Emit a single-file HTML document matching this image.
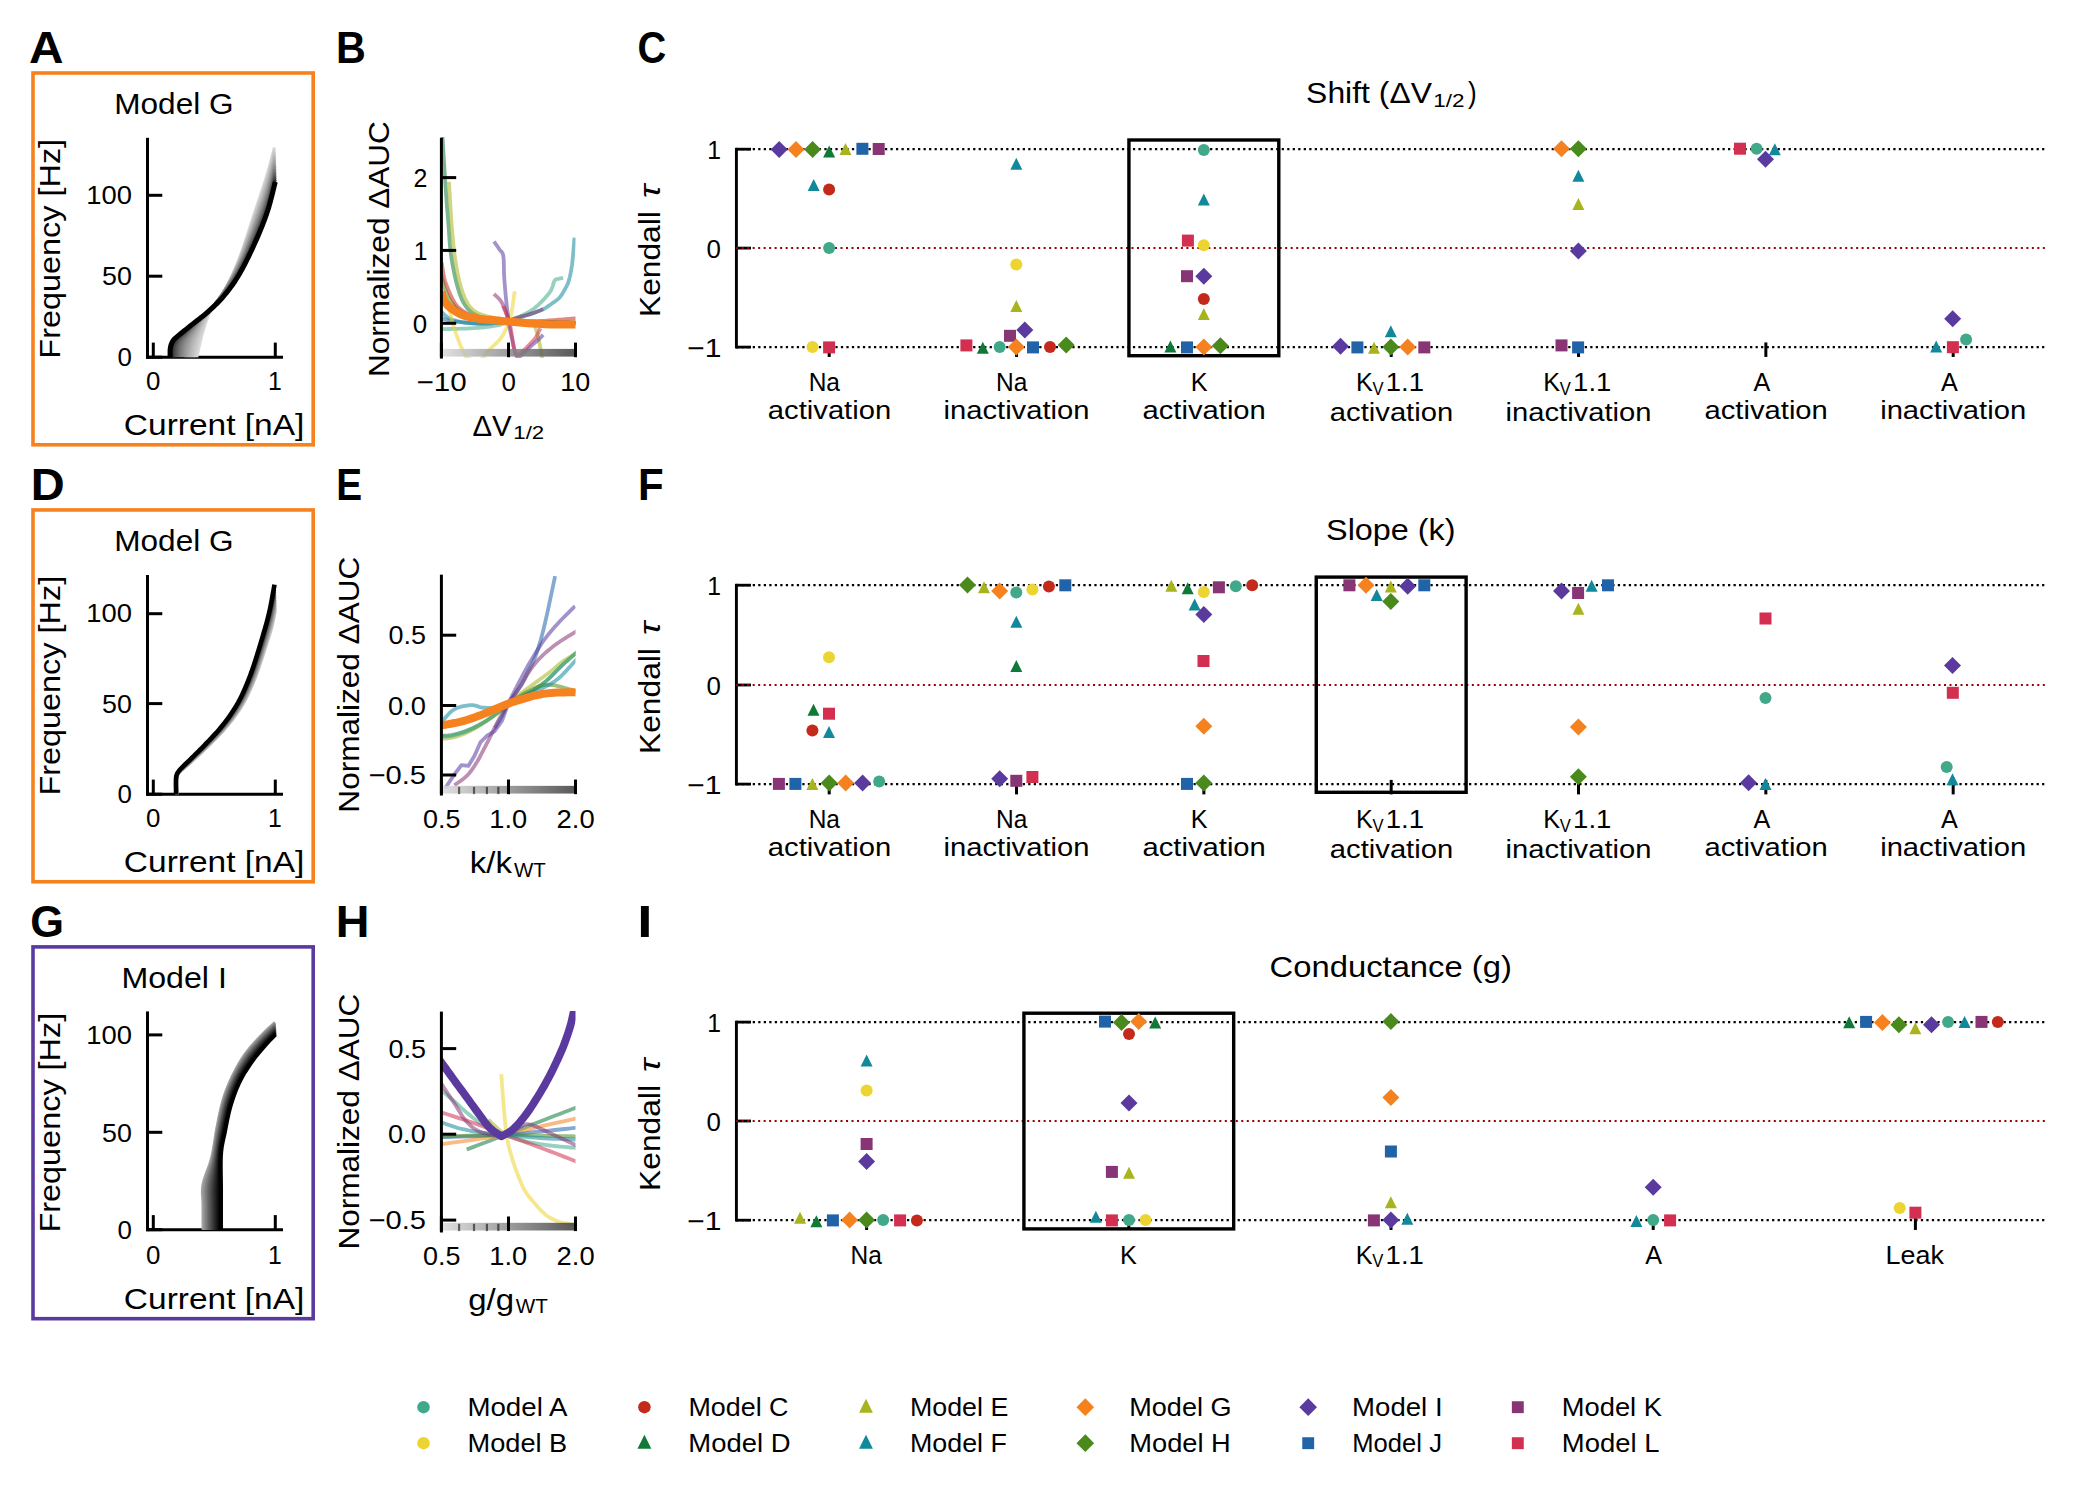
<!DOCTYPE html>
<html><head><meta charset="utf-8"><title>Figure</title><style>html,body{margin:0;padding:0;background:#fff;width:2076px;height:1497px;overflow:hidden}svg{display:block;font-family:"Liberation Sans",sans-serif}</style></head><body>
<svg width="2076" height="1497" viewBox="0 0 2076 1497" font-family="'Liberation Sans', sans-serif">
<defs><linearGradient id="gbar" x1="0" y1="0" x2="1" y2="0"><stop offset="0" stop-color="#dcdcdc"/><stop offset="0.5" stop-color="#8c8c8c"/><stop offset="1" stop-color="#3c3c3c"/></linearGradient></defs>
<rect width="2076" height="1497" fill="#fff"/>
<text x="29.01" y="62.90" font-size="44.51" textLength="34.54" lengthAdjust="spacingAndGlyphs" font-weight="bold" fill="#000">A</text>
<text x="336.10" y="62.90" font-size="44.51" textLength="29.83" lengthAdjust="spacingAndGlyphs" font-weight="bold" fill="#000">B</text>
<text x="637.47" y="62.90" font-size="44.51" textLength="28.75" lengthAdjust="spacingAndGlyphs" font-weight="bold" fill="#000">C</text>
<text x="30.71" y="499.85" font-size="44.51" textLength="33.94" lengthAdjust="spacingAndGlyphs" font-weight="bold" fill="#000">D</text>
<text x="336.27" y="499.85" font-size="44.51" textLength="25.87" lengthAdjust="spacingAndGlyphs" font-weight="bold" fill="#000">E</text>
<text x="638.05" y="499.85" font-size="44.51" textLength="25.66" lengthAdjust="spacingAndGlyphs" font-weight="bold" fill="#000">F</text>
<text x="30.32" y="936.80" font-size="44.51" textLength="33.73" lengthAdjust="spacingAndGlyphs" font-weight="bold" fill="#000">G</text>
<text x="335.74" y="936.80" font-size="44.51" textLength="33.68" lengthAdjust="spacingAndGlyphs" font-weight="bold" fill="#000">H</text>
<text x="637.19" y="936.80" font-size="44.51" textLength="15.23" lengthAdjust="spacingAndGlyphs" font-weight="bold" fill="#000">I</text>
<rect x="33.0" y="73.00" width="280.2" height="371.80" fill="none" stroke="#f5821f" stroke-width="3.6"/>
<rect x="33.0" y="509.95" width="280.2" height="371.80" fill="none" stroke="#f5821f" stroke-width="3.6"/>
<rect x="33.0" y="946.90" width="280.2" height="371.80" fill="none" stroke="#5a3a9e" stroke-width="3.6"/>
<line x1="147.50" y1="137.80" x2="147.50" y2="358.70" stroke="#000" stroke-width="3"/>
<line x1="146.00" y1="357.20" x2="283.00" y2="357.20" stroke="#000" stroke-width="3"/>
<line x1="153.30" y1="342.60" x2="153.30" y2="357.20" stroke="#000" stroke-width="3"/>
<line x1="275.30" y1="342.60" x2="275.30" y2="357.20" stroke="#000" stroke-width="3"/>
<line x1="147.50" y1="357.20" x2="162.30" y2="357.20" stroke="#000" stroke-width="3"/>
<text x="117.52" y="366.40" font-size="25.82" textLength="14.40" lengthAdjust="spacingAndGlyphs" fill="#000">0</text>
<line x1="147.50" y1="276.20" x2="162.30" y2="276.20" stroke="#000" stroke-width="3"/>
<text x="102.11" y="285.40" font-size="25.82" textLength="29.85" lengthAdjust="spacingAndGlyphs" fill="#000">50</text>
<line x1="147.50" y1="195.30" x2="162.30" y2="195.30" stroke="#000" stroke-width="3"/>
<text x="86.30" y="203.90" font-size="25.82" textLength="45.68" lengthAdjust="spacingAndGlyphs" fill="#000">100</text>
<text x="146.10" y="390.40" font-size="25.82" textLength="14.40" lengthAdjust="spacingAndGlyphs" fill="#000">0</text>
<text x="268.09" y="390.40" font-size="25.82" textLength="13.75" lengthAdjust="spacingAndGlyphs" fill="#000">1</text>
<text x="123.89" y="434.70" font-size="30.40" textLength="180.39" lengthAdjust="spacingAndGlyphs" fill="#000">Current [nA]</text>
<text transform="translate(60.40,356.01) rotate(-90)" x="-2.66" y="0" font-size="30.40" textLength="219.79" lengthAdjust="spacingAndGlyphs" fill="#000">Frequency [Hz]</text>
<text x="114.25" y="113.70" font-size="30.40" textLength="119.28" lengthAdjust="spacingAndGlyphs" fill="#000">Model G</text>
<line x1="147.50" y1="575.00" x2="147.50" y2="795.70" stroke="#000" stroke-width="3"/>
<line x1="146.00" y1="794.20" x2="283.00" y2="794.20" stroke="#000" stroke-width="3"/>
<line x1="153.30" y1="779.60" x2="153.30" y2="794.20" stroke="#000" stroke-width="3"/>
<line x1="275.30" y1="779.60" x2="275.30" y2="794.20" stroke="#000" stroke-width="3"/>
<line x1="147.50" y1="794.20" x2="162.30" y2="794.20" stroke="#000" stroke-width="3"/>
<text x="117.52" y="803.40" font-size="25.82" textLength="14.40" lengthAdjust="spacingAndGlyphs" fill="#000">0</text>
<line x1="147.50" y1="703.60" x2="162.30" y2="703.60" stroke="#000" stroke-width="3"/>
<text x="102.11" y="712.80" font-size="25.82" textLength="29.85" lengthAdjust="spacingAndGlyphs" fill="#000">50</text>
<line x1="147.50" y1="613.70" x2="162.30" y2="613.70" stroke="#000" stroke-width="3"/>
<text x="86.30" y="622.30" font-size="25.82" textLength="45.68" lengthAdjust="spacingAndGlyphs" fill="#000">100</text>
<text x="146.10" y="827.35" font-size="25.82" textLength="14.40" lengthAdjust="spacingAndGlyphs" fill="#000">0</text>
<text x="268.09" y="827.35" font-size="25.82" textLength="13.75" lengthAdjust="spacingAndGlyphs" fill="#000">1</text>
<text x="123.89" y="871.65" font-size="30.40" textLength="180.39" lengthAdjust="spacingAndGlyphs" fill="#000">Current [nA]</text>
<text transform="translate(60.40,792.96) rotate(-90)" x="-2.66" y="0" font-size="30.40" textLength="219.79" lengthAdjust="spacingAndGlyphs" fill="#000">Frequency [Hz]</text>
<text x="114.25" y="550.65" font-size="30.40" textLength="119.28" lengthAdjust="spacingAndGlyphs" fill="#000">Model G</text>
<line x1="147.50" y1="1011.40" x2="147.50" y2="1231.20" stroke="#000" stroke-width="3"/>
<line x1="146.00" y1="1229.70" x2="283.00" y2="1229.70" stroke="#000" stroke-width="3"/>
<line x1="153.30" y1="1215.10" x2="153.30" y2="1229.70" stroke="#000" stroke-width="3"/>
<line x1="275.30" y1="1215.10" x2="275.30" y2="1229.70" stroke="#000" stroke-width="3"/>
<line x1="147.50" y1="1229.70" x2="162.30" y2="1229.70" stroke="#000" stroke-width="3"/>
<text x="117.52" y="1238.90" font-size="25.82" textLength="14.40" lengthAdjust="spacingAndGlyphs" fill="#000">0</text>
<line x1="147.50" y1="1132.30" x2="162.30" y2="1132.30" stroke="#000" stroke-width="3"/>
<text x="102.11" y="1141.50" font-size="25.82" textLength="29.85" lengthAdjust="spacingAndGlyphs" fill="#000">50</text>
<line x1="147.50" y1="1034.90" x2="162.30" y2="1034.90" stroke="#000" stroke-width="3"/>
<text x="86.30" y="1043.50" font-size="25.82" textLength="45.68" lengthAdjust="spacingAndGlyphs" fill="#000">100</text>
<text x="146.10" y="1264.30" font-size="25.82" textLength="14.40" lengthAdjust="spacingAndGlyphs" fill="#000">0</text>
<text x="268.09" y="1264.30" font-size="25.82" textLength="13.75" lengthAdjust="spacingAndGlyphs" fill="#000">1</text>
<text x="123.89" y="1308.60" font-size="30.40" textLength="180.39" lengthAdjust="spacingAndGlyphs" fill="#000">Current [nA]</text>
<text transform="translate(60.40,1229.91) rotate(-90)" x="-2.66" y="0" font-size="30.40" textLength="219.79" lengthAdjust="spacingAndGlyphs" fill="#000">Frequency [Hz]</text>
<text x="121.45" y="987.60" font-size="30.40" textLength="105.44" lengthAdjust="spacingAndGlyphs" fill="#000">Model I</text>
<path d="M196.80 357.20 L197.42 354.42 L198.04 351.63 L198.66 348.85 L199.29 346.07 L199.94 343.30 L200.62 340.53 L201.31 337.76 L202.01 335.00 L202.75 332.25 L203.54 329.51 L204.40 326.79 L205.31 324.09 L206.21 321.38 L207.15 318.69 L208.19 316.04 L209.37 313.44 L210.68 310.91 L212.18 308.49 L213.91 306.23 L215.74 304.04 L217.58 301.86 L219.34 299.62 L220.99 297.30 L222.51 294.89 L223.92 292.41 L225.26 289.90 L226.56 287.36 L227.83 284.81 L229.08 282.24 L230.29 279.66 L231.49 277.08 L232.66 274.48 L233.80 271.87 L234.93 269.25 L236.03 266.62 L237.11 263.98 L238.16 261.33 L239.21 258.68 L240.20 256.01 L241.19 253.33 L242.13 250.64 L243.07 247.95 L243.99 245.25 L244.89 242.55 L245.79 239.84 L246.67 237.13 L247.55 234.42 L248.42 231.71 L249.30 228.99 L250.16 226.28 L251.03 223.56 L251.90 220.85 L252.77 218.13 L253.65 215.42 L254.54 212.71 L255.43 210.01 L256.34 207.30 L257.24 204.60 L258.16 201.90 L259.07 199.20 L259.98 196.50 L260.89 193.80 L261.80 191.09 L262.69 188.39 L263.58 185.68 L264.45 182.96 L265.30 180.25 L266.14 177.52 L266.96 174.79 L267.75 172.05 L268.53 169.31 L269.30 166.56 L270.05 163.82 L270.80 161.07 L271.55 158.31 L272.28 155.56 L273.02 152.81 L273.75 150.05 L274.50 147.30" fill="none" stroke="#d9d9d9" stroke-width="3.0" stroke-linejoin="round" stroke-linecap="butt" stroke-linecap="butt"/>
<path d="M195.13 357.20 L195.71 354.42 L196.29 351.65 L196.88 348.87 L197.50 346.10 L198.15 343.34 L198.86 340.59 L199.60 337.86 L200.38 335.16 L201.20 332.47 L202.07 329.80 L203.01 327.15 L203.99 324.51 L204.97 321.87 L205.98 319.24 L207.09 316.65 L208.32 314.11 L209.68 311.64 L211.22 309.27 L212.98 307.04 L214.83 304.89 L216.67 302.74 L218.45 300.53 L220.13 298.25 L221.68 295.87 L223.13 293.44 L224.51 290.97 L225.84 288.48 L227.16 285.97 L228.44 283.45 L229.69 280.91 L230.93 278.36 L232.13 275.79 L233.31 273.21 L234.47 270.63 L235.60 268.03 L236.72 265.43 L237.80 262.81 L238.88 260.18 L239.90 257.54 L240.92 254.89 L241.89 252.23 L242.86 249.56 L243.80 246.88 L244.73 244.20 L245.64 241.52 L246.55 238.83 L247.45 236.14 L248.34 233.45 L249.23 230.75 L250.12 228.05 L251.00 225.36 L251.89 222.66 L252.78 219.96 L253.67 217.27 L254.57 214.58 L255.48 211.89 L256.39 209.20 L257.31 206.51 L258.23 203.83 L259.15 201.14 L260.07 198.46 L260.98 195.77 L261.89 193.08 L262.79 190.38 L263.68 187.69 L264.55 184.99 L265.41 182.28 L266.25 179.57 L267.06 176.84 L267.85 174.12 L268.63 171.39 L269.39 168.65 L270.14 165.91 L270.89 163.17 L271.62 160.43 L272.35 157.69 L273.08 154.94 L273.81 152.20 L274.55 149.46" fill="none" stroke="#d1d1d1" stroke-width="3.0" stroke-linejoin="round" stroke-linecap="butt" stroke-linecap="butt"/>
<path d="M193.46 357.20 L194.00 354.43 L194.54 351.66 L195.10 348.89 L195.70 346.13 L196.36 343.38 L197.10 340.66 L197.89 337.96 L198.76 335.32 L199.66 332.70 L200.61 330.09 L201.62 327.50 L202.67 324.93 L203.72 322.35 L204.81 319.79 L205.98 317.26 L207.27 314.78 L208.68 312.36 L210.26 310.04 L212.04 307.85 L213.91 305.74 L215.77 303.62 L217.57 301.45 L219.27 299.20 L220.85 296.86 L222.33 294.48 L223.75 292.05 L225.13 289.60 L226.48 287.13 L227.81 284.65 L229.10 282.15 L230.37 279.63 L231.60 277.10 L232.82 274.56 L234.01 272.01 L235.18 269.44 L236.33 266.87 L237.44 264.28 L238.55 261.68 L239.60 259.07 L240.65 256.45 L241.65 253.81 L242.64 251.17 L243.61 248.51 L244.56 245.86 L245.50 243.19 L246.43 240.53 L247.35 237.86 L248.26 235.18 L249.17 232.51 L250.08 229.83 L250.98 227.15 L251.88 224.47 L252.78 221.80 L253.69 219.12 L254.61 216.44 L255.53 213.77 L256.45 211.10 L257.38 208.43 L258.30 205.76 L259.23 203.09 L260.16 200.41 L261.08 197.74 L261.99 195.06 L262.89 192.38 L263.78 189.70 L264.66 187.01 L265.51 184.31 L266.35 181.61 L267.16 178.90 L267.95 176.18 L268.73 173.46 L269.48 170.74 L270.23 168.01 L270.97 165.28 L271.70 162.55 L272.42 159.81 L273.14 157.08 L273.87 154.34 L274.60 151.61" fill="none" stroke="#c9c9c9" stroke-width="3.0" stroke-linejoin="round" stroke-linecap="butt" stroke-linecap="butt"/>
<path d="M191.79 357.20 L192.29 354.44 L192.79 351.68 L193.32 348.91 L193.91 346.16 L194.58 343.43 L195.34 340.72 L196.18 338.06 L197.13 335.48 L198.11 332.92 L199.14 330.38 L200.23 327.86 L201.35 325.35 L202.48 322.84 L203.64 320.34 L204.88 317.87 L206.22 315.45 L207.68 313.08 L209.30 310.81 L211.11 308.67 L212.99 306.58 L214.87 304.50 L216.69 302.36 L218.41 300.14 L220.02 297.85 L221.54 295.51 L223.00 293.12 L224.42 290.72 L225.81 288.29 L227.17 285.85 L228.50 283.39 L229.80 280.91 L231.08 278.42 L232.33 275.91 L233.56 273.39 L234.75 270.86 L235.94 268.31 L237.08 265.75 L238.22 263.19 L239.30 260.60 L240.38 258.00 L241.40 255.39 L242.42 252.77 L243.42 250.14 L244.39 247.51 L245.36 244.87 L246.31 242.22 L247.25 239.57 L248.18 236.92 L249.11 234.26 L250.04 231.61 L250.95 228.95 L251.87 226.29 L252.79 223.63 L253.71 220.97 L254.64 218.31 L255.57 215.65 L256.51 213.00 L257.44 210.34 L258.38 207.68 L259.31 205.03 L260.24 202.37 L261.17 199.71 L262.09 197.05 L262.99 194.38 L263.89 191.71 L264.76 189.03 L265.62 186.35 L266.46 183.66 L267.27 180.96 L268.05 178.25 L268.83 175.54 L269.58 172.83 L270.32 170.11 L271.05 167.39 L271.77 164.66 L272.49 161.94 L273.21 159.22 L273.92 156.49 L274.65 153.77" fill="none" stroke="#c1c1c1" stroke-width="3.0" stroke-linejoin="round" stroke-linecap="butt" stroke-linecap="butt"/>
<path d="M190.13 357.20 L190.58 354.44 L191.04 351.69 L191.54 348.93 L192.11 346.19 L192.79 343.47 L193.58 340.79 L194.47 338.16 L195.50 335.65 L196.56 333.15 L197.67 330.67 L198.84 328.21 L200.04 325.77 L201.24 323.32 L202.47 320.89 L203.77 318.48 L205.17 316.12 L206.68 313.81 L208.34 311.58 L210.17 309.48 L212.07 307.43 L213.97 305.38 L215.81 303.27 L217.55 301.09 L219.19 298.84 L220.75 296.54 L222.24 294.20 L223.70 291.84 L225.13 289.46 L226.54 287.06 L227.90 284.63 L229.24 282.19 L230.55 279.73 L231.83 277.26 L233.10 274.77 L234.33 272.27 L235.54 269.76 L236.72 267.23 L237.89 264.69 L239.00 262.13 L240.11 259.56 L241.16 256.97 L242.21 254.38 L243.23 251.78 L244.23 249.16 L245.21 246.54 L246.19 243.92 L247.15 241.29 L248.10 238.66 L249.05 236.02 L249.99 233.38 L250.93 230.74 L251.87 228.10 L252.80 225.46 L253.74 222.82 L254.68 220.18 L255.62 217.53 L256.56 214.89 L257.51 212.25 L258.45 209.61 L259.40 206.97 L260.33 204.33 L261.26 201.68 L262.18 199.03 L263.09 196.37 L263.99 193.72 L264.87 191.05 L265.73 188.38 L266.56 185.70 L267.37 183.01 L268.16 180.32 L268.92 177.62 L269.67 174.91 L270.41 172.21 L271.13 169.50 L271.85 166.78 L272.56 164.07 L273.27 161.35 L273.98 158.64 L274.70 155.93" fill="none" stroke="#b9b9b9" stroke-width="3.0" stroke-linejoin="round" stroke-linecap="butt" stroke-linecap="butt"/>
<path d="M188.46 357.20 L188.87 354.45 L189.30 351.70 L189.76 348.96 L190.32 346.22 L191.00 343.51 L191.82 340.85 L192.77 338.26 L193.87 335.81 L195.01 333.37 L196.20 330.96 L197.45 328.57 L198.72 326.19 L199.99 323.81 L201.30 321.44 L202.67 319.09 L204.12 316.78 L205.68 314.53 L207.38 312.35 L209.23 310.29 L211.15 308.28 L213.07 306.26 L214.92 304.19 L216.69 302.04 L218.36 299.83 L219.95 297.57 L221.49 295.28 L222.99 292.96 L224.46 290.62 L225.90 288.26 L227.31 285.88 L228.68 283.47 L230.03 281.05 L231.34 278.61 L232.64 276.15 L233.90 273.68 L235.15 271.20 L236.36 268.70 L237.56 266.19 L238.70 263.66 L239.83 261.12 L240.92 258.56 L241.99 255.99 L243.03 253.41 L244.06 250.82 L245.07 248.22 L246.06 245.61 L247.05 243.01 L248.02 240.39 L248.99 237.78 L249.95 235.16 L250.90 232.54 L251.86 229.91 L252.81 227.29 L253.76 224.66 L254.71 222.04 L255.67 219.42 L256.62 216.79 L257.58 214.17 L258.53 211.54 L259.48 208.91 L260.42 206.28 L261.36 203.65 L262.28 201.01 L263.19 198.37 L264.09 195.72 L264.97 193.07 L265.83 190.41 L266.67 187.75 L267.48 185.07 L268.26 182.38 L269.02 179.70 L269.76 177.00 L270.49 174.30 L271.21 171.60 L271.92 168.90 L272.63 166.19 L273.33 163.49 L274.03 160.78 L274.75 158.08" fill="none" stroke="#b0b0b0" stroke-width="3.0" stroke-linejoin="round" stroke-linecap="butt" stroke-linecap="butt"/>
<path d="M186.79 357.20 L187.17 354.46 L187.55 351.72 L187.98 348.98 L188.52 346.25 L189.22 343.55 L190.06 340.92 L191.06 338.36 L192.24 335.97 L193.47 333.60 L194.74 331.25 L196.06 328.92 L197.40 326.61 L198.75 324.29 L200.12 321.98 L201.56 319.70 L203.08 317.45 L204.68 315.25 L206.42 313.13 L208.30 311.10 L210.23 309.12 L212.16 307.13 L214.04 305.10 L215.83 302.99 L217.53 300.82 L219.16 298.60 L220.74 296.35 L222.27 294.08 L223.79 291.78 L225.27 289.46 L226.71 287.12 L228.12 284.75 L229.50 282.36 L230.85 279.95 L232.18 277.53 L233.48 275.10 L234.76 272.64 L236.00 270.17 L237.23 267.69 L238.40 265.19 L239.56 262.68 L240.68 260.14 L241.78 257.60 L242.84 255.04 L243.89 252.47 L244.93 249.89 L245.94 247.31 L246.95 244.72 L247.94 242.13 L248.93 239.53 L249.91 236.93 L250.88 234.33 L251.85 231.73 L252.81 229.12 L253.78 226.51 L254.75 223.91 L255.71 221.30 L256.68 218.69 L257.65 216.08 L258.60 213.47 L259.56 210.86 L260.51 208.24 L261.45 205.62 L262.38 203.00 L263.29 200.37 L264.20 197.73 L265.08 195.09 L265.94 192.45 L266.77 189.79 L267.58 187.13 L268.36 184.45 L269.12 181.77 L269.86 179.09 L270.58 176.40 L271.30 173.71 L272.00 171.02 L272.70 168.32 L273.39 165.63 L274.09 162.93 L274.80 160.24" fill="none" stroke="#a7a7a7" stroke-width="3.0" stroke-linejoin="round" stroke-linecap="butt" stroke-linecap="butt"/>
<path d="M185.12 357.20 L185.46 354.47 L185.80 351.73 L186.20 349.00 L186.73 346.28 L187.43 343.60 L188.30 340.98 L189.35 338.46 L190.61 336.13 L191.92 333.82 L193.27 331.54 L194.67 329.28 L196.09 327.02 L197.51 324.77 L198.95 322.53 L200.45 320.31 L202.03 318.12 L203.68 315.97 L205.46 313.90 L207.36 311.91 L209.32 309.97 L211.26 308.01 L213.16 306.01 L214.97 303.94 L216.70 301.81 L218.37 299.63 L219.98 297.43 L221.56 295.20 L223.11 292.95 L224.63 290.67 L226.11 288.36 L227.56 286.03 L228.97 283.67 L230.36 281.30 L231.72 278.91 L233.06 276.51 L234.37 274.09 L235.64 271.65 L236.90 269.20 L238.10 266.72 L239.29 264.23 L240.43 261.72 L241.56 259.20 L242.65 256.67 L243.73 254.12 L244.78 251.57 L245.82 249.01 L246.85 246.44 L247.86 243.87 L248.87 241.29 L249.86 238.71 L250.85 236.13 L251.84 233.54 L252.82 230.95 L253.80 228.36 L254.78 225.77 L255.76 223.18 L256.74 220.59 L257.71 217.99 L258.68 215.40 L259.64 212.80 L260.60 210.20 L261.54 207.59 L262.48 204.98 L263.39 202.36 L264.30 199.74 L265.18 197.12 L266.04 194.48 L266.88 191.84 L267.69 189.18 L268.46 186.52 L269.22 183.85 L269.95 181.18 L270.67 178.50 L271.38 175.82 L272.08 173.13 L272.77 170.45 L273.46 167.76 L274.15 165.08 L274.85 162.39" fill="none" stroke="#9e9e9e" stroke-width="3.0" stroke-linejoin="round" stroke-linecap="butt" stroke-linecap="butt"/>
<path d="M183.45 357.20 L183.75 354.47 L184.05 351.74 L184.41 349.02 L184.93 346.31 L185.64 343.64 L186.54 341.04 L187.64 338.56 L188.99 336.29 L190.37 334.05 L191.80 331.83 L193.27 329.63 L194.77 327.44 L196.26 325.26 L197.78 323.08 L199.35 320.92 L200.98 318.79 L202.69 316.70 L204.50 314.67 L206.42 312.73 L208.40 310.82 L210.36 308.89 L212.27 306.93 L214.11 304.89 L215.87 302.80 L217.57 300.67 L219.23 298.50 L220.85 296.32 L222.44 294.11 L224.00 291.87 L225.52 289.60 L227.00 287.31 L228.45 284.99 L229.87 282.65 L231.27 280.29 L232.63 277.92 L233.97 275.53 L235.28 273.12 L236.56 270.70 L237.81 268.25 L239.02 265.79 L240.19 263.30 L241.35 260.81 L242.46 258.30 L243.56 255.78 L244.64 253.24 L245.70 250.70 L246.75 248.16 L247.78 245.61 L248.81 243.05 L249.82 240.49 L250.83 237.92 L251.83 235.35 L252.83 232.78 L253.82 230.21 L254.82 227.64 L255.81 225.06 L256.79 222.49 L257.78 219.91 L258.75 217.33 L259.72 214.74 L260.69 212.15 L261.63 209.56 L262.57 206.96 L263.49 204.36 L264.40 201.75 L265.29 199.14 L266.15 196.51 L266.99 193.88 L267.79 191.24 L268.56 188.59 L269.31 185.93 L270.04 183.26 L270.76 180.60 L271.46 177.92 L272.15 175.25 L272.84 172.58 L273.52 169.90 L274.20 167.22 L274.90 164.55" fill="none" stroke="#949494" stroke-width="3.0" stroke-linejoin="round" stroke-linecap="butt" stroke-linecap="butt"/>
<path d="M181.78 357.20 L182.04 354.48 L182.30 351.76 L182.63 349.04 L183.14 346.34 L183.85 343.68 L184.78 341.11 L185.93 338.66 L187.36 336.45 L188.83 334.27 L190.34 332.12 L191.88 329.99 L193.45 327.86 L195.02 325.74 L196.61 323.63 L198.24 321.53 L199.93 319.46 L201.69 317.42 L203.54 315.44 L205.49 313.54 L207.48 311.66 L209.46 309.77 L211.39 307.84 L213.25 305.84 L215.04 303.79 L216.78 301.70 L218.47 299.58 L220.13 297.44 L221.77 295.27 L223.36 293.08 L224.92 290.85 L226.44 288.59 L227.92 286.30 L229.38 284.00 L230.81 281.68 L232.21 279.33 L233.58 276.98 L234.92 274.60 L236.23 272.20 L237.51 269.78 L238.75 267.35 L239.95 264.89 L241.13 262.42 L242.27 259.93 L243.39 257.43 L244.50 254.92 L245.58 252.40 L246.65 249.87 L247.70 247.34 L248.74 244.80 L249.78 242.26 L250.80 239.72 L251.82 237.17 L252.84 234.61 L253.84 232.06 L254.85 229.50 L255.85 226.94 L256.85 224.38 L257.85 221.82 L258.83 219.25 L259.81 216.68 L260.77 214.11 L261.73 211.53 L262.67 208.95 L263.59 206.36 L264.50 203.76 L265.39 201.16 L266.26 198.55 L267.09 195.92 L267.90 193.30 L268.66 190.65 L269.41 188.01 L270.14 185.35 L270.84 182.69 L271.54 180.03 L272.23 177.37 L272.91 174.70 L273.58 172.04 L274.26 169.37 L274.95 166.71" fill="none" stroke="#8a8a8a" stroke-width="3.0" stroke-linejoin="round" stroke-linecap="butt" stroke-linecap="butt"/>
<path d="M180.11 357.20 L180.33 354.49 L180.56 351.77 L180.85 349.06 L181.35 346.37 L182.07 343.73 L183.02 341.17 L184.22 338.76 L185.73 336.61 L187.28 334.50 L188.87 332.41 L190.49 330.34 L192.13 328.28 L193.78 326.23 L195.44 324.18 L197.14 322.14 L198.88 320.12 L200.69 318.14 L202.58 316.22 L204.55 314.35 L206.56 312.51 L208.56 310.65 L210.51 308.75 L212.39 306.79 L214.21 304.78 L215.98 302.73 L217.72 300.66 L219.42 298.56 L221.09 296.43 L222.73 294.28 L224.32 292.09 L225.88 289.87 L227.40 287.62 L228.88 285.34 L230.35 283.06 L231.78 280.75 L233.19 278.42 L234.56 276.07 L235.90 273.70 L237.21 271.31 L238.48 268.90 L239.71 266.47 L240.91 264.02 L242.08 261.56 L243.23 259.08 L244.35 256.60 L245.46 254.10 L246.55 251.59 L247.62 249.08 L248.68 246.56 L249.74 244.04 L250.78 241.51 L251.81 238.98 L252.84 236.45 L253.86 233.91 L254.88 231.37 L255.90 228.83 L256.91 226.28 L257.91 223.74 L258.90 221.18 L259.89 218.63 L260.86 216.07 L261.82 213.50 L262.77 210.93 L263.70 208.35 L264.61 205.77 L265.50 203.18 L266.36 200.58 L267.20 197.97 L268.00 195.35 L268.76 192.72 L269.51 190.08 L270.23 187.44 L270.93 184.79 L271.63 182.14 L272.30 179.48 L272.98 176.83 L273.64 174.17 L274.31 171.51 L275.00 168.86" fill="none" stroke="#7e7e7e" stroke-width="3.0" stroke-linejoin="round" stroke-linecap="butt" stroke-linecap="butt"/>
<path d="M178.44 357.20 L178.62 354.49 L178.81 351.78 L179.07 349.08 L179.55 346.40 L180.28 343.77 L181.26 341.24 L182.51 338.86 L184.10 336.77 L185.73 334.72 L187.40 332.70 L189.10 330.70 L190.82 328.70 L192.54 326.71 L194.27 324.73 L196.03 322.75 L197.83 320.79 L199.69 318.87 L201.62 316.99 L203.62 315.16 L205.64 313.35 L207.65 311.53 L209.63 309.66 L211.54 307.74 L213.38 305.77 L215.19 303.76 L216.96 301.73 L218.71 299.68 L220.42 297.60 L222.10 295.48 L223.73 293.33 L225.32 291.15 L226.87 288.93 L228.39 286.69 L229.89 284.44 L231.36 282.16 L232.80 279.86 L234.20 277.54 L235.57 275.21 L236.91 272.84 L238.21 270.46 L239.46 268.05 L240.70 265.63 L241.89 263.19 L243.06 260.74 L244.21 258.27 L245.34 255.79 L246.45 253.31 L247.54 250.82 L248.62 248.32 L249.69 245.81 L250.75 243.31 L251.80 240.79 L252.85 238.28 L253.89 235.76 L254.92 233.23 L255.95 230.71 L256.96 228.18 L257.98 225.65 L258.98 223.11 L259.97 220.57 L260.95 218.02 L261.91 215.47 L262.86 212.91 L263.80 210.35 L264.71 207.78 L265.60 205.20 L266.47 202.61 L267.30 200.01 L268.11 197.41 L268.87 194.79 L269.61 192.16 L270.32 189.53 L271.02 186.89 L271.71 184.25 L272.38 181.60 L273.05 178.96 L273.71 176.31 L274.37 173.66 L275.05 171.02" fill="none" stroke="#727272" stroke-width="3.0" stroke-linejoin="round" stroke-linecap="butt" stroke-linecap="butt"/>
<path d="M176.77 357.20 L176.91 354.50 L177.06 351.80 L177.29 349.10 L177.76 346.42 L178.49 343.81 L179.51 341.30 L180.80 338.96 L182.47 336.94 L184.19 334.95 L185.93 332.99 L187.71 331.05 L189.50 329.12 L191.29 327.20 L193.10 325.27 L194.92 323.36 L196.78 321.46 L198.69 319.59 L200.66 317.76 L202.68 315.98 L204.72 314.20 L206.75 312.41 L208.74 310.58 L210.68 308.69 L212.55 306.76 L214.40 304.79 L216.21 302.81 L217.99 300.80 L219.74 298.76 L221.46 296.69 L223.13 294.57 L224.76 292.43 L226.34 290.24 L227.90 288.04 L229.43 285.82 L230.93 283.57 L232.40 281.31 L233.84 279.02 L235.24 276.71 L236.61 274.37 L237.94 272.02 L239.22 269.64 L240.48 267.24 L241.70 264.82 L242.89 262.39 L244.07 259.95 L245.21 257.49 L246.34 255.02 L247.46 252.55 L248.56 250.07 L249.65 247.59 L250.73 245.10 L251.80 242.61 L252.86 240.11 L253.91 237.60 L254.95 235.10 L255.99 232.59 L257.02 230.08 L258.05 227.56 L259.05 225.04 L260.05 222.51 L261.04 219.98 L262.01 217.44 L262.96 214.90 L263.90 212.35 L264.81 209.79 L265.71 207.22 L266.57 204.65 L267.41 202.06 L268.21 199.46 L268.97 196.85 L269.71 194.24 L270.42 191.61 L271.11 188.99 L271.79 186.35 L272.45 183.72 L273.11 181.08 L273.77 178.44 L274.42 175.81 L275.10 173.18" fill="none" stroke="#656565" stroke-width="3.0" stroke-linejoin="round" stroke-linecap="butt" stroke-linecap="butt"/>
<path d="M175.11 357.20 L175.20 354.51 L175.31 351.81 L175.51 349.12 L175.96 346.45 L176.70 343.85 L177.75 341.37 L179.09 339.06 L180.85 337.10 L182.64 335.17 L184.47 333.28 L186.32 331.41 L188.18 329.54 L190.05 327.68 L191.92 325.82 L193.82 323.97 L195.74 322.13 L197.69 320.31 L199.69 318.53 L201.74 316.79 L203.80 315.05 L205.85 313.29 L207.86 311.49 L209.82 309.64 L211.73 307.74 L213.60 305.83 L215.46 303.89 L217.28 301.92 L219.07 299.92 L220.83 297.89 L222.53 295.82 L224.20 293.71 L225.82 291.56 L227.41 289.39 L228.98 287.20 L230.51 284.99 L232.01 282.75 L233.48 280.49 L234.91 278.21 L236.31 275.90 L237.67 273.57 L238.98 271.22 L240.27 268.85 L241.51 266.45 L242.73 264.04 L243.92 261.62 L245.09 259.19 L246.24 256.74 L247.38 254.29 L248.50 251.83 L249.61 249.37 L250.70 246.89 L251.79 244.42 L252.86 241.94 L253.93 239.45 L254.99 236.97 L256.04 234.47 L257.08 231.98 L258.11 229.48 L259.13 226.97 L260.13 224.46 L261.13 221.94 L262.10 219.41 L263.06 216.88 L264.00 214.34 L264.91 211.80 L265.81 209.24 L266.68 206.68 L267.51 204.10 L268.32 201.52 L269.07 198.92 L269.80 196.31 L270.51 193.70 L271.20 191.08 L271.87 188.46 L272.53 185.84 L273.18 183.21 L273.83 180.58 L274.48 177.95 L275.15 175.33" fill="none" stroke="#565656" stroke-width="3.0" stroke-linejoin="round" stroke-linecap="butt" stroke-linecap="butt"/>
<path d="M173.44 357.20 L173.49 354.51 L173.56 351.83 L173.73 349.14 L174.17 346.48 L174.92 343.90 L175.99 341.43 L177.39 339.16 L179.22 337.26 L181.09 335.40 L183.00 333.57 L184.93 331.76 L186.86 329.96 L188.81 328.16 L190.75 326.37 L192.71 324.58 L194.69 322.80 L196.69 321.04 L198.73 319.31 L200.81 317.60 L202.89 315.89 L204.95 314.17 L206.98 312.40 L208.96 310.59 L210.90 308.73 L212.81 306.86 L214.70 304.96 L216.57 303.04 L218.40 301.08 L220.19 299.09 L221.94 297.06 L223.64 294.98 L225.29 292.87 L226.92 290.74 L228.52 288.58 L230.09 286.40 L231.62 284.19 L233.12 281.96 L234.58 279.71 L236.01 277.44 L237.40 275.13 L238.74 272.80 L240.05 270.45 L241.32 268.08 L242.56 265.70 L243.78 263.30 L244.97 260.88 L246.14 258.46 L247.30 256.03 L248.44 253.59 L249.57 251.14 L250.68 248.69 L251.78 246.23 L252.87 243.77 L253.95 241.30 L255.02 238.83 L256.09 236.35 L257.14 233.87 L258.18 231.39 L259.20 228.90 L260.22 226.40 L261.21 223.89 L262.19 221.38 L263.16 218.87 L264.10 216.34 L265.02 213.81 L265.92 211.27 L266.78 208.71 L267.62 206.15 L268.42 203.58 L269.17 200.99 L269.90 198.39 L270.60 195.79 L271.28 193.18 L271.95 190.57 L272.61 187.95 L273.25 185.34 L273.89 182.72 L274.54 180.10 L275.20 177.49" fill="none" stroke="#454545" stroke-width="3.0" stroke-linejoin="round" stroke-linecap="butt" stroke-linecap="butt"/>
<path d="M171.77 357.20 L171.78 354.52 L171.82 351.84 L171.95 349.16 L172.37 346.51 L173.13 343.94 L174.23 341.50 L175.68 339.26 L177.59 337.42 L179.54 335.62 L181.53 333.86 L183.54 332.12 L185.55 330.38 L187.56 328.65 L189.58 326.92 L191.61 325.19 L193.64 323.46 L195.69 321.76 L197.77 320.08 L199.87 318.41 L201.97 316.74 L204.05 315.05 L206.09 313.32 L208.10 311.54 L210.07 309.72 L212.02 307.89 L213.95 306.04 L215.85 304.16 L217.72 302.25 L219.56 300.30 L221.34 298.30 L223.08 296.26 L224.77 294.19 L226.43 292.08 L228.06 289.96 L229.66 287.81 L231.23 285.64 L232.76 283.44 L234.25 281.21 L235.71 278.97 L237.12 276.69 L238.49 274.38 L239.83 272.06 L241.13 269.72 L242.39 267.35 L243.64 264.97 L244.85 262.58 L246.04 260.18 L247.22 257.77 L248.38 255.34 L249.52 252.92 L250.65 250.48 L251.77 248.04 L252.88 245.60 L253.97 243.15 L255.06 240.70 L256.13 238.24 L257.19 235.77 L258.25 233.30 L259.28 230.82 L260.30 228.34 L261.30 225.85 L262.28 223.35 L263.25 220.85 L264.20 218.34 L265.12 215.81 L266.02 213.29 L266.89 210.75 L267.72 208.19 L268.53 205.63 L269.27 203.05 L270.00 200.47 L270.69 197.88 L271.37 195.28 L272.04 192.68 L272.68 190.07 L273.32 187.46 L273.96 184.85 L274.59 182.25 L275.25 179.64" fill="none" stroke="#2f2f2f" stroke-width="3.0" stroke-linejoin="round" stroke-linecap="butt" stroke-linecap="butt"/>
<path d="M170.10 357.20 L170.08 354.53 L170.07 351.85 L170.17 349.18 L170.58 346.54 L171.34 343.98 L172.47 341.56 L173.97 339.36 L175.96 337.58 L178.00 335.85 L180.06 334.15 L182.14 332.47 L184.23 330.80 L186.32 329.13 L188.41 327.47 L190.50 325.80 L192.59 324.13 L194.69 322.48 L196.81 320.85 L198.93 319.22 L201.05 317.59 L203.15 315.93 L205.21 314.23 L207.24 312.49 L209.24 310.71 L211.22 308.92 L213.19 307.11 L215.14 305.28 L217.05 303.41 L218.92 301.50 L220.74 299.54 L222.52 297.54 L224.24 295.50 L225.93 293.43 L227.60 291.34 L229.24 289.23 L230.83 287.08 L232.40 284.91 L233.92 282.72 L235.41 280.50 L236.85 278.24 L238.25 275.97 L239.62 273.67 L240.94 271.35 L242.23 269.00 L243.49 266.65 L244.73 264.27 L245.94 261.89 L247.14 259.50 L248.32 257.10 L249.48 254.69 L250.63 252.28 L251.76 249.86 L252.89 247.43 L253.99 245.00 L255.09 242.56 L256.18 240.12 L257.25 237.67 L258.31 235.22 L259.35 232.75 L260.38 230.28 L261.39 227.81 L262.38 225.32 L263.35 222.83 L264.30 220.33 L265.22 217.82 L266.13 215.31 L267.00 212.78 L267.83 210.24 L268.63 207.69 L269.37 205.12 L270.10 202.55 L270.79 199.96 L271.46 197.38 L272.12 194.78 L272.76 192.19 L273.39 189.59 L274.02 186.99 L274.65 184.39 L275.30 181.80" fill="none" stroke="#000000" stroke-width="5.0" stroke-linejoin="round" stroke-linecap="butt" stroke-linecap="butt"/>
<path d="M177.00 794.20 L176.95 791.46 L176.89 788.73 L176.84 786.00 L176.82 783.26 L176.86 780.52 L177.03 777.80 L177.66 775.14 L179.20 772.89 L181.07 770.92 L183.23 769.23 L185.29 767.44 L187.35 765.63 L189.39 763.82 L191.42 761.99 L193.44 760.14 L195.45 758.29 L197.47 756.43 L199.47 754.58 L201.48 752.71 L203.47 750.84 L205.45 748.95 L207.42 747.05 L209.37 745.14 L211.32 743.22 L213.26 741.29 L215.19 739.35 L217.11 737.41 L219.02 735.44 L220.90 733.46 L222.76 731.45 L224.58 729.41 L226.37 727.34 L228.14 725.25 L229.87 723.14 L231.58 721.00 L233.25 718.83 L234.89 716.65 L236.49 714.43 L238.06 712.18 L239.59 709.91 L241.07 707.62 L242.50 705.29 L243.87 702.92 L245.18 700.52 L246.44 698.09 L247.67 695.64 L248.85 693.18 L250.00 690.70 L251.12 688.20 L252.21 685.69 L253.27 683.17 L254.30 680.64 L255.31 678.09 L256.29 675.54 L257.24 672.97 L258.16 670.40 L259.06 667.82 L259.94 665.22 L260.80 662.63 L261.64 660.03 L262.48 657.42 L263.32 654.82 L264.15 652.21 L264.98 649.61 L265.82 647.00 L266.67 644.40 L267.51 641.80 L268.35 639.20 L269.18 636.59 L270.00 633.98 L270.78 631.36 L271.53 628.73 L272.23 626.08 L272.86 623.42 L273.44 620.75 L273.98 618.07 L274.50 615.38 L274.99 612.69 L275.50 610.00" fill="none" stroke="#cccccc" stroke-width="3.0" stroke-linejoin="round" stroke-linecap="butt" stroke-linecap="butt"/>
<path d="M176.91 794.20 L176.86 791.44 L176.80 788.67 L176.75 785.91 L176.73 783.15 L176.77 780.38 L176.96 777.63 L177.63 774.96 L179.17 772.68 L181.07 770.68 L183.22 768.95 L185.29 767.12 L187.36 765.29 L189.42 763.44 L191.46 761.58 L193.49 759.71 L195.52 757.83 L197.54 755.95 L199.56 754.06 L201.58 752.17 L203.58 750.27 L205.58 748.35 L207.56 746.43 L209.52 744.48 L211.48 742.53 L213.43 740.58 L215.38 738.61 L217.30 736.63 L219.21 734.63 L221.10 732.61 L222.95 730.57 L224.78 728.49 L226.57 726.39 L228.33 724.26 L230.07 722.11 L231.77 719.93 L233.43 717.73 L235.07 715.50 L236.66 713.24 L238.21 710.95 L239.72 708.64 L241.19 706.30 L242.60 703.93 L243.96 701.52 L245.26 699.08 L246.51 696.62 L247.72 694.14 L248.90 691.64 L250.04 689.12 L251.15 686.59 L252.23 684.05 L253.28 681.49 L254.31 678.93 L255.31 676.35 L256.28 673.76 L257.23 671.17 L258.15 668.56 L259.04 665.95 L259.92 663.32 L260.78 660.70 L261.63 658.07 L262.47 655.44 L263.31 652.80 L264.14 650.17 L264.98 647.53 L265.81 644.90 L266.65 642.26 L267.49 639.63 L268.33 637.00 L269.14 634.36 L269.94 631.71 L270.71 629.06 L271.45 626.39 L272.13 623.72 L272.76 621.02 L273.34 618.32 L273.88 615.61 L274.39 612.90 L274.89 610.18 L275.40 607.46" fill="none" stroke="#bdbdbd" stroke-width="3.0" stroke-linejoin="round" stroke-linecap="butt" stroke-linecap="butt"/>
<path d="M176.82 794.20 L176.77 791.41 L176.71 788.62 L176.66 785.82 L176.64 783.03 L176.68 780.24 L176.88 777.46 L177.59 774.77 L179.15 772.47 L181.06 770.44 L183.21 768.66 L185.29 766.80 L187.37 764.94 L189.44 763.07 L191.49 761.18 L193.54 759.27 L195.58 757.37 L197.62 755.46 L199.65 753.55 L201.68 751.63 L203.70 749.70 L205.70 747.75 L207.69 745.80 L209.67 743.83 L211.64 741.85 L213.61 739.86 L215.56 737.87 L217.49 735.85 L219.41 733.82 L221.29 731.77 L223.15 729.68 L224.98 727.57 L226.77 725.43 L228.53 723.27 L230.26 721.08 L231.96 718.86 L233.62 716.62 L235.24 714.35 L236.82 712.05 L238.36 709.72 L239.86 707.37 L241.31 704.99 L242.71 702.58 L244.05 700.13 L245.33 697.65 L246.58 695.15 L247.78 692.63 L248.94 690.10 L250.07 687.55 L251.18 684.98 L252.25 682.40 L253.29 679.82 L254.31 677.22 L255.31 674.61 L256.27 671.99 L257.22 669.36 L258.13 666.72 L259.02 664.08 L259.90 661.43 L260.76 658.77 L261.61 656.11 L262.46 653.45 L263.29 650.78 L264.13 648.12 L264.97 645.46 L265.80 642.79 L266.64 640.13 L267.47 637.46 L268.30 634.80 L269.11 632.12 L269.89 629.44 L270.65 626.76 L271.37 624.06 L272.04 621.35 L272.66 618.63 L273.23 615.90 L273.77 613.16 L274.28 610.41 L274.79 607.66 L275.30 604.92" fill="none" stroke="#aeaeae" stroke-width="3.0" stroke-linejoin="round" stroke-linecap="butt" stroke-linecap="butt"/>
<path d="M176.73 794.20 L176.68 791.38 L176.62 788.56 L176.57 785.74 L176.55 782.92 L176.59 780.10 L176.81 777.29 L177.56 774.58 L179.13 772.25 L181.05 770.20 L183.20 768.38 L185.29 766.48 L187.38 764.59 L189.46 762.69 L191.53 760.77 L193.59 758.84 L195.64 756.91 L197.70 754.98 L199.74 753.04 L201.78 751.09 L203.81 749.13 L205.83 747.16 L207.83 745.17 L209.82 743.17 L211.81 741.17 L213.78 739.15 L215.74 737.12 L217.68 735.08 L219.60 733.01 L221.49 730.92 L223.35 728.80 L225.18 726.65 L226.97 724.48 L228.73 722.27 L230.45 720.05 L232.15 717.79 L233.80 715.51 L235.42 713.20 L236.99 710.86 L238.51 708.49 L239.99 706.10 L241.43 703.67 L242.81 701.22 L244.14 698.73 L245.41 696.22 L246.64 693.68 L247.83 691.13 L248.99 688.56 L250.11 685.97 L251.20 683.37 L252.27 680.76 L253.31 678.14 L254.32 675.51 L255.30 672.87 L256.27 670.21 L257.20 667.55 L258.11 664.88 L259.01 662.21 L259.88 659.53 L260.74 656.84 L261.59 654.15 L262.44 651.46 L263.28 648.77 L264.12 646.07 L264.96 643.38 L265.79 640.69 L266.63 637.99 L267.46 635.30 L268.27 632.60 L269.07 629.89 L269.84 627.18 L270.58 624.46 L271.28 621.73 L271.95 618.99 L272.56 616.23 L273.13 613.47 L273.66 610.70 L274.18 607.93 L274.68 605.15 L275.20 602.38" fill="none" stroke="#9f9f9f" stroke-width="3.0" stroke-linejoin="round" stroke-linecap="butt" stroke-linecap="butt"/>
<path d="M176.64 794.20 L176.59 791.35 L176.53 788.50 L176.48 785.65 L176.46 782.80 L176.51 779.95 L176.73 777.11 L177.52 774.39 L179.11 772.04 L181.04 769.96 L183.19 768.09 L185.29 766.17 L187.39 764.25 L189.49 762.31 L191.56 760.37 L193.64 758.41 L195.71 756.45 L197.77 754.49 L199.83 752.52 L201.89 750.55 L203.93 748.56 L205.95 746.56 L207.97 744.54 L209.97 742.52 L211.97 740.48 L213.95 738.44 L215.92 736.38 L217.87 734.30 L219.79 732.20 L221.69 730.07 L223.55 727.92 L225.38 725.74 L227.17 723.52 L228.93 721.28 L230.65 719.02 L232.34 716.72 L233.98 714.40 L235.59 712.05 L237.15 709.67 L238.67 707.26 L240.13 704.83 L241.55 702.36 L242.91 699.86 L244.22 697.34 L245.49 694.79 L246.71 692.21 L247.89 689.62 L249.03 687.02 L250.15 684.40 L251.23 681.76 L252.29 679.12 L253.32 676.46 L254.32 673.80 L255.30 671.12 L256.26 668.44 L257.19 665.75 L258.10 663.05 L258.99 660.34 L259.86 657.63 L260.72 654.91 L261.58 652.19 L262.43 649.47 L263.27 646.75 L264.11 644.03 L264.95 641.31 L265.78 638.58 L266.62 635.86 L267.44 633.13 L268.24 630.40 L269.03 627.66 L269.79 624.91 L270.51 622.16 L271.20 619.40 L271.85 616.62 L272.45 613.84 L273.02 611.05 L273.56 608.25 L274.07 605.45 L274.58 602.64 L275.10 599.84" fill="none" stroke="#8f8f8f" stroke-width="3.0" stroke-linejoin="round" stroke-linecap="butt" stroke-linecap="butt"/>
<path d="M176.55 794.20 L176.50 791.32 L176.44 788.44 L176.39 785.57 L176.37 782.69 L176.42 779.81 L176.66 776.94 L177.48 774.21 L179.09 771.82 L181.03 769.72 L183.18 767.80 L185.29 765.85 L187.41 763.90 L189.51 761.94 L191.60 759.96 L193.68 757.98 L195.77 755.99 L197.85 754.00 L199.92 752.01 L201.99 750.01 L204.04 747.99 L206.08 745.96 L208.11 743.91 L210.12 741.86 L212.13 739.80 L214.12 737.72 L216.10 735.64 L218.06 733.53 L219.99 731.39 L221.89 729.23 L223.75 727.04 L225.58 724.82 L227.37 722.57 L229.12 720.29 L230.84 717.99 L232.52 715.65 L234.17 713.29 L235.77 710.90 L237.32 708.49 L238.82 706.03 L240.27 703.55 L241.67 701.04 L243.02 698.51 L244.31 695.94 L245.56 693.35 L246.77 690.75 L247.94 688.12 L249.08 685.48 L250.19 682.82 L251.26 680.15 L252.31 677.48 L253.33 674.79 L254.33 672.09 L255.30 669.38 L256.25 666.66 L257.17 663.94 L258.08 661.21 L258.97 658.47 L259.84 655.73 L260.70 652.98 L261.56 650.24 L262.41 647.49 L263.26 644.74 L264.10 641.98 L264.94 639.23 L265.77 636.48 L266.60 633.72 L267.42 630.96 L268.21 628.20 L268.99 625.43 L269.73 622.65 L270.45 619.86 L271.12 617.07 L271.76 614.26 L272.35 611.44 L272.91 608.62 L273.45 605.79 L273.97 602.96 L274.48 600.13 L275.00 597.30" fill="none" stroke="#7e7e7e" stroke-width="3.0" stroke-linejoin="round" stroke-linecap="butt" stroke-linecap="butt"/>
<path d="M176.46 794.20 L176.41 791.29 L176.35 788.39 L176.30 785.48 L176.28 782.57 L176.33 779.67 L176.58 776.77 L177.45 774.02 L179.07 771.61 L181.03 769.48 L183.17 767.52 L185.29 765.53 L187.42 763.55 L189.53 761.56 L191.64 759.56 L193.73 757.54 L195.83 755.53 L197.93 753.52 L200.01 751.50 L202.09 749.46 L204.16 747.42 L206.21 745.36 L208.24 743.29 L210.27 741.20 L212.29 739.11 L214.30 737.01 L216.29 734.89 L218.25 732.75 L220.18 730.58 L222.08 728.38 L223.95 726.16 L225.78 723.90 L227.57 721.61 L229.32 719.30 L231.04 716.95 L232.71 714.58 L234.35 712.19 L235.94 709.76 L237.48 707.30 L238.97 704.80 L240.40 702.28 L241.79 699.73 L243.12 697.15 L244.40 694.55 L245.64 691.92 L246.84 689.28 L248.00 686.61 L249.13 683.94 L250.22 681.25 L251.29 678.55 L252.33 675.83 L253.35 673.11 L254.33 670.38 L255.30 667.64 L256.24 664.89 L257.16 662.13 L258.06 659.37 L258.95 656.60 L259.82 653.83 L260.69 651.05 L261.54 648.28 L262.40 645.50 L263.25 642.72 L264.09 639.94 L264.93 637.16 L265.76 634.37 L266.59 631.58 L267.40 628.79 L268.19 626.00 L268.95 623.19 L269.68 620.38 L270.38 617.56 L271.04 614.73 L271.66 611.90 L272.25 609.05 L272.81 606.20 L273.34 603.34 L273.86 600.48 L274.37 597.62 L274.90 594.76" fill="none" stroke="#6b6b6b" stroke-width="3.0" stroke-linejoin="round" stroke-linecap="butt" stroke-linecap="butt"/>
<path d="M176.37 794.20 L176.32 791.27 L176.26 788.33 L176.21 785.40 L176.20 782.46 L176.25 779.53 L176.51 776.60 L177.41 773.83 L179.04 771.40 L181.02 769.24 L183.16 767.23 L185.29 765.22 L187.43 763.21 L189.56 761.19 L191.67 759.15 L193.78 757.11 L195.90 755.07 L198.00 753.03 L200.10 750.98 L202.20 748.92 L204.27 746.85 L206.33 744.76 L208.38 742.66 L210.42 740.55 L212.45 738.43 L214.47 736.30 L216.47 734.15 L218.44 731.97 L220.38 729.77 L222.28 727.54 L224.15 725.28 L225.98 722.98 L227.77 720.66 L229.52 718.31 L231.23 715.92 L232.90 713.51 L234.53 711.08 L236.12 708.61 L237.65 706.11 L239.12 703.57 L240.54 701.01 L241.90 698.42 L243.22 695.80 L244.49 693.15 L245.72 690.49 L246.90 687.81 L248.05 685.11 L249.17 682.40 L250.26 679.67 L251.32 676.94 L252.36 674.19 L253.36 671.44 L254.34 668.67 L255.29 665.89 L256.23 663.11 L257.15 660.33 L258.05 657.53 L258.93 654.73 L259.80 651.93 L260.67 649.13 L261.53 646.32 L262.38 643.51 L263.23 640.70 L264.08 637.89 L264.92 635.08 L265.75 632.27 L266.58 629.45 L267.38 626.63 L268.16 623.80 L268.91 620.96 L269.63 618.12 L270.31 615.26 L270.96 612.40 L271.57 609.53 L272.15 606.65 L272.70 603.77 L273.24 600.89 L273.76 598.00 L274.27 595.11 L274.80 592.22" fill="none" stroke="#585858" stroke-width="3.0" stroke-linejoin="round" stroke-linecap="butt" stroke-linecap="butt"/>
<path d="M176.28 794.20 L176.23 791.24 L176.17 788.27 L176.12 785.31 L176.11 782.35 L176.16 779.38 L176.43 776.43 L177.38 773.64 L179.02 771.18 L181.01 768.99 L183.15 766.94 L185.29 764.90 L187.44 762.86 L189.58 760.81 L191.71 758.74 L193.83 756.68 L195.96 754.61 L198.08 752.55 L200.19 750.47 L202.30 748.38 L204.39 746.28 L206.46 744.16 L208.52 742.03 L210.57 739.89 L212.61 737.74 L214.64 735.58 L216.65 733.40 L218.63 731.20 L220.57 728.96 L222.48 726.69 L224.35 724.39 L226.18 722.06 L227.97 719.70 L229.72 717.31 L231.43 714.89 L233.09 712.45 L234.72 709.97 L236.29 707.46 L237.81 704.92 L239.27 702.34 L240.68 699.74 L242.02 697.10 L243.32 694.44 L244.58 691.76 L245.79 689.06 L246.97 686.34 L248.11 683.60 L249.22 680.86 L250.30 678.10 L251.35 675.33 L252.38 672.55 L253.38 669.76 L254.34 666.96 L255.29 664.15 L256.22 661.34 L257.13 658.52 L258.03 655.69 L258.91 652.86 L259.79 650.03 L260.65 647.20 L261.51 644.36 L262.37 641.52 L263.22 638.69 L264.07 635.85 L264.91 633.00 L265.75 630.16 L266.56 627.31 L267.36 624.46 L268.13 621.60 L268.87 618.73 L269.58 615.85 L270.24 612.96 L270.88 610.07 L271.47 607.17 L272.04 604.26 L272.60 601.35 L273.13 598.43 L273.65 595.51 L274.17 592.60 L274.70 589.68" fill="none" stroke="#424242" stroke-width="3.0" stroke-linejoin="round" stroke-linecap="butt" stroke-linecap="butt"/>
<path d="M176.19 794.20 L176.14 791.21 L176.08 788.22 L176.03 785.22 L176.02 782.23 L176.07 779.24 L176.36 776.26 L177.34 773.46 L179.00 770.97 L181.00 768.75 L183.14 766.66 L185.29 764.58 L187.45 762.51 L189.60 760.43 L191.74 758.34 L193.88 756.25 L196.02 754.16 L198.16 752.06 L200.29 749.96 L202.40 747.84 L204.50 745.71 L206.58 743.56 L208.66 741.40 L210.72 739.24 L212.78 737.06 L214.82 734.87 L216.83 732.66 L218.82 730.42 L220.77 728.15 L222.67 725.85 L224.54 723.51 L226.38 721.15 L228.17 718.75 L229.91 716.32 L231.62 713.86 L233.28 711.38 L234.90 708.86 L236.47 706.31 L237.98 703.73 L239.43 701.12 L240.81 698.46 L242.14 695.79 L243.43 693.09 L244.67 690.36 L245.87 687.62 L247.03 684.87 L248.16 682.10 L249.26 679.32 L250.34 676.52 L251.38 673.72 L252.40 670.91 L253.39 668.08 L254.35 665.25 L255.29 662.41 L256.21 659.56 L257.12 656.71 L258.01 653.86 L258.89 651.00 L259.77 648.13 L260.63 645.27 L261.49 642.40 L262.35 639.54 L263.21 636.67 L264.06 633.80 L264.90 630.93 L265.74 628.06 L266.55 625.18 L267.34 622.29 L268.10 619.40 L268.83 616.50 L269.52 613.58 L270.18 610.66 L270.80 607.74 L271.38 604.80 L271.94 601.86 L272.49 598.92 L273.02 595.98 L273.54 593.03 L274.07 590.08 L274.60 587.14" fill="none" stroke="#292929" stroke-width="3.0" stroke-linejoin="round" stroke-linecap="butt" stroke-linecap="butt"/>
<path d="M176.10 794.20 L176.05 791.18 L175.99 788.16 L175.94 785.14 L175.93 782.12 L175.99 779.10 L176.29 776.09 L177.31 773.27 L178.98 770.75 L180.99 768.51 L183.13 766.37 L185.29 764.27 L187.47 762.17 L189.63 760.06 L191.78 757.93 L193.93 755.82 L196.09 753.70 L198.23 751.57 L200.38 749.44 L202.50 747.30 L204.62 745.14 L206.71 742.96 L208.79 740.77 L210.87 738.58 L212.94 736.38 L214.99 734.16 L217.01 731.92 L219.01 729.65 L220.96 727.34 L222.87 725.00 L224.74 722.63 L226.58 720.23 L228.36 717.79 L230.11 715.33 L231.81 712.83 L233.47 710.31 L235.08 707.75 L236.64 705.16 L238.14 702.54 L239.58 699.89 L240.95 697.19 L242.26 694.47 L243.53 691.73 L244.76 688.97 L245.95 686.19 L247.10 683.40 L248.22 680.59 L249.31 677.78 L250.37 674.95 L251.41 672.11 L252.42 669.26 L253.40 666.41 L254.36 663.54 L255.29 660.67 L256.20 657.79 L257.11 654.90 L258.00 652.02 L258.88 649.13 L259.75 646.23 L260.61 643.34 L261.48 640.45 L262.34 637.55 L263.20 634.65 L264.05 631.76 L264.90 628.85 L265.73 625.95 L266.54 623.04 L267.32 620.12 L268.08 617.20 L268.79 614.26 L269.47 611.32 L270.11 608.37 L270.71 605.41 L271.28 602.44 L271.84 599.47 L272.38 596.50 L272.91 593.52 L273.44 590.55 L273.96 587.57 L274.50 584.60" fill="none" stroke="#000000" stroke-width="4.6" stroke-linejoin="round" stroke-linecap="butt" stroke-linecap="butt"/>
<path d="M203.00 1229.70 L203.00 1226.82 L203.00 1223.95 L203.00 1221.07 L203.00 1218.20 L203.00 1215.32 L203.00 1212.45 L203.00 1209.57 L203.00 1206.70 L202.97 1203.82 L202.87 1200.95 L202.68 1198.08 L202.48 1195.21 L202.36 1192.34 L202.41 1189.47 L202.66 1186.60 L203.12 1183.77 L203.78 1180.97 L204.61 1178.22 L205.55 1175.50 L206.54 1172.80 L207.55 1170.11 L208.55 1167.41 L209.52 1164.71 L210.42 1161.97 L211.23 1159.21 L211.94 1156.43 L212.57 1153.62 L213.11 1150.80 L213.61 1147.97 L214.08 1145.13 L214.53 1142.29 L214.97 1139.45 L215.41 1136.61 L215.85 1133.77 L216.32 1130.93 L216.84 1128.11 L217.38 1125.28 L217.94 1122.46 L218.49 1119.64 L219.05 1116.82 L219.63 1114.00 L220.23 1111.19 L220.86 1108.39 L221.53 1105.59 L222.25 1102.81 L223.03 1100.04 L223.87 1097.29 L224.77 1094.56 L225.73 1091.85 L226.74 1089.16 L227.80 1086.49 L228.92 1083.83 L230.07 1081.20 L231.27 1078.59 L232.50 1075.99 L233.77 1073.41 L235.07 1070.85 L236.42 1068.30 L237.80 1065.78 L239.22 1063.29 L240.70 1060.82 L242.22 1058.38 L243.80 1055.98 L245.44 1053.62 L247.16 1051.31 L248.95 1049.06 L250.79 1046.86 L252.69 1044.69 L254.61 1042.56 L256.57 1040.45 L258.53 1038.35 L260.51 1036.26 L262.52 1034.21 L264.56 1032.18 L266.63 1030.18 L268.71 1028.20 L270.81 1026.24 L272.91 1024.27 L275.00 1022.30" fill="none" stroke="#a8a8a8" stroke-width="3.0" stroke-linejoin="round" stroke-linecap="butt" stroke-linecap="butt"/>
<path d="M203.82 1229.70 L203.82 1226.83 L203.82 1223.97 L203.82 1221.10 L203.82 1218.24 L203.82 1215.37 L203.82 1212.51 L203.82 1209.64 L203.82 1206.78 L203.79 1203.91 L203.69 1201.05 L203.51 1198.19 L203.33 1195.33 L203.21 1192.47 L203.26 1189.60 L203.50 1186.75 L203.93 1183.92 L204.56 1181.13 L205.35 1178.38 L206.25 1175.66 L207.19 1172.97 L208.15 1170.28 L209.10 1167.58 L210.03 1164.88 L210.89 1162.15 L211.66 1159.40 L212.34 1156.62 L212.94 1153.82 L213.47 1151.00 L213.95 1148.18 L214.42 1145.35 L214.86 1142.52 L215.30 1139.69 L215.74 1136.86 L216.19 1134.03 L216.67 1131.20 L217.18 1128.38 L217.72 1125.57 L218.28 1122.76 L218.83 1119.95 L219.39 1117.14 L219.97 1114.33 L220.56 1111.53 L221.19 1108.73 L221.85 1105.94 L222.57 1103.17 L223.34 1100.41 L224.18 1097.67 L225.08 1094.95 L226.03 1092.25 L227.03 1089.56 L228.08 1086.90 L229.19 1084.25 L230.34 1081.63 L231.53 1079.02 L232.75 1076.43 L234.01 1073.86 L235.30 1071.30 L236.64 1068.77 L238.02 1066.25 L239.44 1063.77 L240.91 1061.31 L242.43 1058.88 L244.00 1056.48 L245.64 1054.13 L247.35 1051.83 L249.12 1049.58 L250.96 1047.38 L252.84 1045.22 L254.75 1043.09 L256.69 1040.98 L258.65 1038.88 L260.61 1036.80 L262.61 1034.75 L264.64 1032.72 L266.69 1030.73 L268.77 1028.75 L270.85 1026.78 L272.94 1024.82 L275.02 1022.85" fill="none" stroke="#a0a0a0" stroke-width="3.0" stroke-linejoin="round" stroke-linecap="butt" stroke-linecap="butt"/>
<path d="M204.64 1229.70 L204.64 1226.84 L204.64 1223.99 L204.64 1221.13 L204.64 1218.28 L204.64 1215.42 L204.64 1212.57 L204.64 1209.71 L204.64 1206.85 L204.61 1204.00 L204.52 1201.15 L204.35 1198.30 L204.17 1195.45 L204.06 1192.59 L204.10 1189.74 L204.33 1186.89 L204.75 1184.07 L205.35 1181.29 L206.10 1178.54 L206.95 1175.83 L207.84 1173.13 L208.75 1170.44 L209.66 1167.75 L210.54 1165.05 L211.36 1162.33 L212.09 1159.58 L212.74 1156.80 L213.32 1154.01 L213.82 1151.20 L214.30 1148.39 L214.75 1145.57 L215.19 1142.75 L215.62 1139.92 L216.07 1137.10 L216.53 1134.29 L217.01 1131.47 L217.53 1128.66 L218.07 1125.86 L218.62 1123.06 L219.17 1120.25 L219.73 1117.45 L220.30 1114.66 L220.90 1111.86 L221.52 1109.08 L222.18 1106.30 L222.89 1103.53 L223.66 1100.78 L224.49 1098.05 L225.38 1095.34 L226.32 1092.64 L227.32 1089.97 L228.36 1087.31 L229.46 1084.67 L230.60 1082.05 L231.78 1079.45 L232.99 1076.87 L234.25 1074.30 L235.53 1071.76 L236.86 1069.23 L238.24 1066.72 L239.65 1064.25 L241.12 1061.79 L242.63 1059.37 L244.20 1056.99 L245.83 1054.64 L247.53 1052.35 L249.30 1050.11 L251.12 1047.91 L252.99 1045.75 L254.89 1043.62 L256.82 1041.51 L258.76 1039.42 L260.72 1037.34 L262.70 1035.29 L264.72 1033.27 L266.76 1031.27 L268.82 1029.29 L270.89 1027.33 L272.97 1025.38 L275.05 1023.41" fill="none" stroke="#989898" stroke-width="3.0" stroke-linejoin="round" stroke-linecap="butt" stroke-linecap="butt"/>
<path d="M205.45 1229.70 L205.45 1226.85 L205.45 1224.01 L205.45 1221.16 L205.45 1218.32 L205.45 1215.47 L205.45 1212.62 L205.45 1209.78 L205.45 1206.93 L205.43 1204.09 L205.34 1201.24 L205.18 1198.40 L205.01 1195.56 L204.90 1192.72 L204.95 1189.87 L205.16 1187.04 L205.56 1184.23 L206.13 1181.45 L206.84 1178.71 L207.64 1176.00 L208.49 1173.30 L209.36 1170.61 L210.22 1167.92 L211.05 1165.22 L211.83 1162.50 L212.52 1159.76 L213.15 1156.99 L213.69 1154.20 L214.18 1151.40 L214.64 1148.60 L215.08 1145.79 L215.52 1142.97 L215.95 1140.16 L216.40 1137.35 L216.87 1134.54 L217.35 1131.74 L217.87 1128.94 L218.41 1126.15 L218.96 1123.36 L219.51 1120.56 L220.07 1117.77 L220.64 1114.98 L221.23 1112.20 L221.85 1109.42 L222.50 1106.65 L223.21 1103.90 L223.97 1101.16 L224.80 1098.43 L225.68 1095.73 L226.62 1093.04 L227.60 1090.37 L228.64 1087.72 L229.73 1085.09 L230.86 1082.48 L232.03 1079.89 L233.24 1077.31 L234.48 1074.75 L235.76 1072.21 L237.09 1069.69 L238.46 1067.19 L239.87 1064.72 L241.33 1062.28 L242.84 1059.87 L244.41 1057.49 L246.03 1055.16 L247.72 1052.87 L249.47 1050.63 L251.28 1048.43 L253.14 1046.27 L255.03 1044.15 L256.94 1042.04 L258.87 1039.95 L260.82 1037.88 L262.79 1035.83 L264.79 1033.81 L266.83 1031.81 L268.88 1029.84 L270.94 1027.88 L273.01 1025.93 L275.07 1023.96" fill="none" stroke="#8f8f8f" stroke-width="3.0" stroke-linejoin="round" stroke-linecap="butt" stroke-linecap="butt"/>
<path d="M206.27 1229.70 L206.27 1226.86 L206.27 1224.03 L206.27 1221.19 L206.27 1218.36 L206.27 1215.52 L206.27 1212.68 L206.27 1209.85 L206.27 1207.01 L206.25 1204.17 L206.16 1201.34 L206.01 1198.51 L205.85 1195.68 L205.75 1192.84 L205.79 1190.01 L206.00 1187.18 L206.37 1184.38 L206.91 1181.61 L207.58 1178.87 L208.34 1176.16 L209.14 1173.47 L209.96 1170.78 L210.77 1168.09 L211.56 1165.40 L212.29 1162.68 L212.96 1159.94 L213.55 1157.18 L214.07 1154.40 L214.54 1151.60 L214.98 1148.80 L215.42 1146.00 L215.85 1143.20 L216.28 1140.40 L216.73 1137.60 L217.20 1134.80 L217.70 1132.01 L218.22 1129.22 L218.76 1126.44 L219.30 1123.65 L219.85 1120.87 L220.40 1118.09 L220.97 1115.31 L221.56 1112.54 L222.18 1109.77 L222.83 1107.01 L223.53 1104.26 L224.29 1101.53 L225.11 1098.81 L225.99 1096.12 L226.91 1093.44 L227.89 1090.78 L228.92 1088.13 L230.00 1085.51 L231.12 1082.91 L232.29 1080.32 L233.49 1077.75 L234.72 1075.20 L236.00 1072.66 L237.31 1070.15 L238.68 1067.67 L240.09 1065.20 L241.54 1062.77 L243.05 1060.37 L244.61 1058.00 L246.23 1055.67 L247.91 1053.39 L249.65 1051.15 L251.44 1048.96 L253.29 1046.80 L255.16 1044.68 L257.07 1042.58 L258.99 1040.49 L260.92 1038.41 L262.88 1036.37 L264.87 1034.35 L266.89 1032.36 L268.93 1030.38 L270.98 1028.43 L273.04 1026.48 L275.09 1024.52" fill="none" stroke="#878787" stroke-width="3.0" stroke-linejoin="round" stroke-linecap="butt" stroke-linecap="butt"/>
<path d="M207.09 1229.70 L207.09 1226.87 L207.09 1224.05 L207.09 1221.22 L207.09 1218.39 L207.09 1215.57 L207.09 1212.74 L207.09 1209.92 L207.09 1207.09 L207.07 1204.26 L206.99 1201.44 L206.84 1198.62 L206.69 1195.80 L206.60 1192.97 L206.64 1190.15 L206.83 1187.33 L207.18 1184.53 L207.69 1181.77 L208.32 1179.03 L209.04 1176.33 L209.79 1173.64 L210.56 1170.95 L211.33 1168.27 L212.07 1165.57 L212.76 1162.85 L213.39 1160.12 L213.95 1157.36 L214.44 1154.59 L214.89 1151.80 L215.32 1149.01 L215.75 1146.22 L216.17 1143.43 L216.61 1140.63 L217.07 1137.84 L217.54 1135.06 L218.04 1132.28 L218.56 1129.50 L219.10 1126.73 L219.65 1123.95 L220.19 1121.18 L220.74 1118.41 L221.31 1115.64 L221.89 1112.87 L222.50 1110.11 L223.15 1107.36 L223.85 1104.62 L224.60 1101.90 L225.42 1099.19 L226.29 1096.50 L227.21 1093.83 L228.18 1091.18 L229.20 1088.54 L230.27 1085.93 L231.39 1083.33 L232.54 1080.75 L233.73 1078.19 L234.96 1075.64 L236.23 1073.12 L237.54 1070.61 L238.90 1068.14 L240.30 1065.68 L241.75 1063.26 L243.26 1060.87 L244.81 1058.51 L246.42 1056.18 L248.09 1053.91 L249.82 1051.67 L251.61 1049.48 L253.44 1047.33 L255.30 1045.21 L257.19 1043.11 L259.10 1041.02 L261.02 1038.95 L262.97 1036.91 L264.95 1034.89 L266.96 1032.90 L268.98 1030.93 L271.03 1028.98 L273.07 1027.03 L275.11 1025.07" fill="none" stroke="#7f7f7f" stroke-width="3.0" stroke-linejoin="round" stroke-linecap="butt" stroke-linecap="butt"/>
<path d="M207.91 1229.70 L207.91 1226.88 L207.91 1224.07 L207.91 1221.25 L207.91 1218.43 L207.91 1215.62 L207.91 1212.80 L207.91 1209.98 L207.91 1207.17 L207.89 1204.35 L207.81 1201.54 L207.68 1198.72 L207.53 1195.91 L207.45 1193.10 L207.48 1190.28 L207.66 1187.47 L207.99 1184.68 L208.47 1181.92 L209.06 1179.20 L209.74 1176.49 L210.44 1173.81 L211.16 1171.12 L211.88 1168.44 L212.58 1165.74 L213.23 1163.03 L213.82 1160.30 L214.35 1157.55 L214.82 1154.78 L215.25 1152.00 L215.67 1149.22 L216.08 1146.44 L216.50 1143.65 L216.94 1140.87 L217.40 1138.09 L217.88 1135.32 L218.38 1132.55 L218.91 1129.78 L219.44 1127.01 L219.99 1124.25 L220.53 1121.49 L221.08 1118.72 L221.64 1115.96 L222.22 1113.21 L222.83 1110.46 L223.48 1107.72 L224.17 1104.99 L224.92 1102.27 L225.73 1099.57 L226.59 1096.89 L227.51 1094.23 L228.47 1091.58 L229.48 1088.96 L230.54 1086.35 L231.65 1083.76 L232.79 1081.19 L233.98 1078.63 L235.20 1076.09 L236.46 1073.57 L237.76 1071.08 L239.12 1068.61 L240.52 1066.16 L241.97 1063.75 L243.46 1061.36 L245.01 1059.01 L246.62 1056.70 L248.28 1054.43 L250.00 1052.19 L251.77 1050.00 L253.59 1047.85 L255.44 1045.73 L257.32 1043.64 L259.22 1041.56 L261.13 1039.49 L263.06 1037.44 L265.03 1035.43 L267.02 1033.44 L269.04 1031.48 L271.07 1029.52 L273.11 1027.58 L275.14 1025.63" fill="none" stroke="#777777" stroke-width="3.0" stroke-linejoin="round" stroke-linecap="butt" stroke-linecap="butt"/>
<path d="M208.73 1229.70 L208.73 1226.89 L208.73 1224.09 L208.73 1221.28 L208.73 1218.47 L208.73 1215.67 L208.73 1212.86 L208.73 1210.05 L208.73 1207.24 L208.71 1204.44 L208.64 1201.63 L208.51 1198.83 L208.38 1196.03 L208.29 1193.22 L208.33 1190.42 L208.50 1187.62 L208.81 1184.84 L209.25 1182.08 L209.80 1179.36 L210.43 1176.66 L211.09 1173.97 L211.77 1171.29 L212.44 1168.61 L213.09 1165.92 L213.70 1163.21 L214.25 1160.48 L214.75 1157.73 L215.20 1154.97 L215.61 1152.20 L216.01 1149.43 L216.41 1146.65 L216.83 1143.88 L217.27 1141.11 L217.73 1138.34 L218.22 1135.57 L218.72 1132.81 L219.25 1130.06 L219.79 1127.30 L220.33 1124.55 L220.87 1121.79 L221.42 1119.04 L221.98 1116.29 L222.56 1113.55 L223.16 1110.80 L223.80 1108.07 L224.49 1105.35 L225.23 1102.64 L226.04 1099.95 L226.89 1097.28 L227.80 1094.63 L228.76 1091.99 L229.76 1089.37 L230.81 1086.77 L231.91 1084.18 L233.05 1081.62 L234.22 1079.07 L235.43 1076.54 L236.69 1074.03 L237.99 1071.54 L239.33 1069.08 L240.73 1066.64 L242.18 1064.24 L243.67 1061.86 L245.22 1059.52 L246.81 1057.21 L248.47 1054.94 L250.18 1052.72 L251.93 1050.53 L253.74 1048.38 L255.58 1046.26 L257.44 1044.17 L259.33 1042.09 L261.23 1040.03 L263.15 1037.98 L265.11 1035.97 L267.09 1033.98 L269.09 1032.02 L271.11 1030.07 L273.14 1028.13 L275.16 1026.18" fill="none" stroke="#6e6e6e" stroke-width="3.0" stroke-linejoin="round" stroke-linecap="butt" stroke-linecap="butt"/>
<path d="M209.55 1229.70 L209.55 1226.90 L209.55 1224.11 L209.55 1221.31 L209.55 1218.51 L209.55 1215.71 L209.55 1212.92 L209.55 1210.12 L209.55 1207.32 L209.53 1204.53 L209.46 1201.73 L209.34 1198.94 L209.22 1196.14 L209.14 1193.35 L209.17 1190.55 L209.33 1187.76 L209.62 1184.99 L210.03 1182.24 L210.55 1179.52 L211.13 1176.83 L211.74 1174.14 L212.37 1171.46 L212.99 1168.78 L213.60 1166.09 L214.17 1163.38 L214.69 1160.66 L215.15 1157.92 L215.57 1155.17 L215.97 1152.41 L216.35 1149.64 L216.75 1146.87 L217.16 1144.10 L217.59 1141.34 L218.06 1138.59 L218.55 1135.83 L219.07 1133.08 L219.60 1130.34 L220.13 1127.59 L220.67 1124.85 L221.21 1122.10 L221.75 1119.36 L222.31 1116.62 L222.89 1113.88 L223.49 1111.15 L224.13 1108.43 L224.81 1105.71 L225.55 1103.02 L226.34 1100.34 L227.20 1097.67 L228.10 1095.02 L229.05 1092.39 L230.04 1089.78 L231.09 1087.19 L232.17 1084.61 L233.30 1082.05 L234.47 1079.51 L235.67 1076.98 L236.92 1074.48 L238.21 1072.00 L239.55 1069.55 L240.95 1067.12 L242.39 1064.73 L243.88 1062.36 L245.42 1060.02 L247.01 1057.72 L248.66 1055.46 L250.35 1053.24 L252.09 1051.05 L253.89 1048.91 L255.71 1046.79 L257.57 1044.70 L259.44 1042.63 L261.33 1040.56 L263.25 1038.52 L265.19 1036.51 L267.15 1034.53 L269.15 1032.57 L271.16 1030.62 L273.17 1028.68 L275.18 1026.74" fill="none" stroke="#666666" stroke-width="3.0" stroke-linejoin="round" stroke-linecap="butt" stroke-linecap="butt"/>
<path d="M210.36 1229.70 L210.36 1226.91 L210.36 1224.13 L210.36 1221.34 L210.36 1218.55 L210.36 1215.76 L210.36 1212.98 L210.36 1210.19 L210.36 1207.40 L210.35 1204.61 L210.29 1201.83 L210.17 1199.04 L210.06 1196.26 L209.99 1193.48 L210.02 1190.69 L210.16 1187.91 L210.43 1185.14 L210.81 1182.40 L211.29 1179.69 L211.83 1176.99 L212.39 1174.31 L212.97 1171.63 L213.55 1168.95 L214.11 1166.26 L214.64 1163.56 L215.12 1160.84 L215.55 1158.11 L215.95 1155.36 L216.32 1152.61 L216.70 1149.85 L217.08 1147.09 L217.49 1144.33 L217.92 1141.58 L218.39 1138.83 L218.89 1136.09 L219.41 1133.35 L219.94 1130.62 L220.48 1127.88 L221.01 1125.15 L221.55 1122.41 L222.09 1119.68 L222.65 1116.95 L223.22 1114.22 L223.82 1111.50 L224.45 1108.78 L225.13 1106.08 L225.86 1103.39 L226.65 1100.72 L227.50 1098.06 L228.39 1095.42 L229.34 1092.80 L230.32 1090.19 L231.36 1087.61 L232.44 1085.04 L233.55 1082.48 L234.71 1079.95 L235.91 1077.43 L237.15 1074.93 L238.43 1072.46 L239.77 1070.02 L241.16 1067.60 L242.60 1065.21 L244.09 1062.86 L245.62 1060.53 L247.21 1058.24 L248.84 1055.98 L250.53 1053.76 L252.26 1051.58 L254.04 1049.43 L255.85 1047.32 L257.70 1045.23 L259.56 1043.16 L261.44 1041.10 L263.34 1039.06 L265.26 1037.05 L267.22 1035.07 L269.20 1033.11 L271.20 1031.17 L273.21 1029.23 L275.20 1027.29" fill="none" stroke="#5e5e5e" stroke-width="3.0" stroke-linejoin="round" stroke-linecap="butt" stroke-linecap="butt"/>
<path d="M211.18 1229.70 L211.18 1226.92 L211.18 1224.14 L211.18 1221.37 L211.18 1218.59 L211.18 1215.81 L211.18 1213.03 L211.18 1210.26 L211.18 1207.48 L211.17 1204.70 L211.11 1201.93 L211.01 1199.15 L210.90 1196.38 L210.83 1193.60 L210.86 1190.82 L211.00 1188.05 L211.24 1185.30 L211.59 1182.56 L212.03 1179.85 L212.53 1177.16 L213.04 1174.48 L213.58 1171.80 L214.10 1169.12 L214.62 1166.44 L215.11 1163.74 L215.55 1161.02 L215.96 1158.29 L216.32 1155.55 L216.68 1152.81 L217.04 1150.06 L217.41 1147.31 L217.81 1144.56 L218.25 1141.81 L218.73 1139.08 L219.23 1136.35 L219.75 1133.62 L220.28 1130.90 L220.82 1128.17 L221.35 1125.44 L221.89 1122.72 L222.43 1119.99 L222.98 1117.27 L223.55 1114.55 L224.15 1111.84 L224.78 1109.14 L225.45 1106.44 L226.18 1103.76 L226.96 1101.10 L227.80 1098.45 L228.69 1095.82 L229.62 1093.20 L230.60 1090.60 L231.63 1088.02 L232.70 1085.46 L233.81 1082.92 L234.96 1080.39 L236.14 1077.88 L237.38 1075.39 L238.66 1072.92 L239.99 1070.49 L241.38 1068.08 L242.81 1065.70 L244.29 1063.35 L245.82 1061.04 L247.40 1058.75 L249.03 1056.50 L250.70 1054.28 L252.42 1052.10 L254.19 1049.96 L255.99 1047.85 L257.82 1045.76 L259.67 1043.69 L261.54 1041.64 L263.43 1039.60 L265.34 1037.59 L267.29 1035.61 L269.26 1033.66 L271.24 1031.72 L273.24 1029.78 L275.23 1027.85" fill="none" stroke="#565656" stroke-width="3.0" stroke-linejoin="round" stroke-linecap="butt" stroke-linecap="butt"/>
<path d="M212.00 1229.70 L212.00 1226.93 L212.00 1224.16 L212.00 1221.40 L212.00 1218.63 L212.00 1215.86 L212.00 1213.09 L212.00 1210.33 L212.00 1207.56 L211.99 1204.79 L211.93 1202.02 L211.84 1199.26 L211.74 1196.49 L211.68 1193.73 L211.71 1190.96 L211.83 1188.20 L212.05 1185.45 L212.37 1182.72 L212.77 1180.01 L213.22 1177.33 L213.70 1174.65 L214.18 1171.97 L214.66 1169.29 L215.14 1166.61 L215.58 1163.91 L215.98 1161.20 L216.36 1158.48 L216.70 1155.75 L217.04 1153.01 L217.38 1150.26 L217.75 1147.52 L218.14 1144.78 L218.58 1142.05 L219.06 1139.33 L219.57 1136.61 L220.09 1133.89 L220.63 1131.18 L221.16 1128.46 L221.70 1125.74 L222.23 1123.03 L222.76 1120.31 L223.32 1117.60 L223.88 1114.89 L224.47 1112.19 L225.10 1109.49 L225.77 1106.81 L226.49 1104.13 L227.27 1101.48 L228.11 1098.84 L228.99 1096.22 L229.91 1093.61 L230.88 1091.02 L231.90 1088.44 L232.96 1085.89 L234.06 1083.35 L235.20 1080.83 L236.38 1078.32 L237.61 1075.84 L238.88 1073.39 L240.21 1070.96 L241.59 1068.56 L243.02 1066.19 L244.50 1063.85 L246.03 1061.54 L247.60 1059.26 L249.22 1057.02 L250.88 1054.81 L252.58 1052.63 L254.34 1050.49 L256.13 1048.38 L257.95 1046.30 L259.79 1044.23 L261.64 1042.18 L263.52 1040.14 L265.42 1038.13 L267.35 1036.15 L269.31 1034.20 L271.29 1032.26 L273.27 1030.34 L275.25 1028.40" fill="none" stroke="#4f4f4f" stroke-width="3.0" stroke-linejoin="round" stroke-linecap="butt" stroke-linecap="butt"/>
<path d="M212.82 1229.70 L212.82 1226.94 L212.82 1224.18 L212.82 1221.43 L212.82 1218.67 L212.82 1215.91 L212.82 1213.15 L212.82 1210.39 L212.82 1207.64 L212.81 1204.88 L212.76 1202.12 L212.67 1199.37 L212.58 1196.61 L212.53 1193.85 L212.55 1191.10 L212.66 1188.34 L212.87 1185.60 L213.16 1182.88 L213.51 1180.18 L213.92 1177.49 L214.35 1174.81 L214.78 1172.14 L215.22 1169.46 L215.65 1166.78 L216.04 1164.09 L216.41 1161.38 L216.76 1158.67 L217.08 1155.94 L217.39 1153.21 L217.72 1150.47 L218.08 1147.74 L218.47 1145.01 L218.91 1142.29 L219.39 1139.57 L219.90 1136.86 L220.44 1134.16 L220.97 1131.45 L221.51 1128.75 L222.04 1126.04 L222.57 1123.33 L223.10 1120.63 L223.65 1117.93 L224.21 1115.23 L224.80 1112.53 L225.43 1109.85 L226.09 1107.17 L226.81 1104.51 L227.58 1101.86 L228.41 1099.23 L229.28 1096.61 L230.20 1094.01 L231.16 1091.43 L232.17 1088.86 L233.22 1086.31 L234.32 1083.78 L235.45 1081.27 L236.62 1078.77 L237.84 1076.30 L239.11 1073.85 L240.43 1071.43 L241.81 1069.04 L243.24 1066.68 L244.71 1064.35 L246.23 1062.05 L247.79 1059.78 L249.40 1057.54 L251.05 1055.33 L252.75 1053.15 L254.49 1051.01 L256.26 1048.91 L258.07 1046.83 L259.90 1044.76 L261.74 1042.71 L263.61 1040.68 L265.50 1038.68 L267.42 1036.70 L269.37 1034.75 L271.33 1032.81 L273.31 1030.89 L275.27 1028.95" fill="none" stroke="#474747" stroke-width="3.0" stroke-linejoin="round" stroke-linecap="butt" stroke-linecap="butt"/>
<path d="M213.64 1229.70 L213.64 1226.95 L213.64 1224.20 L213.64 1221.46 L213.64 1218.71 L213.64 1215.96 L213.64 1213.21 L213.64 1210.46 L213.64 1207.71 L213.63 1204.97 L213.58 1202.22 L213.51 1199.47 L213.43 1196.73 L213.38 1193.98 L213.40 1191.23 L213.50 1188.49 L213.68 1185.76 L213.94 1183.04 L214.25 1180.34 L214.62 1177.66 L215.00 1174.98 L215.38 1172.31 L215.77 1169.63 L216.16 1166.95 L216.51 1164.26 L216.85 1161.56 L217.16 1158.85 L217.45 1156.13 L217.75 1153.41 L218.07 1150.68 L218.41 1147.96 L218.80 1145.24 L219.23 1142.52 L219.72 1139.82 L220.24 1137.12 L220.78 1134.43 L221.32 1131.73 L221.85 1129.04 L222.38 1126.34 L222.91 1123.64 L223.44 1120.95 L223.98 1118.25 L224.55 1115.56 L225.13 1112.88 L225.75 1110.20 L226.41 1107.53 L227.12 1104.88 L227.89 1102.24 L228.71 1099.62 L229.58 1097.01 L230.49 1094.42 L231.44 1091.84 L232.44 1089.28 L233.49 1086.74 L234.57 1084.21 L235.69 1081.71 L236.86 1079.22 L238.07 1076.75 L239.33 1074.31 L240.65 1071.90 L242.03 1069.52 L243.45 1067.17 L244.92 1064.85 L246.43 1062.55 L247.99 1060.29 L249.59 1058.06 L251.23 1055.85 L252.91 1053.68 L254.64 1051.54 L256.40 1049.44 L258.20 1047.36 L260.01 1045.30 L261.85 1043.25 L263.70 1041.22 L265.58 1039.22 L267.48 1037.24 L269.42 1035.29 L271.37 1033.36 L273.34 1031.44 L275.30 1029.51" fill="none" stroke="#3f3f3f" stroke-width="3.0" stroke-linejoin="round" stroke-linecap="butt" stroke-linecap="butt"/>
<path d="M214.45 1229.70 L214.45 1226.96 L214.45 1224.22 L214.45 1221.48 L214.45 1218.75 L214.45 1216.01 L214.45 1213.27 L214.45 1210.53 L214.45 1207.79 L214.45 1205.05 L214.41 1202.32 L214.34 1199.58 L214.27 1196.84 L214.22 1194.11 L214.24 1191.37 L214.33 1188.63 L214.49 1185.91 L214.72 1183.20 L215.00 1180.50 L215.31 1177.82 L215.65 1175.15 L215.99 1172.48 L216.33 1169.80 L216.67 1167.13 L216.98 1164.44 L217.28 1161.74 L217.56 1159.04 L217.83 1156.33 L218.11 1153.61 L218.41 1150.89 L218.74 1148.17 L219.12 1145.46 L219.56 1142.76 L220.05 1140.07 L220.58 1137.38 L221.12 1134.70 L221.66 1132.01 L222.20 1129.33 L222.72 1126.64 L223.25 1123.95 L223.78 1121.26 L224.32 1118.58 L224.88 1115.90 L225.46 1113.22 L226.08 1110.55 L226.73 1107.90 L227.44 1105.25 L228.20 1102.62 L229.01 1100.01 L229.87 1097.41 L230.78 1094.82 L231.72 1092.25 L232.71 1089.70 L233.75 1087.16 L234.82 1084.65 L235.94 1082.15 L237.09 1079.66 L238.30 1077.20 L239.56 1074.77 L240.87 1072.37 L242.24 1070.00 L243.66 1067.66 L245.13 1065.34 L246.63 1063.06 L248.19 1060.80 L249.78 1058.57 L251.40 1056.37 L253.07 1054.20 L254.78 1052.07 L256.54 1049.97 L258.32 1047.89 L260.13 1045.83 L261.95 1043.79 L263.79 1041.76 L265.65 1039.76 L267.55 1037.78 L269.47 1035.84 L271.42 1033.91 L273.37 1031.99 L275.32 1030.06" fill="none" stroke="#373737" stroke-width="3.0" stroke-linejoin="round" stroke-linecap="butt" stroke-linecap="butt"/>
<path d="M215.27 1229.70 L215.27 1226.97 L215.27 1224.24 L215.27 1221.51 L215.27 1218.78 L215.27 1216.06 L215.27 1213.33 L215.27 1210.60 L215.27 1207.87 L215.26 1205.14 L215.23 1202.41 L215.17 1199.69 L215.11 1196.96 L215.07 1194.23 L215.09 1191.50 L215.16 1188.78 L215.30 1186.06 L215.50 1183.36 L215.74 1180.67 L216.01 1177.99 L216.30 1175.32 L216.59 1172.65 L216.88 1169.97 L217.18 1167.30 L217.45 1164.62 L217.71 1161.92 L217.96 1159.23 L218.20 1156.52 L218.46 1153.81 L218.75 1151.10 L219.08 1148.39 L219.45 1145.69 L219.89 1143.00 L220.38 1140.31 L220.92 1137.64 L221.46 1134.97 L222.01 1132.29 L222.54 1129.62 L223.06 1126.94 L223.59 1124.26 L224.11 1121.58 L224.65 1118.91 L225.21 1116.24 L225.79 1113.57 L226.40 1110.91 L227.05 1108.26 L227.75 1105.62 L228.51 1103.00 L229.32 1100.40 L230.17 1097.80 L231.07 1095.23 L232.00 1092.66 L232.99 1090.12 L234.01 1087.59 L235.08 1085.08 L236.18 1082.59 L237.33 1080.11 L238.53 1077.66 L239.78 1075.23 L241.09 1072.84 L242.46 1070.48 L243.87 1068.15 L245.33 1065.84 L246.84 1063.56 L248.38 1061.32 L249.97 1059.09 L251.58 1056.90 L253.23 1054.73 L254.93 1052.59 L256.68 1050.50 L258.45 1048.42 L260.24 1046.37 L262.05 1044.33 L263.88 1042.30 L265.73 1040.30 L267.62 1038.33 L269.53 1036.38 L271.46 1034.46 L273.40 1032.54 L275.34 1030.62" fill="none" stroke="#303030" stroke-width="3.0" stroke-linejoin="round" stroke-linecap="butt" stroke-linecap="butt"/>
<path d="M216.09 1229.70 L216.09 1226.98 L216.09 1224.26 L216.09 1221.54 L216.09 1218.82 L216.09 1216.10 L216.09 1213.39 L216.09 1210.67 L216.09 1207.95 L216.08 1205.23 L216.05 1202.51 L216.00 1199.79 L215.95 1197.08 L215.92 1194.36 L215.93 1191.64 L216.00 1188.92 L216.11 1186.21 L216.28 1183.52 L216.48 1180.83 L216.71 1178.16 L216.95 1175.48 L217.19 1172.82 L217.44 1170.15 L217.69 1167.47 L217.92 1164.79 L218.14 1162.11 L218.37 1159.41 L218.58 1156.71 L218.82 1154.01 L219.09 1151.31 L219.41 1148.61 L219.78 1145.92 L220.22 1143.23 L220.72 1140.56 L221.25 1137.90 L221.81 1135.23 L222.35 1132.57 L222.88 1129.90 L223.41 1127.24 L223.93 1124.57 L224.45 1121.90 L224.99 1119.23 L225.54 1116.57 L226.12 1113.91 L226.73 1111.26 L227.38 1108.62 L228.07 1105.99 L228.82 1103.38 L229.62 1100.78 L230.47 1098.20 L231.35 1095.63 L232.28 1093.08 L233.26 1090.54 L234.27 1088.02 L235.33 1085.51 L236.43 1083.03 L237.57 1080.56 L238.76 1078.11 L240.00 1075.70 L241.31 1073.31 L242.67 1070.96 L244.08 1068.63 L245.54 1066.34 L247.04 1064.07 L248.58 1061.83 L250.15 1059.61 L251.76 1057.42 L253.40 1055.25 L255.08 1053.12 L256.81 1051.02 L258.57 1048.95 L260.36 1046.90 L262.16 1044.86 L263.97 1042.84 L265.81 1040.84 L267.68 1038.87 L269.58 1036.93 L271.51 1035.00 L273.44 1033.09 L275.36 1031.17" fill="none" stroke="#282828" stroke-width="3.0" stroke-linejoin="round" stroke-linecap="butt" stroke-linecap="butt"/>
<path d="M216.91 1229.70 L216.91 1226.99 L216.91 1224.28 L216.91 1221.57 L216.91 1218.86 L216.91 1216.15 L216.91 1213.44 L216.91 1210.74 L216.91 1208.03 L216.90 1205.32 L216.88 1202.61 L216.84 1199.90 L216.79 1197.19 L216.76 1194.48 L216.78 1191.77 L216.83 1189.07 L216.93 1186.37 L217.06 1183.68 L217.22 1180.99 L217.41 1178.32 L217.60 1175.65 L217.80 1172.98 L217.99 1170.32 L218.20 1167.65 L218.39 1164.97 L218.58 1162.29 L218.77 1159.60 L218.96 1156.90 L219.18 1154.21 L219.44 1151.52 L219.74 1148.83 L220.11 1146.14 L220.55 1143.47 L221.05 1140.81 L221.59 1138.15 L222.15 1135.50 L222.70 1132.85 L223.23 1130.19 L223.75 1127.53 L224.27 1124.87 L224.79 1122.22 L225.32 1119.56 L225.87 1116.91 L226.45 1114.26 L227.05 1111.62 L227.70 1108.99 L228.38 1106.37 L229.13 1103.76 L229.92 1101.17 L230.76 1098.60 L231.64 1096.04 L232.56 1093.49 L233.53 1090.96 L234.54 1088.44 L235.58 1085.94 L236.67 1083.46 L237.81 1081.00 L238.99 1078.57 L240.23 1076.16 L241.53 1073.78 L242.89 1071.44 L244.29 1069.12 L245.75 1066.84 L247.24 1064.58 L248.77 1062.34 L250.34 1060.13 L251.93 1057.94 L253.56 1055.78 L255.23 1053.65 L256.95 1051.55 L258.70 1049.48 L260.47 1047.44 L262.26 1045.40 L264.06 1043.38 L265.89 1041.38 L267.75 1039.41 L269.64 1037.47 L271.55 1035.55 L273.47 1033.64 L275.39 1031.73" fill="none" stroke="#212121" stroke-width="3.0" stroke-linejoin="round" stroke-linecap="butt" stroke-linecap="butt"/>
<path d="M217.73 1229.70 L217.73 1227.00 L217.73 1224.30 L217.73 1221.60 L217.73 1218.90 L217.73 1216.20 L217.73 1213.50 L217.73 1210.80 L217.73 1208.10 L217.72 1205.40 L217.70 1202.71 L217.67 1200.01 L217.63 1197.31 L217.61 1194.61 L217.62 1191.91 L217.67 1189.21 L217.74 1186.52 L217.84 1183.84 L217.96 1181.16 L218.10 1178.49 L218.25 1175.82 L218.40 1173.15 L218.55 1170.49 L218.71 1167.82 L218.86 1165.15 L219.01 1162.47 L219.17 1159.78 L219.33 1157.10 L219.53 1154.41 L219.78 1151.72 L220.07 1149.04 L220.44 1146.37 L220.87 1143.70 L221.38 1141.05 L221.93 1138.41 L222.49 1135.77 L223.04 1133.13 L223.57 1130.48 L224.09 1127.83 L224.60 1125.18 L225.13 1122.53 L225.66 1119.89 L226.21 1117.24 L226.77 1114.61 L227.38 1111.97 L228.02 1109.35 L228.69 1106.74 L229.43 1104.14 L230.23 1101.56 L231.06 1098.99 L231.93 1096.44 L232.84 1093.90 L233.80 1091.38 L234.80 1088.87 L235.84 1086.38 L236.92 1083.90 L238.04 1081.45 L239.22 1079.02 L240.45 1076.62 L241.75 1074.25 L243.10 1071.92 L244.51 1069.61 L245.96 1067.33 L247.45 1065.08 L248.97 1062.86 L250.53 1060.65 L252.11 1058.46 L253.72 1056.30 L255.38 1054.18 L257.09 1052.08 L258.82 1050.02 L260.58 1047.97 L262.36 1045.94 L264.16 1043.92 L265.97 1041.92 L267.81 1039.95 L269.69 1038.02 L271.59 1036.10 L273.50 1034.19 L275.41 1032.28" fill="none" stroke="#1a1a1a" stroke-width="3.0" stroke-linejoin="round" stroke-linecap="butt" stroke-linecap="butt"/>
<path d="M218.55 1229.70 L218.55 1227.01 L218.55 1224.32 L218.55 1221.63 L218.55 1218.94 L218.55 1216.25 L218.55 1213.56 L218.55 1210.87 L218.55 1208.18 L218.54 1205.49 L218.53 1202.80 L218.50 1200.11 L218.48 1197.42 L218.46 1194.74 L218.47 1192.05 L218.50 1189.36 L218.55 1186.67 L218.62 1183.99 L218.71 1181.32 L218.80 1178.65 L218.90 1175.99 L219.00 1173.32 L219.10 1170.66 L219.22 1167.99 L219.32 1165.32 L219.44 1162.65 L219.57 1159.97 L219.71 1157.29 L219.89 1154.61 L220.12 1151.93 L220.41 1149.26 L220.76 1146.59 L221.20 1143.94 L221.71 1141.30 L222.27 1138.67 L222.83 1136.04 L223.39 1133.41 L223.92 1130.77 L224.43 1128.13 L224.94 1125.49 L225.46 1122.85 L225.99 1120.21 L226.54 1117.58 L227.10 1114.95 L227.70 1112.33 L228.34 1109.71 L229.01 1107.11 L229.74 1104.52 L230.53 1101.95 L231.36 1099.39 L232.22 1096.84 L233.12 1094.31 L234.07 1091.79 L235.06 1089.29 L236.09 1086.81 L237.16 1084.34 L238.28 1081.90 L239.45 1079.47 L240.68 1077.08 L241.97 1074.72 L243.32 1072.40 L244.72 1070.10 L246.16 1067.83 L247.65 1065.59 L249.17 1063.37 L250.71 1061.17 L252.28 1058.98 L253.88 1056.82 L255.53 1054.70 L257.23 1052.61 L258.95 1050.55 L260.70 1048.50 L262.47 1046.48 L264.25 1044.46 L266.05 1042.46 L267.88 1040.50 L269.75 1038.56 L271.64 1036.65 L273.54 1034.74 L275.43 1032.84" fill="none" stroke="#131313" stroke-width="3.0" stroke-linejoin="round" stroke-linecap="butt" stroke-linecap="butt"/>
<path d="M219.36 1229.70 L219.36 1227.02 L219.36 1224.34 L219.36 1221.66 L219.36 1218.98 L219.36 1216.30 L219.36 1213.62 L219.36 1210.94 L219.36 1208.26 L219.36 1205.58 L219.35 1202.90 L219.33 1200.22 L219.32 1197.54 L219.31 1194.86 L219.31 1192.18 L219.33 1189.50 L219.36 1186.83 L219.40 1184.15 L219.45 1181.48 L219.50 1178.82 L219.55 1176.16 L219.60 1173.49 L219.66 1170.83 L219.73 1168.16 L219.79 1165.50 L219.87 1162.83 L219.97 1160.16 L220.08 1157.48 L220.25 1154.81 L220.46 1152.14 L220.74 1149.48 L221.09 1146.82 L221.53 1144.18 L222.04 1141.55 L222.60 1138.93 L223.18 1136.31 L223.73 1133.69 L224.26 1131.06 L224.77 1128.43 L225.28 1125.80 L225.80 1123.17 L226.33 1120.54 L226.87 1117.92 L227.43 1115.30 L228.03 1112.68 L228.66 1110.08 L229.32 1107.48 L230.05 1104.90 L230.83 1102.34 L231.65 1099.79 L232.51 1097.25 L233.40 1094.72 L234.34 1092.21 L235.32 1089.72 L236.34 1087.24 L237.41 1084.78 L238.52 1082.34 L239.68 1079.93 L240.90 1077.54 L242.19 1075.19 L243.53 1072.88 L244.93 1070.59 L246.37 1068.33 L247.85 1066.09 L249.36 1063.88 L250.90 1061.69 L252.46 1059.51 L254.05 1057.35 L255.68 1055.23 L257.36 1053.14 L259.07 1051.08 L260.81 1049.04 L262.57 1047.01 L264.34 1045.00 L266.12 1043.00 L267.95 1041.04 L269.80 1039.11 L271.68 1037.20 L273.57 1035.30 L275.45 1033.39" fill="none" stroke="#0c0c0c" stroke-width="3.0" stroke-linejoin="round" stroke-linecap="butt" stroke-linecap="butt"/>
<path d="M220.18 1229.70 L220.18 1227.03 L220.18 1224.36 L220.18 1221.69 L220.18 1219.02 L220.18 1216.35 L220.18 1213.68 L220.18 1211.01 L220.18 1208.34 L220.18 1205.67 L220.18 1203.00 L220.17 1200.33 L220.16 1197.66 L220.15 1194.99 L220.16 1192.32 L220.17 1189.65 L220.17 1186.98 L220.18 1184.31 L220.19 1181.65 L220.19 1178.99 L220.20 1176.32 L220.21 1173.66 L220.21 1171.00 L220.24 1168.34 L220.26 1165.67 L220.31 1163.01 L220.37 1160.34 L220.46 1157.68 L220.60 1155.01 L220.81 1152.35 L221.07 1149.69 L221.42 1147.05 L221.86 1144.41 L222.38 1141.79 L222.94 1139.18 L223.52 1136.58 L224.07 1133.97 L224.60 1131.35 L225.12 1128.73 L225.62 1126.11 L226.14 1123.49 L226.66 1120.87 L227.20 1118.25 L227.76 1115.64 L228.35 1113.04 L228.98 1110.44 L229.64 1107.86 L230.36 1105.28 L231.14 1102.73 L231.95 1100.19 L232.80 1097.65 L233.68 1095.13 L234.61 1092.63 L235.59 1090.15 L236.60 1087.68 L237.65 1085.22 L238.75 1082.79 L239.91 1080.38 L241.13 1078.01 L242.41 1075.66 L243.75 1073.36 L245.14 1071.08 L246.58 1068.83 L248.05 1066.60 L249.56 1064.40 L251.09 1062.21 L252.63 1060.03 L254.21 1057.87 L255.83 1055.76 L257.50 1053.67 L259.20 1051.61 L260.93 1049.57 L262.67 1047.55 L264.43 1045.54 L266.20 1043.55 L268.01 1041.58 L269.86 1039.65 L271.72 1037.74 L273.60 1035.85 L275.48 1033.95" fill="none" stroke="#060606" stroke-width="3.0" stroke-linejoin="round" stroke-linecap="butt" stroke-linecap="butt"/>
<path d="M221.00 1229.70 L221.00 1227.04 L221.00 1224.38 L221.00 1221.72 L221.00 1219.06 L221.00 1216.40 L221.00 1213.74 L221.00 1211.08 L221.00 1208.42 L221.00 1205.76 L221.00 1203.10 L221.00 1200.43 L221.00 1197.77 L221.00 1195.11 L221.00 1192.45 L221.00 1189.79 L220.98 1187.13 L220.96 1184.47 L220.93 1181.81 L220.89 1179.15 L220.85 1176.49 L220.81 1173.83 L220.77 1171.17 L220.75 1168.51 L220.73 1165.85 L220.74 1163.19 L220.77 1160.53 L220.84 1157.87 L220.96 1155.21 L221.15 1152.56 L221.41 1149.91 L221.75 1147.27 L222.19 1144.65 L222.71 1142.04 L223.28 1139.44 L223.86 1136.85 L224.42 1134.25 L224.95 1131.64 L225.46 1129.03 L225.96 1126.41 L226.48 1123.80 L227.00 1121.19 L227.53 1118.59 L228.09 1115.99 L228.68 1113.39 L229.30 1110.81 L229.95 1108.23 L230.67 1105.67 L231.44 1103.12 L232.24 1100.58 L233.08 1098.06 L233.96 1095.55 L234.88 1093.05 L235.85 1090.57 L236.85 1088.11 L237.90 1085.66 L238.99 1083.24 L240.14 1080.84 L241.35 1078.47 L242.63 1076.13 L243.97 1073.84 L245.35 1071.57 L246.79 1069.32 L248.26 1067.11 L249.75 1064.91 L251.27 1062.72 L252.81 1060.55 L254.37 1058.40 L255.98 1056.28 L257.64 1054.20 L259.33 1052.14 L261.04 1050.11 L262.77 1048.09 L264.52 1046.08 L266.28 1044.09 L268.08 1042.13 L269.91 1040.20 L271.77 1038.29 L273.64 1036.40 L275.50 1034.50" fill="none" stroke="#000000" stroke-width="4.0" stroke-linejoin="round" stroke-linecap="butt" stroke-linecap="butt"/>
<clipPath id="cB"><rect x="441.4" y="137" width="134.1" height="221"/></clipPath>
<clipPath id="cE"><rect x="441.4" y="574" width="134.1" height="221"/></clipPath>
<clipPath id="cH"><rect x="441.4" y="1011" width="134.1" height="221"/></clipPath>
<g clip-path="url(#cB)"><path d="M442.14 131.01 L442.50 137.00 L442.65 139.57 L442.86 143.00 L443.10 147.09 L443.38 151.62 L443.66 156.39 L443.95 161.19 L444.24 165.79 L444.50 170.00 L444.75 173.93 L445.00 177.83 L445.25 181.69 L445.50 185.50 L445.75 189.25 L446.00 192.92 L446.25 196.51 L446.50 200.00 L446.75 203.37 L447.01 206.64 L447.26 209.81 L447.52 212.91 L447.77 215.95 L448.02 218.97 L448.26 221.98 L448.50 225.00 L448.72 228.04 L448.92 231.09 L449.11 234.12 L449.29 237.13 L449.49 240.09 L449.70 242.98 L449.93 245.79 L450.20 248.50 L450.50 251.09 L450.82 253.59 L451.16 256.00 L451.52 258.35 L451.89 260.65 L452.28 262.91 L452.69 265.16 L453.10 267.40 L453.53 269.64 L453.97 271.87 L454.42 274.07 L454.89 276.24 L455.37 278.38 L455.87 280.47 L456.38 282.51 L456.90 284.50 L457.44 286.45 L457.99 288.36 L458.55 290.24 L459.13 292.07 L459.72 293.85 L460.33 295.55 L460.96 297.17 L461.60 298.70 L462.26 300.14 L462.93 301.49 L463.62 302.77 L464.33 303.98 L465.05 305.12 L465.78 306.20 L466.53 307.23 L467.30 308.20 L468.07 309.11 L468.84 309.94 L469.62 310.70 L470.42 311.41 L471.25 312.07 L472.11 312.70 L473.03 313.30 L474.00 313.90 L475.03 314.48 L476.11 315.03 L477.23 315.55 L478.39 316.04 L479.60 316.50 L480.83 316.94 L482.10 317.33 L483.40 317.70 L484.74 318.02 L486.11 318.30 L487.53 318.53 L488.97 318.74 L490.45 318.93 L491.95 319.12 L493.47 319.30 L495.00 319.50 L496.43 319.71 L497.71 319.91 L498.94 320.11 L500.23 320.30 L501.67 320.49 L503.38 320.67 L505.46 320.84 L508.00 321.00 L511.08 321.15 L514.62 321.30 L518.52 321.43 L522.69 321.56 L527.02 321.68 L531.41 321.80 L535.77 321.90 L540.00 322.00 L544.39 322.09 L549.16 322.17 L554.10 322.25 L559.00 322.31 L563.65 322.37 L567.84 322.42 L571.36 322.46 L574.00 322.50 L580.00 322.58" fill="none" stroke="#0f7a38" stroke-width="3.8" stroke-opacity="0.55" stroke-linejoin="round" stroke-linecap="butt"/>
<path d="M449.00 181.80 L449.18 184.81 L449.41 188.89 L449.69 193.75 L449.99 199.12 L450.32 204.71 L450.66 210.24 L450.99 215.43 L451.30 220.00 L451.60 224.09 L451.91 228.03 L452.21 231.82 L452.52 235.46 L452.84 238.94 L453.16 242.28 L453.48 245.46 L453.80 248.50 L454.12 251.33 L454.44 253.94 L454.75 256.37 L455.08 258.66 L455.41 260.87 L455.75 263.03 L456.11 265.19 L456.50 267.40 L456.91 269.64 L457.32 271.87 L457.76 274.07 L458.21 276.24 L458.67 278.38 L459.16 280.47 L459.67 282.51 L460.20 284.50 L460.76 286.45 L461.34 288.36 L461.94 290.24 L462.56 292.07 L463.19 293.85 L463.85 295.55 L464.52 297.17 L465.20 298.70 L465.88 300.14 L466.56 301.49 L467.25 302.77 L467.96 303.98 L468.70 305.12 L469.48 306.20 L470.31 307.22 L471.20 308.20 L472.12 309.11 L473.06 309.95 L474.02 310.73 L475.04 311.44 L476.12 312.12 L477.30 312.76 L478.58 313.39 L480.00 314.00 L481.59 314.60 L483.36 315.17 L485.26 315.72 L487.24 316.24 L489.25 316.73 L491.25 317.18 L493.18 317.61 L495.00 318.00 L496.73 318.35 L498.41 318.64 L500.07 318.90 L501.69 319.12 L503.29 319.34 L504.87 319.55 L506.44 319.76 L508.00 320.00 L509.56 320.25 L511.12 320.50 L512.66 320.75 L514.19 321.00 L515.69 321.25 L517.16 321.50 L518.60 321.75 L520.00 322.00 L521.38 322.25 L522.76 322.49 L524.13 322.74 L525.46 322.98 L526.73 323.23 L527.92 323.48 L529.02 323.74 L530.00 324.00 L530.85 324.20 L531.57 324.32 L532.19 324.40 L532.74 324.51 L533.24 324.69 L533.71 325.01 L534.19 325.53 L534.70 326.30 L535.22 327.35 L535.74 328.63 L536.23 330.10 L536.72 331.71 L537.19 333.41 L537.64 335.16 L538.08 336.90 L538.50 338.60 L538.91 340.33 L539.31 342.18 L539.69 344.09 L540.06 346.02 L540.41 347.90 L540.74 349.70 L541.03 351.35 L541.30 352.80 L541.53 354.08 L541.74 355.26 L541.92 356.33 L542.07 357.29 L542.21 358.13 L542.32 358.87 L542.42 359.49 L542.50 360.00" fill="none" stroke="#a8b41e" stroke-width="3.8" stroke-opacity="0.55" stroke-linejoin="round" stroke-linecap="butt"/>
<path d="M440.93 274.21 L442.50 280.00 L442.75 280.93 L443.07 282.18 L443.45 283.67 L443.88 285.31 L444.35 287.05 L444.87 288.79 L445.42 290.47 L446.00 292.00 L446.62 293.44 L447.28 294.89 L447.98 296.33 L448.72 297.75 L449.49 299.14 L450.30 300.48 L451.14 301.78 L452.00 303.00 L452.86 304.16 L453.70 305.26 L454.55 306.31 L455.44 307.31 L456.40 308.28 L457.46 309.21 L458.65 310.12 L460.00 311.00 L461.47 311.86 L463.02 312.70 L464.67 313.51 L466.44 314.28 L468.33 315.02 L470.38 315.72 L472.60 316.38 L475.00 317.00 L477.31 317.56 L479.40 318.07 L481.49 318.54 L483.81 318.97 L486.60 319.37 L490.07 319.75 L494.46 320.13 L500.00 320.50 L507.41 320.88 L516.79 321.25 L527.41 321.62 L538.56 321.97 L549.52 322.29 L559.55 322.57 L567.96 322.81 L574.00 323.00 L580.00 323.18" fill="none" stroke="#4a8a1c" stroke-width="3.8" stroke-opacity="0.55" stroke-linejoin="round" stroke-linecap="butt"/>
<path d="M441.60 262.58 L442.60 268.50 L442.74 269.32 L442.92 270.43 L443.13 271.76 L443.37 273.22 L443.63 274.75 L443.91 276.27 L444.20 277.71 L444.50 279.00 L444.80 280.14 L445.11 281.22 L445.44 282.25 L445.78 283.25 L446.14 284.25 L446.53 285.28 L446.95 286.36 L447.40 287.50 L447.88 288.73 L448.40 290.02 L448.94 291.36 L449.51 292.72 L450.10 294.08 L450.71 295.43 L451.35 296.75 L452.00 298.00 L452.66 299.21 L453.31 300.40 L453.97 301.57 L454.66 302.72 L455.40 303.84 L456.19 304.93 L457.05 305.98 L458.00 307.00 L459.04 307.99 L460.17 308.96 L461.37 309.90 L462.62 310.81 L463.93 311.68 L465.27 312.51 L466.63 313.28 L468.00 314.00 L469.29 314.65 L470.48 315.23 L471.65 315.76 L472.88 316.25 L474.24 316.71 L475.83 317.14 L477.72 317.57 L480.00 318.00 L482.71 318.44 L485.78 318.89 L489.15 319.33 L492.75 319.75 L496.50 320.14 L500.34 320.48 L504.20 320.78 L508.00 321.00 L511.79 321.16 L515.66 321.27 L519.60 321.33 L523.59 321.34 L527.64 321.31 L531.73 321.25 L535.85 321.14 L540.00 321.00 L544.43 320.79 L549.26 320.49 L554.27 320.14 L559.25 319.75 L563.98 319.36 L568.24 319.01 L571.82 318.71 L574.50 318.50 L580.48 318.03" fill="none" stroke="#c42a1c" stroke-width="3.8" stroke-opacity="0.55" stroke-linejoin="round" stroke-linecap="butt"/>
<path d="M436.79 317.19 L442.60 318.70 L443.30 318.88 L444.22 319.13 L445.30 319.43 L446.52 319.76 L447.83 320.10 L449.21 320.43 L450.61 320.74 L452.00 321.00 L453.37 321.23 L454.76 321.43 L456.18 321.63 L457.66 321.81 L459.21 321.98 L460.85 322.15 L462.61 322.32 L464.50 322.50 L466.52 322.70 L468.64 322.92 L470.87 323.16 L473.19 323.38 L475.61 323.58 L478.12 323.75 L480.72 323.86 L483.40 323.90 L485.92 323.85 L488.18 323.70 L490.39 323.50 L492.76 323.26 L495.49 323.01 L498.81 322.78 L502.90 322.60 L508.00 322.50 L514.72 322.48 L523.14 322.50 L532.62 322.57 L542.54 322.66 L552.26 322.77 L561.17 322.87 L568.63 322.95 L574.00 323.00 L580.00 323.06" fill="none" stroke="#2163a8" stroke-width="3.8" stroke-opacity="0.55" stroke-linejoin="round" stroke-linecap="butt"/>
<path d="M438.00 309.15 L442.60 313.00 L443.14 313.45 L443.81 314.07 L444.60 314.80 L445.51 315.61 L446.53 316.45 L447.65 317.27 L448.88 318.04 L450.20 318.70 L451.64 319.29 L453.20 319.85 L454.87 320.39 L456.64 320.89 L458.51 321.36 L460.44 321.79 L462.45 322.17 L464.50 322.50 L466.66 322.77 L468.96 322.99 L471.35 323.17 L473.81 323.30 L476.28 323.39 L478.73 323.46 L481.12 323.49 L483.40 323.50 L485.64 323.47 L487.91 323.39 L490.17 323.27 L492.38 323.12 L494.50 322.96 L496.50 322.80 L498.35 322.64 L500.00 322.50 L501.39 322.40 L502.53 322.32 L503.49 322.26 L504.34 322.19 L505.16 322.09 L506.01 321.96 L506.96 321.77 L508.10 321.50 L509.41 321.14 L510.83 320.70 L512.33 320.20 L513.88 319.66 L515.44 319.10 L517.01 318.54 L518.53 318.00 L520.00 317.50 L521.40 317.04 L522.76 316.60 L524.10 316.17 L525.43 315.74 L526.75 315.31 L528.10 314.87 L529.48 314.40 L530.90 313.90 L532.39 313.37 L533.96 312.83 L535.56 312.26 L537.18 311.68 L538.78 311.08 L540.34 310.47 L541.82 309.84 L543.20 309.20 L544.48 308.54 L545.68 307.85 L546.82 307.14 L547.91 306.41 L548.96 305.68 L549.99 304.95 L551.00 304.22 L552.00 303.50 L553.00 302.80 L553.98 302.12 L554.94 301.45 L555.87 300.78 L556.78 300.09 L557.66 299.37 L558.50 298.61 L559.30 297.80 L560.06 296.94 L560.77 296.03 L561.44 295.09 L562.09 294.13 L562.71 293.13 L563.31 292.10 L563.91 291.06 L564.50 290.00 L565.09 288.95 L565.66 287.93 L566.23 286.90 L566.77 285.84 L567.31 284.72 L567.82 283.51 L568.32 282.18 L568.80 280.70 L569.26 279.08 L569.71 277.36 L570.13 275.53 L570.54 273.60 L570.94 271.58 L571.31 269.47 L571.66 267.27 L572.00 265.00 L572.32 262.46 L572.63 259.57 L572.93 256.49 L573.20 253.37 L573.45 250.37 L573.67 247.66 L573.85 245.38 L574.00 243.70 L574.52 237.72" fill="none" stroke="#12899a" stroke-width="3.8" stroke-opacity="0.55" stroke-linejoin="round" stroke-linecap="butt"/>
<path d="M436.60 329.24 L442.60 329.10 L445.08 329.04 L448.42 328.99 L452.41 328.92 L456.82 328.83 L461.41 328.72 L465.96 328.59 L470.23 328.41 L474.00 328.20 L477.42 327.94 L480.78 327.64 L484.04 327.30 L487.16 326.93 L490.12 326.54 L492.89 326.14 L495.43 325.72 L497.70 325.30 L499.62 324.88 L501.17 324.46 L502.45 324.02 L503.55 323.57 L504.57 323.10 L505.61 322.60 L506.75 322.07 L508.10 321.50 L509.62 320.90 L511.20 320.27 L512.84 319.62 L514.51 318.94 L516.22 318.23 L517.94 317.47 L519.67 316.66 L521.40 315.80 L523.13 314.92 L524.88 314.03 L526.65 313.11 L528.44 312.14 L530.23 311.10 L532.02 309.96 L533.81 308.70 L535.60 307.30 L537.45 305.69 L539.39 303.88 L541.38 301.92 L543.34 299.88 L545.24 297.82 L547.00 295.79 L548.57 293.86 L549.90 292.10 L550.95 290.43 L551.76 288.76 L552.38 287.13 L552.87 285.57 L553.28 284.11 L553.67 282.79 L554.09 281.64 L554.60 280.70 L555.17 280.00 L555.73 279.53 L556.29 279.25 L556.84 279.09 L557.39 279.02 L557.93 278.98 L558.47 278.92 L559.00 278.80 L559.55 278.63 L560.14 278.48 L560.74 278.35 L561.33 278.23 L561.88 278.13 L562.37 278.04 L562.79 277.96 L563.10 277.90" fill="none" stroke="#41a98a" stroke-width="3.8" stroke-opacity="0.55" stroke-linejoin="round" stroke-linecap="butt"/>
<path d="M449.50 310.00 L449.77 311.11 L450.12 312.59 L450.54 314.35 L451.01 316.31 L451.51 318.38 L452.04 320.48 L452.57 322.51 L453.10 324.40 L453.63 326.20 L454.20 328.03 L454.78 329.86 L455.38 331.69 L455.98 333.49 L456.59 335.25 L457.20 336.96 L457.80 338.60 L458.39 340.18 L458.98 341.73 L459.57 343.23 L460.16 344.69 L460.75 346.10 L461.36 347.45 L461.97 348.76 L462.60 350.00 L463.20 351.20 L463.75 352.38 L464.29 353.51 L464.85 354.59 L465.47 355.59 L466.17 356.50 L467.01 357.31 L468.00 358.00 L469.20 358.62 L470.60 359.20 L472.14 359.72 L473.77 360.12 L475.42 360.39 L477.05 360.48 L478.59 360.37 L480.00 360.00 L481.26 359.33 L482.42 358.38 L483.52 357.19 L484.59 355.84 L485.65 354.38 L486.73 352.88 L487.87 351.40 L489.10 350.00 L490.44 348.66 L491.88 347.31 L493.37 345.95 L494.89 344.56 L496.40 343.14 L497.86 341.68 L499.24 340.17 L500.50 338.60 L501.66 336.96 L502.76 335.25 L503.80 333.48 L504.78 331.68 L505.70 329.86 L506.56 328.02 L507.36 326.20 L508.10 324.40 L508.76 322.65 L509.34 320.94 L509.85 319.25 L510.30 317.54 L510.72 315.80 L511.11 314.00 L511.50 312.11 L511.90 310.10 L512.32 307.83 L512.74 305.26 L513.15 302.52 L513.54 299.76 L513.90 297.11 L514.22 294.70 L514.49 292.69 L514.70 291.20" fill="none" stroke="#ecd432" stroke-width="3.8" stroke-opacity="0.55" stroke-linejoin="round" stroke-linecap="butt"/>
<path d="M494.00 241.50 L494.44 242.13 L495.03 242.97 L495.73 243.98 L496.51 245.09 L497.32 246.26 L498.12 247.42 L498.86 248.52 L499.50 249.50 L500.08 250.29 L500.64 250.89 L501.18 251.41 L501.69 251.94 L502.16 252.57 L502.59 253.40 L502.98 254.51 L503.30 256.00 L503.54 257.90 L503.70 260.15 L503.80 262.66 L503.86 265.38 L503.91 268.22 L503.97 271.14 L504.05 274.06 L504.20 276.90 L504.39 279.73 L504.60 282.63 L504.83 285.58 L505.07 288.57 L505.34 291.58 L505.61 294.60 L505.90 297.61 L506.20 300.60 L506.52 303.64 L506.86 306.77 L507.23 309.94 L507.60 313.09 L507.98 316.17 L508.36 319.12 L508.74 321.88 L509.10 324.40 L509.45 326.65 L509.81 328.67 L510.16 330.51 L510.51 332.22 L510.85 333.84 L511.20 335.41 L511.55 336.98 L511.90 338.60 L512.25 340.27 L512.59 341.95 L512.93 343.62 L513.27 345.26 L513.61 346.83 L513.96 348.31 L514.33 349.67 L514.70 350.90 L515.06 352.04 L515.40 353.12 L515.74 354.13 L516.09 355.03 L516.47 355.80 L516.90 356.40 L517.41 356.81 L518.00 357.00 L518.71 356.91 L519.52 356.55 L520.40 355.97 L521.34 355.24 L522.29 354.42 L523.24 353.57 L524.15 352.74 L525.00 352.00 L525.78 351.32 L526.52 350.62 L527.24 349.90 L527.94 349.17 L528.65 348.44 L529.37 347.70 L530.11 346.95 L530.90 346.20 L531.74 345.44 L532.64 344.65 L533.56 343.86 L534.49 343.06 L535.42 342.27 L536.33 341.49 L537.20 340.73 L538.00 340.00 L538.78 339.27 L539.56 338.51 L540.32 337.75 L541.04 337.01 L541.71 336.33 L542.31 335.71 L542.81 335.19 L543.20 334.80" fill="none" stroke="#5a3a9e" stroke-width="3.8" stroke-opacity="0.55" stroke-linejoin="round" stroke-linecap="butt"/>
<path d="M493.90 294.00 L494.42 294.49 L495.13 295.12 L495.97 295.86 L496.90 296.71 L497.87 297.62 L498.82 298.59 L499.72 299.59 L500.50 300.60 L501.19 301.65 L501.85 302.77 L502.48 303.95 L503.08 305.17 L503.65 306.41 L504.21 307.66 L504.76 308.89 L505.30 310.10 L505.80 311.37 L506.23 312.74 L506.64 314.16 L507.03 315.56 L507.45 316.87 L507.91 318.03 L508.45 318.96 L509.10 319.60 L509.81 319.92 L510.56 319.97 L511.34 319.81 L512.19 319.48 L513.13 319.05 L514.16 318.58 L515.31 318.11 L516.60 317.70 L518.08 317.32 L519.74 316.90 L521.55 316.45 L523.45 315.97 L525.39 315.47 L527.31 314.96 L529.16 314.43 L530.90 313.90 L532.62 313.32 L534.40 312.68 L536.20 312.00 L537.94 311.31 L539.58 310.66 L541.04 310.07 L542.26 309.57 L543.20 309.20" fill="none" stroke="#873574" stroke-width="3.8" stroke-opacity="0.55" stroke-linejoin="round" stroke-linecap="butt"/>
<path d="M503.00 306.00 L503.23 306.53 L503.53 307.21 L503.88 308.02 L504.28 308.94 L504.71 309.92 L505.14 310.95 L505.58 311.98 L506.00 313.00 L506.42 314.00 L506.86 314.99 L507.32 316.01 L507.78 317.06 L508.24 318.17 L508.68 319.35 L509.11 320.62 L509.50 322.00 L509.86 323.51 L510.20 325.15 L510.51 326.88 L510.81 328.69 L511.11 330.53 L511.40 332.38 L511.69 334.22 L512.00 336.00 L512.31 337.81 L512.62 339.71 L512.94 341.65 L513.25 343.56 L513.56 345.41 L513.88 347.13 L514.19 348.68 L514.50 350.00 L514.78 351.12 L515.02 352.12 L515.24 352.97 L515.47 353.69 L515.73 354.25 L516.06 354.66 L516.47 354.92 L517.00 355.00 L517.66 354.87 L518.44 354.50 L519.30 353.95 L520.23 353.25 L521.18 352.46 L522.15 351.62 L523.10 350.79 L524.00 350.00 L524.88 349.21 L525.77 348.37 L526.67 347.48 L527.57 346.56 L528.45 345.64 L529.30 344.73 L530.12 343.84 L530.90 343.00 L531.63 342.22 L532.32 341.50 L532.98 340.80 L533.61 340.11 L534.22 339.41 L534.82 338.67 L535.41 337.88 L536.00 337.00 L536.61 335.97 L537.25 334.79 L537.89 333.52 L538.52 332.23 L539.10 330.98 L539.63 329.85 L540.07 328.90 L540.40 328.20" fill="none" stroke="#d22f51" stroke-width="3.8" stroke-opacity="0.55" stroke-linejoin="round" stroke-linecap="butt"/>
<path d="M441.60 291.50 L441.75 292.13 L441.94 292.97 L442.16 293.98 L442.42 295.09 L442.71 296.26 L443.04 297.42 L443.40 298.52 L443.80 299.50 L444.24 300.39 L444.71 301.26 L445.22 302.11 L445.77 302.93 L446.35 303.73 L446.97 304.51 L447.62 305.26 L448.30 306.00 L449.01 306.71 L449.75 307.38 L450.53 308.03 L451.34 308.66 L452.19 309.28 L453.08 309.89 L454.01 310.49 L455.00 311.10 L456.02 311.72 L457.07 312.35 L458.15 312.97 L459.28 313.59 L460.47 314.19 L461.73 314.76 L463.07 315.30 L464.50 315.80 L466.05 316.26 L467.72 316.69 L469.48 317.09 L471.31 317.46 L473.17 317.80 L475.04 318.12 L476.89 318.42 L478.70 318.70 L480.47 318.95 L482.23 319.16 L483.98 319.33 L485.74 319.49 L487.50 319.64 L489.28 319.79 L491.08 319.94 L492.90 320.10 L494.70 320.27 L496.45 320.44 L498.19 320.60 L499.96 320.77 L501.80 320.94 L503.74 321.11 L505.83 321.30 L508.10 321.50 L510.61 321.72 L513.35 321.96 L516.26 322.22 L519.26 322.48 L522.29 322.73 L525.29 322.98 L528.18 323.20 L530.90 323.40 L533.42 323.57 L535.78 323.73 L538.04 323.88 L540.26 324.01 L542.50 324.12 L544.82 324.23 L547.26 324.32 L549.90 324.40 L552.91 324.46 L556.31 324.51 L559.93 324.54 L563.59 324.56 L567.09 324.57 L570.27 324.58 L572.93 324.59 L574.90 324.60 L580.90 324.63" fill="none" stroke="#f5821f" stroke-width="8.0" stroke-linejoin="round" stroke-linecap="butt"/></g>
<g clip-path="url(#cE)"><path d="M436.10 735.78 L442.10 735.60 L442.78 735.58 L443.63 735.58 L444.64 735.59 L445.79 735.58 L447.06 735.53 L448.44 735.43 L449.89 735.26 L451.40 735.00 L453.02 734.65 L454.80 734.24 L456.69 733.76 L458.67 733.22 L460.69 732.64 L462.73 732.00 L464.74 731.32 L466.70 730.60 L468.62 729.84 L470.54 729.03 L472.47 728.17 L474.39 727.27 L476.32 726.32 L478.25 725.32 L480.17 724.28 L482.10 723.20 L484.06 722.04 L486.06 720.80 L488.08 719.50 L490.09 718.16 L492.07 716.81 L493.98 715.47 L495.80 714.15 L497.50 712.90 L499.06 711.68 L500.50 710.45 L501.85 709.23 L503.14 708.04 L504.39 706.87 L505.63 705.76 L506.89 704.69 L508.20 703.70 L509.53 702.79 L510.86 701.96 L512.18 701.19 L513.50 700.46 L514.84 699.76 L516.19 699.06 L517.58 698.35 L519.00 697.60 L520.45 696.86 L521.90 696.16 L523.37 695.48 L524.87 694.79 L526.40 694.07 L527.98 693.28 L529.61 692.40 L531.30 691.40 L533.07 690.30 L534.91 689.13 L536.81 687.88 L538.76 686.57 L540.72 685.18 L542.70 683.72 L544.66 682.20 L546.60 680.60 L548.54 678.88 L550.50 677.00 L552.47 675.03 L554.44 672.99 L556.39 670.96 L558.31 668.96 L560.18 667.06 L562.00 665.30 L563.84 663.60 L565.74 661.89 L567.66 660.20 L569.51 658.59 L571.25 657.10 L572.80 655.78 L574.11 654.66 L575.10 653.80 L579.64 649.87" fill="none" stroke="#0f7a38" stroke-width="3.8" stroke-opacity="0.55" stroke-linejoin="round" stroke-linecap="butt"/>
<path d="M436.15 739.77 L442.10 739.00 L443.08 738.87 L444.37 738.73 L445.90 738.57 L447.61 738.38 L449.44 738.13 L451.33 737.83 L453.20 737.46 L455.00 737.00 L456.77 736.46 L458.60 735.85 L460.47 735.17 L462.37 734.44 L464.28 733.65 L466.20 732.80 L468.11 731.92 L470.00 731.00 L471.89 730.02 L473.81 728.96 L475.73 727.84 L477.66 726.69 L479.56 725.51 L481.43 724.32 L483.24 723.15 L485.00 722.00 L486.69 720.88 L488.34 719.76 L489.95 718.64 L491.52 717.52 L493.05 716.40 L494.56 715.27 L496.04 714.14 L497.50 713.00 L498.92 711.85 L500.28 710.71 L501.60 709.55 L502.89 708.39 L504.19 707.23 L505.49 706.06 L506.82 704.88 L508.20 703.70 L509.60 702.52 L511.00 701.33 L512.40 700.15 L513.83 698.96 L515.29 697.75 L516.80 696.53 L518.36 695.28 L520.00 694.00 L521.72 692.69 L523.53 691.34 L525.39 689.97 L527.30 688.58 L529.23 687.18 L531.18 685.78 L533.10 684.38 L535.00 683.00 L536.90 681.62 L538.82 680.23 L540.76 678.83 L542.69 677.44 L544.59 676.05 L546.46 674.68 L548.27 673.33 L550.00 672.00 L551.64 670.69 L553.19 669.38 L554.67 668.09 L556.12 666.81 L557.55 665.56 L558.99 664.34 L560.47 663.15 L562.00 662.00 L563.67 660.85 L565.50 659.67 L567.41 658.50 L569.30 657.38 L571.10 656.33 L572.72 655.39 L574.08 654.60 L575.10 654.00 L580.26 650.94" fill="none" stroke="#a8b41e" stroke-width="3.8" stroke-opacity="0.55" stroke-linejoin="round" stroke-linecap="butt"/>
<path d="M436.10 736.94 L442.10 736.70 L442.78 736.67 L443.63 736.67 L444.64 736.66 L445.79 736.64 L447.06 736.58 L448.44 736.47 L449.89 736.28 L451.40 736.00 L453.02 735.63 L454.80 735.20 L456.69 734.70 L458.67 734.14 L460.69 733.52 L462.73 732.86 L464.74 732.15 L466.70 731.40 L468.62 730.61 L470.54 729.77 L472.47 728.88 L474.39 727.94 L476.32 726.95 L478.25 725.92 L480.17 724.83 L482.10 723.70 L484.06 722.49 L486.06 721.18 L488.08 719.81 L490.09 718.39 L492.07 716.97 L493.98 715.56 L495.80 714.19 L497.50 712.90 L499.06 711.65 L500.50 710.41 L501.85 709.20 L503.14 708.01 L504.39 706.85 L505.63 705.74 L506.89 704.69 L508.20 703.70 L509.53 702.79 L510.86 701.96 L512.18 701.19 L513.50 700.46 L514.84 699.76 L516.19 699.06 L517.58 698.35 L519.00 697.60 L520.45 696.86 L521.90 696.16 L523.37 695.48 L524.87 694.79 L526.40 694.07 L527.98 693.28 L529.61 692.40 L531.30 691.40 L533.07 690.30 L534.91 689.13 L536.81 687.88 L538.76 686.57 L540.72 685.18 L542.70 683.72 L544.66 682.20 L546.60 680.60 L548.54 678.88 L550.50 677.00 L552.47 675.03 L554.44 672.99 L556.39 670.96 L558.31 668.96 L560.18 667.06 L562.00 665.30 L563.84 663.60 L565.74 661.89 L567.66 660.20 L569.51 658.59 L571.25 657.10 L572.80 655.78 L574.11 654.66 L575.10 653.80 L579.64 649.87" fill="none" stroke="#41a98a" stroke-width="3.8" stroke-opacity="0.55" stroke-linejoin="round" stroke-linecap="butt"/>
<path d="M508.20 703.70 L509.51 702.85 L511.26 701.69 L513.35 700.31 L515.66 698.79 L518.09 697.21 L520.53 695.67 L522.87 694.23 L525.00 693.00 L526.98 691.91 L528.95 690.85 L530.89 689.84 L532.80 688.89 L534.67 688.02 L536.50 687.24 L538.28 686.56 L540.00 686.00 L541.64 685.56 L543.19 685.23 L544.68 685.01 L546.12 684.88 L547.56 684.82 L549.00 684.83 L550.47 684.89 L552.00 685.00 L553.60 685.18 L555.25 685.47 L556.93 685.83 L558.62 686.25 L560.29 686.70 L561.93 687.16 L563.51 687.60 L565.00 688.00 L566.47 688.40 L567.97 688.82 L569.44 689.26 L570.86 689.69 L572.18 690.09 L573.35 690.46 L574.34 690.77 L575.10 691.00 L580.84 692.75" fill="none" stroke="#4a8a1c" stroke-width="3.8" stroke-opacity="0.55" stroke-linejoin="round" stroke-linecap="butt"/>
<path d="M438.12 725.89 L442.10 721.40 L442.82 720.59 L443.77 719.48 L444.91 718.15 L446.18 716.69 L447.51 715.19 L448.86 713.75 L450.18 712.46 L451.40 711.40 L452.53 710.55 L453.63 709.80 L454.72 709.15 L455.81 708.58 L456.93 708.07 L458.08 707.61 L459.30 707.19 L460.60 706.80 L462.01 706.43 L463.53 706.10 L465.12 705.81 L466.75 705.57 L468.38 705.38 L469.97 705.26 L471.49 705.19 L472.90 705.20 L474.18 705.32 L475.35 705.55 L476.44 705.88 L477.50 706.25 L478.56 706.63 L479.65 707.00 L480.82 707.30 L482.10 707.50 L483.48 707.64 L484.92 707.75 L486.42 707.84 L487.96 707.88 L489.54 707.88 L491.15 707.82 L492.77 707.70 L494.40 707.50 L496.01 707.25 L497.60 706.96 L499.19 706.61 L500.82 706.21 L502.50 705.72 L504.28 705.15 L506.17 704.48 L508.20 703.70 L510.43 702.75 L512.87 701.61 L515.45 700.35 L518.10 699.02 L520.76 697.66 L523.38 696.34 L525.88 695.10 L528.20 694.00 L530.35 693.05 L532.37 692.22 L534.31 691.46 L536.19 690.74 L538.03 690.02 L539.86 689.26 L541.71 688.43 L543.60 687.50 L545.52 686.51 L547.43 685.51 L549.34 684.49 L551.26 683.41 L553.17 682.24 L555.10 680.97 L557.04 679.57 L559.00 678.00 L561.09 676.12 L563.35 673.88 L565.69 671.43 L568.01 668.91 L570.21 666.46 L572.19 664.23 L573.85 662.36 L575.10 661.00 L579.15 656.57" fill="none" stroke="#12899a" stroke-width="3.8" stroke-opacity="0.55" stroke-linejoin="round" stroke-linecap="butt"/>
<path d="M495.00 728.00 L495.55 727.08 L496.28 725.85 L497.15 724.39 L498.11 722.77 L499.13 721.05 L500.14 719.30 L501.12 717.60 L502.00 716.00 L502.80 714.47 L503.57 712.91 L504.32 711.34 L505.06 709.77 L505.80 708.22 L506.56 706.68 L507.36 705.17 L508.20 703.70 L509.10 702.27 L510.05 700.86 L511.04 699.47 L512.05 698.11 L513.06 696.77 L514.05 695.45 L515.00 694.16 L515.90 692.90 L516.75 691.69 L517.56 690.56 L518.34 689.47 L519.10 688.39 L519.85 687.31 L520.59 686.18 L521.34 684.99 L522.10 683.70 L522.87 682.31 L523.63 680.84 L524.39 679.31 L525.15 677.74 L525.91 676.15 L526.67 674.55 L527.43 672.96 L528.20 671.40 L528.97 669.90 L529.75 668.47 L530.52 667.06 L531.30 665.63 L532.08 664.16 L532.85 662.60 L533.63 660.93 L534.40 659.10 L535.17 657.13 L535.93 655.07 L536.69 652.92 L537.46 650.67 L538.22 648.32 L538.98 645.88 L539.74 643.34 L540.50 640.70 L541.25 638.03 L541.97 635.35 L542.68 632.61 L543.40 629.75 L544.14 626.73 L544.91 623.48 L545.72 619.95 L546.60 616.10 L547.61 611.56 L548.76 606.25 L549.99 600.47 L551.23 594.56 L552.43 588.85 L553.52 583.65 L554.43 579.29 L555.10 576.10" fill="none" stroke="#2163a8" stroke-width="3.8" stroke-opacity="0.55" stroke-linejoin="round" stroke-linecap="butt"/>
<path d="M454.40 785.20 L455.37 784.50 L456.68 783.60 L458.24 782.53 L459.97 781.32 L461.77 780.02 L463.55 778.65 L465.22 777.27 L466.70 775.90 L468.00 774.56 L469.20 773.21 L470.35 771.84 L471.45 770.41 L472.54 768.90 L473.65 767.28 L474.79 765.52 L476.00 763.60 L477.27 761.49 L478.57 759.20 L479.91 756.77 L481.26 754.23 L482.62 751.62 L483.99 748.97 L485.35 746.32 L486.70 743.70 L488.05 741.06 L489.40 738.34 L490.75 735.58 L492.10 732.81 L493.45 730.04 L494.80 727.31 L496.15 724.66 L497.50 722.10 L498.84 719.63 L500.18 717.20 L501.52 714.83 L502.85 712.51 L504.18 710.24 L505.52 708.01 L506.86 705.83 L508.20 703.70 L509.53 701.66 L510.86 699.74 L512.18 697.90 L513.50 696.09 L514.84 694.27 L516.19 692.40 L517.58 690.42 L519.00 688.30 L520.47 685.99 L521.97 683.50 L523.50 680.90 L525.06 678.26 L526.62 675.62 L528.19 673.06 L529.75 670.63 L531.30 668.40 L532.82 666.36 L534.30 664.47 L535.78 662.68 L537.26 660.98 L538.76 659.33 L540.31 657.72 L541.91 656.12 L543.60 654.50 L545.37 652.87 L547.22 651.26 L549.12 649.67 L551.06 648.11 L553.04 646.57 L555.03 645.08 L557.02 643.62 L559.00 642.20 L561.09 640.77 L563.35 639.30 L565.69 637.84 L568.01 636.43 L570.21 635.12 L572.19 633.94 L573.85 632.96 L575.10 632.20 L580.23 629.09" fill="none" stroke="#873574" stroke-width="3.8" stroke-opacity="0.55" stroke-linejoin="round" stroke-linecap="butt"/>
<path d="M445.20 788.20 L454.40 774.40 L461.40 765.20 L468.30 765.90 L474.40 756.00 L480.60 742.10 L486.70 736.00 L494.40 731.40 L502.10 720.60 L508.20 703.70 L515.90 688.30 L515.90 688.30 L516.83 686.54 L518.04 684.20 L519.48 681.43 L521.09 678.34 L522.82 675.05 L524.62 671.70 L526.43 668.41 L528.20 665.30 L529.98 662.26 L531.83 659.12 L533.75 655.92 L535.71 652.71 L537.69 649.54 L539.68 646.45 L541.65 643.49 L543.60 640.70 L545.52 638.09 L547.43 635.61 L549.34 633.25 L551.26 630.98 L553.17 628.77 L555.10 626.60 L557.04 624.45 L559.00 622.30 L561.09 620.06 L563.35 617.72 L565.69 615.35 L568.01 613.05 L570.21 610.89 L572.19 608.96 L573.85 607.33 L575.10 606.10" fill="none" stroke="#5a3a9e" stroke-width="3.8" stroke-opacity="0.55" stroke-linejoin="round" stroke-linecap="butt"/>
<path d="M436.19 726.23 L442.10 725.20 L443.41 724.97 L445.17 724.68 L447.27 724.33 L449.59 723.94 L452.03 723.51 L454.48 723.05 L456.84 722.58 L459.00 722.10 L461.00 721.61 L462.96 721.09 L464.88 720.55 L466.79 719.99 L468.69 719.40 L470.59 718.79 L472.49 718.16 L474.40 717.50 L476.30 716.82 L478.18 716.12 L480.04 715.39 L481.91 714.64 L483.81 713.87 L485.74 713.07 L487.73 712.25 L489.80 711.40 L491.99 710.49 L494.29 709.51 L496.68 708.49 L499.09 707.46 L501.50 706.43 L503.85 705.44 L506.09 704.53 L508.20 703.70 L510.15 702.97 L511.99 702.31 L513.75 701.71 L515.44 701.16 L517.09 700.63 L518.74 700.12 L520.40 699.62 L522.10 699.10 L523.82 698.58 L525.52 698.06 L527.21 697.55 L528.91 697.06 L530.61 696.59 L532.34 696.13 L534.10 695.70 L535.90 695.30 L537.69 694.92 L539.44 694.56 L541.19 694.22 L542.97 693.91 L544.84 693.61 L546.82 693.35 L548.96 693.11 L551.30 692.90 L554.04 692.73 L557.22 692.59 L560.66 692.48 L564.16 692.40 L567.55 692.34 L570.63 692.29 L573.21 692.24 L575.10 692.20 L581.10 692.07" fill="none" stroke="#f5821f" stroke-width="8.0" stroke-linejoin="round" stroke-linecap="butt"/></g>
<g clip-path="url(#cH)"><path d="M501.30 1074.20 L501.47 1076.57 L501.69 1079.72 L501.96 1083.46 L502.26 1087.63 L502.58 1092.04 L502.91 1096.51 L503.26 1100.85 L503.60 1104.90 L503.94 1108.81 L504.28 1112.83 L504.64 1116.88 L505.01 1120.92 L505.39 1124.87 L505.80 1128.68 L506.24 1132.27 L506.70 1135.60 L507.19 1138.62 L507.71 1141.39 L508.24 1143.95 L508.81 1146.37 L509.39 1148.69 L510.00 1150.96 L510.64 1153.25 L511.30 1155.60 L511.99 1157.99 L512.70 1160.35 L513.45 1162.68 L514.21 1164.99 L515.00 1167.27 L515.81 1169.54 L516.65 1171.78 L517.50 1174.00 L518.36 1176.21 L519.23 1178.42 L520.11 1180.62 L521.01 1182.79 L521.95 1184.92 L522.94 1187.01 L523.99 1189.04 L525.10 1191.00 L526.30 1192.90 L527.58 1194.75 L528.92 1196.55 L530.31 1198.29 L531.72 1199.99 L533.13 1201.64 L534.53 1203.25 L535.90 1204.80 L537.23 1206.32 L538.54 1207.80 L539.85 1209.24 L541.15 1210.62 L542.47 1211.95 L543.81 1213.21 L545.18 1214.40 L546.60 1215.50 L548.05 1216.51 L549.51 1217.44 L551.00 1218.29 L552.51 1219.07 L554.06 1219.80 L555.66 1220.47 L557.30 1221.10 L559.00 1221.70 L560.88 1222.26 L562.98 1222.77 L565.20 1223.23 L567.42 1223.64 L569.56 1224.00 L571.48 1224.32 L573.10 1224.58 L574.30 1224.80 L580.20 1225.87" fill="none" stroke="#ecd432" stroke-width="3.8" stroke-opacity="0.55" stroke-linejoin="round" stroke-linecap="butt"/>
<path d="M466.70 1149.50 L469.70 1148.37 L473.70 1146.85 L478.48 1145.04 L483.78 1143.04 L489.34 1140.93 L494.93 1138.81 L500.30 1136.77 L505.20 1134.90 L509.73 1133.17 L514.15 1131.47 L518.51 1129.79 L522.81 1128.13 L527.09 1126.48 L531.37 1124.83 L535.66 1123.17 L540.00 1121.50 L544.61 1119.72 L549.58 1117.82 L554.68 1115.85 L559.73 1113.91 L564.50 1112.08 L568.79 1110.43 L572.39 1109.04 L575.10 1108.00 L580.70 1105.85" fill="none" stroke="#0f7a38" stroke-width="3.8" stroke-opacity="0.55" stroke-linejoin="round" stroke-linecap="butt"/>
<path d="M436.16 1144.94 L442.10 1144.10 L447.16 1143.38 L454.10 1142.43 L462.38 1141.29 L471.48 1140.03 L480.84 1138.70 L489.94 1137.36 L498.24 1136.07 L505.20 1134.90 L510.90 1133.81 L515.88 1132.73 L520.31 1131.67 L524.35 1130.61 L528.17 1129.57 L531.94 1128.54 L535.83 1127.52 L540.00 1126.50 L544.61 1125.44 L549.58 1124.33 L554.68 1123.19 L559.73 1122.08 L564.50 1121.03 L568.79 1120.09 L572.39 1119.30 L575.10 1118.70 L580.96 1117.41" fill="none" stroke="#f5821f" stroke-width="3.8" stroke-opacity="0.55" stroke-linejoin="round" stroke-linecap="butt"/>
<path d="M436.10 1137.40 L442.10 1137.20 L447.16 1137.03 L454.10 1136.81 L462.38 1136.55 L471.48 1136.26 L480.84 1135.94 L489.94 1135.61 L498.24 1135.26 L505.20 1134.90 L510.90 1134.53 L515.88 1134.13 L520.31 1133.71 L524.35 1133.28 L528.17 1132.84 L531.94 1132.39 L535.83 1131.94 L540.00 1131.50 L544.61 1131.03 L549.58 1130.53 L554.68 1130.01 L559.73 1129.49 L564.50 1129.00 L568.79 1128.55 L572.39 1128.18 L575.10 1127.90 L581.07 1127.29" fill="none" stroke="#2163a8" stroke-width="3.8" stroke-opacity="0.55" stroke-linejoin="round" stroke-linecap="butt"/>
<path d="M436.10 1136.68 L442.10 1136.50 L446.92 1136.36 L453.28 1136.14 L460.84 1135.88 L469.28 1135.61 L478.27 1135.34 L487.47 1135.12 L496.56 1134.96 L505.20 1134.90 L514.09 1134.95 L523.84 1135.09 L533.99 1135.30 L544.09 1135.55 L553.71 1135.81 L562.38 1136.06 L569.66 1136.26 L575.10 1136.40 L581.10 1136.55" fill="none" stroke="#4a8a1c" stroke-width="3.8" stroke-opacity="0.55" stroke-linejoin="round" stroke-linecap="butt"/>
<path d="M437.47 1087.28 L442.10 1091.10 L443.01 1091.85 L444.22 1092.84 L445.66 1094.01 L447.26 1095.32 L448.96 1096.73 L450.69 1098.17 L452.39 1099.61 L454.00 1101.00 L455.51 1102.36 L456.99 1103.74 L458.46 1105.15 L459.95 1106.58 L461.49 1108.04 L463.11 1109.53 L464.84 1111.05 L466.70 1112.60 L468.71 1114.22 L470.84 1115.93 L473.07 1117.69 L475.38 1119.47 L477.75 1121.23 L480.16 1122.92 L482.58 1124.53 L485.00 1126.00 L487.42 1127.34 L489.87 1128.59 L492.36 1129.75 L494.87 1130.86 L497.41 1131.91 L499.98 1132.92 L502.58 1133.91 L505.20 1134.90 L507.86 1135.88 L510.55 1136.84 L513.28 1137.77 L516.04 1138.67 L518.81 1139.53 L521.60 1140.35 L524.40 1141.10 L527.20 1141.80 L530.00 1142.42 L532.79 1142.98 L535.59 1143.48 L538.41 1143.93 L541.25 1144.35 L544.12 1144.74 L547.03 1145.12 L550.00 1145.50 L553.20 1145.88 L556.70 1146.25 L560.35 1146.60 L563.98 1146.93 L567.42 1147.23 L570.54 1147.50 L573.15 1147.72 L575.10 1147.90 L581.08 1148.44" fill="none" stroke="#41a98a" stroke-width="3.8" stroke-opacity="0.55" stroke-linejoin="round" stroke-linecap="butt"/>
<path d="M436.40 1110.73 L442.10 1112.60 L444.66 1113.44 L448.08 1114.55 L452.15 1115.87 L456.66 1117.34 L461.41 1118.90 L466.19 1120.48 L470.79 1122.04 L475.00 1123.50 L478.87 1124.89 L482.63 1126.29 L486.32 1127.69 L489.98 1129.09 L493.66 1130.52 L497.39 1131.95 L501.22 1133.41 L505.20 1134.90 L509.33 1136.41 L513.57 1137.94 L517.90 1139.50 L522.29 1141.07 L526.73 1142.66 L531.17 1144.26 L535.60 1145.87 L540.00 1147.50 L544.61 1149.24 L549.58 1151.13 L554.68 1153.09 L559.73 1155.04 L564.50 1156.89 L568.79 1158.55 L572.39 1159.95 L575.10 1161.00 L580.70 1163.16" fill="none" stroke="#d22f51" stroke-width="3.8" stroke-opacity="0.55" stroke-linejoin="round" stroke-linecap="butt"/>
<path d="M436.43 1120.64 L442.10 1122.60 L443.45 1123.07 L445.22 1123.70 L447.32 1124.46 L449.67 1125.29 L452.19 1126.16 L454.81 1127.01 L457.44 1127.81 L460.00 1128.50 L462.55 1129.11 L465.21 1129.69 L467.94 1130.25 L470.73 1130.77 L473.55 1131.27 L476.41 1131.74 L479.26 1132.19 L482.10 1132.60 L484.86 1132.97 L487.53 1133.28 L490.18 1133.56 L492.86 1133.81 L495.64 1134.06 L498.58 1134.31 L501.75 1134.59 L505.20 1134.90 L508.99 1135.26 L513.07 1135.66 L517.38 1136.07 L521.85 1136.50 L526.41 1136.92 L531.00 1137.32 L535.56 1137.68 L540.00 1138.00 L544.61 1138.27 L549.58 1138.52 L554.68 1138.75 L559.73 1138.94 L564.50 1139.12 L568.79 1139.27 L572.39 1139.40 L575.10 1139.50 L581.10 1139.73" fill="none" stroke="#12899a" stroke-width="3.8" stroke-opacity="0.55" stroke-linejoin="round" stroke-linecap="butt"/>
<path d="M438.78 1079.90 L442.10 1084.90 L443.05 1086.33 L444.31 1088.23 L445.81 1090.49 L447.48 1093.00 L449.25 1095.66 L451.04 1098.35 L452.78 1100.97 L454.40 1103.40 L455.92 1105.76 L457.40 1108.19 L458.88 1110.64 L460.36 1113.08 L461.86 1115.46 L463.41 1117.74 L465.01 1119.86 L466.70 1121.80 L468.42 1123.57 L470.15 1125.23 L471.91 1126.78 L473.72 1128.21 L475.62 1129.51 L477.64 1130.68 L479.79 1131.71 L482.10 1132.60 L484.68 1133.36 L487.53 1134.01 L490.56 1134.53 L493.69 1134.92 L496.81 1135.16 L499.83 1135.24 L502.66 1135.16 L505.20 1134.90 L507.48 1134.36 L509.60 1133.52 L511.57 1132.45 L513.42 1131.25 L515.17 1130.02 L516.83 1128.83 L518.44 1127.80 L520.00 1127.00 L521.40 1126.35 L522.56 1125.71 L523.57 1125.14 L524.55 1124.66 L525.58 1124.32 L526.77 1124.15 L528.21 1124.20 L530.00 1124.50 L532.17 1125.10 L534.63 1126.00 L537.32 1127.13 L540.18 1128.42 L543.14 1129.81 L546.14 1131.25 L549.12 1132.67 L552.00 1134.00 L554.99 1135.36 L558.24 1136.86 L561.60 1138.43 L564.92 1139.99 L568.08 1141.48 L570.92 1142.83 L573.31 1143.96 L575.10 1144.80 L580.53 1147.35" fill="none" stroke="#873574" stroke-width="3.8" stroke-opacity="0.55" stroke-linejoin="round" stroke-linecap="butt"/>
<path d="M488.30 1119.50 L488.88 1120.08 L489.65 1120.84 L490.56 1121.75 L491.58 1122.76 L492.66 1123.83 L493.79 1124.92 L494.91 1125.99 L496.00 1127.00 L497.14 1128.02 L498.41 1129.13 L499.74 1130.28 L501.08 1131.42 L502.36 1132.50 L503.51 1133.47 L504.48 1134.29 L505.20 1134.90" fill="none" stroke="#a8b41e" stroke-width="3.8" stroke-opacity="0.55" stroke-linejoin="round" stroke-linecap="butt"/>
<path d="M438.59 1058.64 L442.10 1063.50 L443.05 1064.81 L444.31 1066.56 L445.81 1068.64 L447.48 1070.96 L449.25 1073.40 L451.04 1075.87 L452.78 1078.27 L454.40 1080.50 L455.94 1082.60 L457.47 1084.69 L459.01 1086.78 L460.55 1088.86 L462.09 1090.94 L463.62 1093.02 L465.16 1095.10 L466.70 1097.20 L468.25 1099.32 L469.81 1101.48 L471.38 1103.66 L472.94 1105.83 L474.50 1107.98 L476.03 1110.09 L477.53 1112.13 L479.00 1114.10 L480.42 1116.01 L481.79 1117.89 L483.13 1119.73 L484.45 1121.52 L485.76 1123.25 L487.09 1124.90 L488.43 1126.45 L489.80 1127.90 L491.28 1129.27 L492.90 1130.60 L494.57 1131.85 L496.23 1133.01 L497.80 1134.07 L499.22 1135.00 L500.41 1135.78 L501.30 1136.40 L501.30 1136.40 L502.18 1135.92 L503.35 1135.32 L504.74 1134.63 L506.28 1133.82 L507.92 1132.90 L509.60 1131.88 L511.25 1130.74 L512.80 1129.50 L514.30 1128.13 L515.82 1126.62 L517.35 1125.00 L518.90 1123.27 L520.45 1121.45 L522.01 1119.56 L523.56 1117.60 L525.10 1115.60 L526.64 1113.54 L528.18 1111.39 L529.71 1109.17 L531.25 1106.87 L532.79 1104.52 L534.33 1102.12 L535.86 1099.68 L537.40 1097.20 L538.94 1094.69 L540.48 1092.15 L542.01 1089.57 L543.55 1086.93 L545.09 1084.24 L546.63 1081.47 L548.16 1078.63 L549.70 1075.70 L551.27 1072.63 L552.88 1069.39 L554.51 1066.05 L556.14 1062.65 L557.72 1059.25 L559.25 1055.91 L560.68 1052.67 L562.00 1049.60 L563.21 1046.65 L564.34 1043.76 L565.40 1040.93 L566.38 1038.18 L567.30 1035.51 L568.16 1032.94 L568.96 1030.46 L569.70 1028.10 L570.38 1025.80 L571.00 1023.55 L571.55 1021.36 L572.04 1019.29 L572.47 1017.35 L572.86 1015.58 L573.20 1014.02 L573.50 1012.70 L573.74 1011.65 L573.91 1010.87 L574.02 1010.29 L574.09 1009.89 L574.12 1009.60 L574.15 1009.39 L574.17 1009.21 L574.20 1009.00" fill="none" stroke="#5a3a9e" stroke-width="7.8" stroke-linejoin="round" stroke-linecap="butt"/></g>
<rect x="441.4" y="348.90" width="133.8" height="7.7" fill="url(#gbar)" fill-opacity="0.85"/>
<line x1="441.40" y1="137.70" x2="441.40" y2="358.60" stroke="#000" stroke-width="3"/>
<line x1="441.40" y1="342.60" x2="441.40" y2="357.20" stroke="#000" stroke-width="3"/>
<line x1="508.50" y1="342.60" x2="508.50" y2="357.20" stroke="#000" stroke-width="3"/>
<line x1="575.50" y1="342.60" x2="575.50" y2="357.20" stroke="#000" stroke-width="3"/>
<line x1="441.40" y1="323.30" x2="456.20" y2="323.30" stroke="#000" stroke-width="3"/>
<line x1="441.40" y1="250.40" x2="456.20" y2="250.40" stroke="#000" stroke-width="3"/>
<line x1="441.40" y1="177.60" x2="456.20" y2="177.60" stroke="#000" stroke-width="3"/>
<text x="412.82" y="332.50" font-size="25.82" textLength="14.40" lengthAdjust="spacingAndGlyphs" fill="#000">0</text>
<text x="413.67" y="259.60" font-size="25.82" textLength="13.75" lengthAdjust="spacingAndGlyphs" fill="#000">1</text>
<text x="413.59" y="186.80" font-size="25.82" textLength="13.86" lengthAdjust="spacingAndGlyphs" fill="#000">2</text>
<text x="416.46" y="390.60" font-size="25.82" textLength="50.19" lengthAdjust="spacingAndGlyphs" fill="#000">−10</text>
<text x="501.60" y="390.60" font-size="25.82" textLength="14.40" lengthAdjust="spacingAndGlyphs" fill="#000">0</text>
<text x="560.30" y="390.60" font-size="25.82" textLength="30.02" lengthAdjust="spacingAndGlyphs" fill="#000">10</text>
<text transform="translate(388.60,374.47) rotate(-90)" x="-2.59" y="0" font-size="30.40" textLength="255.94" lengthAdjust="spacingAndGlyphs" fill="#000">Normalized ΔAUC</text>
<rect x="441.4" y="785.85" width="133.8" height="7.7" fill="url(#gbar)" fill-opacity="0.85"/>
<line x1="441.40" y1="574.65" x2="441.40" y2="795.55" stroke="#000" stroke-width="3"/>
<line x1="441.40" y1="779.55" x2="441.40" y2="794.15" stroke="#000" stroke-width="3"/>
<line x1="508.50" y1="779.55" x2="508.50" y2="794.15" stroke="#000" stroke-width="3"/>
<line x1="575.50" y1="779.55" x2="575.50" y2="794.15" stroke="#000" stroke-width="3"/>
<line x1="459.12" y1="786.85" x2="459.12" y2="794.15" stroke="#000" stroke-width="2.2" stroke-opacity="0.55"/>
<line x1="474.02" y1="786.85" x2="474.02" y2="794.15" stroke="#000" stroke-width="2.2" stroke-opacity="0.55"/>
<line x1="486.93" y1="786.85" x2="486.93" y2="794.15" stroke="#000" stroke-width="2.2" stroke-opacity="0.55"/>
<line x1="498.32" y1="786.85" x2="498.32" y2="794.15" stroke="#000" stroke-width="2.2" stroke-opacity="0.55"/>
<line x1="441.40" y1="775.00" x2="456.20" y2="775.00" stroke="#000" stroke-width="3"/>
<line x1="441.40" y1="705.50" x2="456.20" y2="705.50" stroke="#000" stroke-width="3"/>
<line x1="441.40" y1="635.20" x2="456.20" y2="635.20" stroke="#000" stroke-width="3"/>
<text x="368.50" y="784.20" font-size="25.82" textLength="57.52" lengthAdjust="spacingAndGlyphs" fill="#000">−0.5</text>
<text x="387.94" y="714.70" font-size="25.82" textLength="37.93" lengthAdjust="spacingAndGlyphs" fill="#000">0.0</text>
<text x="388.47" y="644.40" font-size="25.82" textLength="37.47" lengthAdjust="spacingAndGlyphs" fill="#000">0.5</text>
<text x="423.01" y="827.55" font-size="25.82" textLength="37.47" lengthAdjust="spacingAndGlyphs" fill="#000">0.5</text>
<text x="489.37" y="827.55" font-size="25.82" textLength="37.85" lengthAdjust="spacingAndGlyphs" fill="#000">1.0</text>
<text x="556.62" y="827.55" font-size="25.82" textLength="38.06" lengthAdjust="spacingAndGlyphs" fill="#000">2.0</text>
<text transform="translate(359.10,810.07) rotate(-90)" x="-2.59" y="0" font-size="30.40" textLength="255.94" lengthAdjust="spacingAndGlyphs" fill="#000">Normalized ΔAUC</text>
<rect x="441.4" y="1222.80" width="133.8" height="7.7" fill="url(#gbar)" fill-opacity="0.85"/>
<line x1="441.40" y1="1011.60" x2="441.40" y2="1232.50" stroke="#000" stroke-width="3"/>
<line x1="441.40" y1="1216.50" x2="441.40" y2="1231.10" stroke="#000" stroke-width="3"/>
<line x1="508.50" y1="1216.50" x2="508.50" y2="1231.10" stroke="#000" stroke-width="3"/>
<line x1="575.50" y1="1216.50" x2="575.50" y2="1231.10" stroke="#000" stroke-width="3"/>
<line x1="459.12" y1="1223.80" x2="459.12" y2="1231.10" stroke="#000" stroke-width="2.2" stroke-opacity="0.55"/>
<line x1="474.02" y1="1223.80" x2="474.02" y2="1231.10" stroke="#000" stroke-width="2.2" stroke-opacity="0.55"/>
<line x1="486.93" y1="1223.80" x2="486.93" y2="1231.10" stroke="#000" stroke-width="2.2" stroke-opacity="0.55"/>
<line x1="498.32" y1="1223.80" x2="498.32" y2="1231.10" stroke="#000" stroke-width="2.2" stroke-opacity="0.55"/>
<line x1="441.40" y1="1220.10" x2="456.20" y2="1220.10" stroke="#000" stroke-width="3"/>
<line x1="441.40" y1="1134.20" x2="456.20" y2="1134.20" stroke="#000" stroke-width="3"/>
<line x1="441.40" y1="1048.60" x2="456.20" y2="1048.60" stroke="#000" stroke-width="3"/>
<text x="368.50" y="1229.30" font-size="25.82" textLength="57.52" lengthAdjust="spacingAndGlyphs" fill="#000">−0.5</text>
<text x="387.94" y="1143.40" font-size="25.82" textLength="37.93" lengthAdjust="spacingAndGlyphs" fill="#000">0.0</text>
<text x="388.47" y="1057.80" font-size="25.82" textLength="37.47" lengthAdjust="spacingAndGlyphs" fill="#000">0.5</text>
<text x="423.01" y="1264.50" font-size="25.82" textLength="37.47" lengthAdjust="spacingAndGlyphs" fill="#000">0.5</text>
<text x="489.37" y="1264.50" font-size="25.82" textLength="37.85" lengthAdjust="spacingAndGlyphs" fill="#000">1.0</text>
<text x="556.62" y="1264.50" font-size="25.82" textLength="38.06" lengthAdjust="spacingAndGlyphs" fill="#000">2.0</text>
<text transform="translate(359.10,1247.02) rotate(-90)" x="-2.59" y="0" font-size="30.40" textLength="255.94" lengthAdjust="spacingAndGlyphs" fill="#000">Normalized ΔAUC</text>
<text x="472.42" y="435.90" font-size="30.40" textLength="39.23" lengthAdjust="spacingAndGlyphs" fill="#000">ΔV</text>
<text x="513.31" y="439.30" font-size="18.91" textLength="30.90" lengthAdjust="spacingAndGlyphs" fill="#000">1/2</text>
<text x="469.79" y="872.80" font-size="30.40" textLength="42.07" lengthAdjust="spacingAndGlyphs" fill="#000">k/k</text>
<text x="514.00" y="876.70" font-size="19.49" textLength="31.77" lengthAdjust="spacingAndGlyphs" fill="#000">WT</text>
<text x="468.22" y="1309.55" font-size="30.40" textLength="45.80" lengthAdjust="spacingAndGlyphs" fill="#000">g/g</text>
<text x="515.80" y="1313.35" font-size="20.07" textLength="32.07" lengthAdjust="spacingAndGlyphs" fill="#000">WT</text>
<line x1="736.20" y1="149.20" x2="2046.90" y2="149.20" stroke="#000" stroke-width="2.25" stroke-dasharray="2.25 3.26"/>
<line x1="736.20" y1="347.10" x2="2046.90" y2="347.10" stroke="#000" stroke-width="2.25" stroke-dasharray="2.25 3.26"/>
<line x1="736.40" y1="147.80" x2="736.40" y2="348.50" stroke="#000" stroke-width="2.9"/>
<line x1="736.40" y1="149.20" x2="751.00" y2="149.20" stroke="#000" stroke-width="2.8"/>
<line x1="736.40" y1="248.10" x2="751.00" y2="248.10" stroke="#000" stroke-width="2.8"/>
<line x1="736.40" y1="347.10" x2="751.00" y2="347.10" stroke="#000" stroke-width="2.8"/>
<line x1="736.20" y1="248.10" x2="2046.90" y2="248.10" stroke="#9a0000" stroke-width="2.0" stroke-dasharray="2.0 3.49"/>
<line x1="829.20" y1="342.45" x2="829.20" y2="356.95" stroke="#000" stroke-width="3"/>
<line x1="1016.53" y1="342.45" x2="1016.53" y2="356.95" stroke="#000" stroke-width="3"/>
<line x1="1203.86" y1="342.45" x2="1203.86" y2="356.95" stroke="#000" stroke-width="3"/>
<line x1="1391.19" y1="342.45" x2="1391.19" y2="356.95" stroke="#000" stroke-width="3"/>
<line x1="1578.52" y1="342.45" x2="1578.52" y2="356.95" stroke="#000" stroke-width="3"/>
<line x1="1765.85" y1="342.45" x2="1765.85" y2="356.95" stroke="#000" stroke-width="3"/>
<line x1="1953.18" y1="342.45" x2="1953.18" y2="356.95" stroke="#000" stroke-width="3"/>
<rect x="1128.93" y="140.00" width="149.86" height="215.70" fill="none" stroke="#000" stroke-width="3.4"/>
<path d="M779.20 140.91L787.69 149.40L779.20 157.89L770.71 149.40Z" fill="#5a3a9e"/>
<path d="M796.00 140.91L804.49 149.40L796.00 157.89L787.51 149.40Z" fill="#f5821f"/>
<path d="M812.60 140.91L821.09 149.40L812.60 157.89L804.11 149.40Z" fill="#4a8a1c"/>
<path d="M829.10 145.40L835.10 157.40L823.10 157.40Z" fill="#0f7a38"/>
<path d="M845.50 143.00L851.50 155.00L839.50 155.00Z" fill="#a8b41e"/>
<rect x="856.40" y="142.80" width="12.00" height="12.00" fill="#2163a8"/>
<rect x="872.70" y="143.00" width="12.00" height="12.00" fill="#873574"/>
<path d="M813.70 179.00L819.70 191.00L807.70 191.00Z" fill="#12899a"/>
<circle cx="829.10" cy="189.60" r="6.00" fill="#c42a1c"/>
<circle cx="829.10" cy="248.00" r="6.00" fill="#41a98a"/>
<circle cx="812.50" cy="347.00" r="6.00" fill="#ecd432"/>
<rect x="823.10" y="341.40" width="12.00" height="12.00" fill="#d22f51"/>
<path d="M1016.30 157.80L1022.30 169.80L1010.30 169.80Z" fill="#12899a"/>
<circle cx="1016.30" cy="264.40" r="6.00" fill="#ecd432"/>
<path d="M1016.30 299.90L1022.30 311.90L1010.30 311.90Z" fill="#a8b41e"/>
<path d="M1024.80 321.51L1033.29 330.00L1024.80 338.49L1016.31 330.00Z" fill="#5a3a9e"/>
<rect x="1004.00" y="329.80" width="12.00" height="12.00" fill="#873574"/>
<rect x="960.40" y="339.40" width="12.00" height="12.00" fill="#d22f51"/>
<path d="M982.80 341.80L988.80 353.80L976.80 353.80Z" fill="#0f7a38"/>
<circle cx="999.70" cy="346.90" r="6.00" fill="#41a98a"/>
<path d="M1016.30 338.41L1024.79 346.90L1016.30 355.39L1007.81 346.90Z" fill="#f5821f"/>
<rect x="1027.00" y="341.40" width="12.00" height="12.00" fill="#2163a8"/>
<circle cx="1050.00" cy="346.90" r="6.00" fill="#c42a1c"/>
<path d="M1066.20 336.51L1074.69 345.00L1066.20 353.49L1057.71 345.00Z" fill="#4a8a1c"/>
<circle cx="1203.80" cy="150.00" r="6.00" fill="#41a98a"/>
<path d="M1203.80 193.40L1209.80 205.40L1197.80 205.40Z" fill="#12899a"/>
<rect x="1181.90" y="234.60" width="12.00" height="12.00" fill="#d22f51"/>
<circle cx="1203.80" cy="245.20" r="6.00" fill="#ecd432"/>
<rect x="1181.00" y="270.20" width="12.00" height="12.00" fill="#873574"/>
<path d="M1203.80 267.71L1212.29 276.20L1203.80 284.69L1195.31 276.20Z" fill="#5a3a9e"/>
<circle cx="1203.80" cy="299.00" r="6.00" fill="#c42a1c"/>
<path d="M1203.80 307.90L1209.80 319.90L1197.80 319.90Z" fill="#a8b41e"/>
<path d="M1170.40 340.60L1176.40 352.60L1164.40 352.60Z" fill="#0f7a38"/>
<rect x="1181.00" y="341.40" width="12.00" height="12.00" fill="#2163a8"/>
<path d="M1203.80 338.41L1212.29 346.90L1203.80 355.39L1195.31 346.90Z" fill="#f5821f"/>
<path d="M1220.40 337.31L1228.89 345.80L1220.40 354.29L1211.91 345.80Z" fill="#4a8a1c"/>
<path d="M1390.80 325.20L1396.80 337.20L1384.80 337.20Z" fill="#12899a"/>
<path d="M1340.50 337.81L1348.99 346.30L1340.50 354.79L1332.01 346.30Z" fill="#5a3a9e"/>
<rect x="1351.40" y="341.40" width="12.00" height="12.00" fill="#2163a8"/>
<path d="M1374.00 341.80L1380.00 353.80L1368.00 353.80Z" fill="#a8b41e"/>
<path d="M1390.80 338.41L1399.29 346.90L1390.80 355.39L1382.31 346.90Z" fill="#4a8a1c"/>
<path d="M1407.70 338.41L1416.19 346.90L1407.70 355.39L1399.21 346.90Z" fill="#f5821f"/>
<rect x="1418.30" y="341.40" width="12.00" height="12.00" fill="#873574"/>
<path d="M1561.50 140.21L1569.99 148.70L1561.50 157.19L1553.01 148.70Z" fill="#f5821f"/>
<path d="M1578.40 140.21L1586.89 148.70L1578.40 157.19L1569.91 148.70Z" fill="#4a8a1c"/>
<path d="M1578.40 169.80L1584.40 181.80L1572.40 181.80Z" fill="#12899a"/>
<path d="M1578.40 198.00L1584.40 210.00L1572.40 210.00Z" fill="#a8b41e"/>
<path d="M1578.40 242.41L1586.89 250.90L1578.40 259.39L1569.91 250.90Z" fill="#5a3a9e"/>
<rect x="1555.50" y="339.40" width="12.00" height="12.00" fill="#873574"/>
<rect x="1572.10" y="341.40" width="12.00" height="12.00" fill="#2163a8"/>
<rect x="1734.00" y="142.70" width="12.00" height="12.00" fill="#d22f51"/>
<circle cx="1756.60" cy="148.70" r="6.00" fill="#41a98a"/>
<path d="M1774.80 143.20L1780.80 155.20L1768.80 155.20Z" fill="#12899a"/>
<path d="M1765.50 150.71L1773.99 159.20L1765.50 167.69L1757.01 159.20Z" fill="#5a3a9e"/>
<path d="M1952.70 310.31L1961.19 318.80L1952.70 327.29L1944.21 318.80Z" fill="#5a3a9e"/>
<circle cx="1966.10" cy="339.50" r="6.00" fill="#41a98a"/>
<path d="M1936.20 340.60L1942.20 352.60L1930.20 352.60Z" fill="#12899a"/>
<rect x="1946.90" y="341.20" width="12.00" height="12.00" fill="#d22f51"/>
<text x="707.37" y="158.70" font-size="25.82" textLength="13.75" lengthAdjust="spacingAndGlyphs" fill="#000">1</text>
<text x="706.52" y="257.60" font-size="25.82" textLength="14.40" lengthAdjust="spacingAndGlyphs" fill="#000">0</text>
<text x="687.10" y="356.60" font-size="25.82" textLength="34.28" lengthAdjust="spacingAndGlyphs" fill="#000">−1</text>
<text transform="translate(660.00,314.40) rotate(-90)" x="-2.60" y="0" font-size="30.40" textLength="105.83" lengthAdjust="spacingAndGlyphs" fill="#000">Kendall</text>
<text transform="translate(660.00,196.70) rotate(-90)" x="-1.33" y="0" font-size="30.30" textLength="13.40" lengthAdjust="spacingAndGlyphs" font-style="italic" fill="#000">τ</text>
<text x="808.64" y="390.90" font-size="26.47" textLength="31.32" lengthAdjust="spacingAndGlyphs" fill="#000">Na</text>
<text x="767.87" y="418.80" font-size="26.47" textLength="123.34" lengthAdjust="spacingAndGlyphs" fill="#000">activation</text>
<text x="995.97" y="390.90" font-size="26.47" textLength="31.32" lengthAdjust="spacingAndGlyphs" fill="#000">Na</text>
<text x="943.51" y="418.80" font-size="26.47" textLength="145.98" lengthAdjust="spacingAndGlyphs" fill="#000">inactivation</text>
<text x="1190.67" y="390.90" font-size="26.47" textLength="16.82" lengthAdjust="spacingAndGlyphs" fill="#000">K</text>
<text x="1142.53" y="418.80" font-size="26.47" textLength="123.34" lengthAdjust="spacingAndGlyphs" fill="#000">activation</text>
<text x="1355.92" y="390.90" font-size="26.47" textLength="16.82" lengthAdjust="spacingAndGlyphs" fill="#000">K</text>
<text x="1372.51" y="394.80" font-size="18.62" textLength="11.07" lengthAdjust="spacingAndGlyphs" fill="#000">V</text>
<text x="1385.80" y="390.90" font-size="26.47" textLength="38.24" lengthAdjust="spacingAndGlyphs" fill="#000">1.1</text>
<text x="1329.86" y="420.70" font-size="26.47" textLength="123.34" lengthAdjust="spacingAndGlyphs" fill="#000">activation</text>
<text x="1543.25" y="390.90" font-size="26.47" textLength="16.82" lengthAdjust="spacingAndGlyphs" fill="#000">K</text>
<text x="1559.84" y="394.80" font-size="18.62" textLength="11.07" lengthAdjust="spacingAndGlyphs" fill="#000">V</text>
<text x="1573.13" y="390.90" font-size="26.47" textLength="38.24" lengthAdjust="spacingAndGlyphs" fill="#000">1.1</text>
<text x="1505.50" y="420.70" font-size="26.47" textLength="145.98" lengthAdjust="spacingAndGlyphs" fill="#000">inactivation</text>
<text x="1753.55" y="390.90" font-size="26.47" textLength="16.80" lengthAdjust="spacingAndGlyphs" fill="#000">A</text>
<text x="1704.52" y="418.80" font-size="26.47" textLength="123.34" lengthAdjust="spacingAndGlyphs" fill="#000">activation</text>
<text x="1940.88" y="390.90" font-size="26.47" textLength="16.80" lengthAdjust="spacingAndGlyphs" fill="#000">A</text>
<text x="1880.16" y="418.80" font-size="26.47" textLength="145.98" lengthAdjust="spacingAndGlyphs" fill="#000">inactivation</text>
<line x1="736.20" y1="585.20" x2="2046.90" y2="585.20" stroke="#000" stroke-width="2.25" stroke-dasharray="2.25 3.26"/>
<line x1="736.20" y1="784.10" x2="2046.90" y2="784.10" stroke="#000" stroke-width="2.25" stroke-dasharray="2.25 3.26"/>
<line x1="736.40" y1="583.80" x2="736.40" y2="785.50" stroke="#000" stroke-width="2.9"/>
<line x1="736.40" y1="585.20" x2="751.00" y2="585.20" stroke="#000" stroke-width="2.8"/>
<line x1="736.40" y1="685.00" x2="751.00" y2="685.00" stroke="#000" stroke-width="2.8"/>
<line x1="736.40" y1="784.10" x2="751.00" y2="784.10" stroke="#000" stroke-width="2.8"/>
<line x1="736.20" y1="685.00" x2="2046.90" y2="685.00" stroke="#9a0000" stroke-width="2.0" stroke-dasharray="2.0 3.49"/>
<line x1="829.20" y1="779.89" x2="829.20" y2="794.39" stroke="#000" stroke-width="3"/>
<line x1="1016.53" y1="779.89" x2="1016.53" y2="794.39" stroke="#000" stroke-width="3"/>
<line x1="1203.86" y1="779.89" x2="1203.86" y2="794.39" stroke="#000" stroke-width="3"/>
<line x1="1391.19" y1="779.89" x2="1391.19" y2="794.39" stroke="#000" stroke-width="3"/>
<line x1="1578.52" y1="779.89" x2="1578.52" y2="794.39" stroke="#000" stroke-width="3"/>
<line x1="1765.85" y1="779.89" x2="1765.85" y2="794.39" stroke="#000" stroke-width="3"/>
<line x1="1953.18" y1="779.89" x2="1953.18" y2="794.39" stroke="#000" stroke-width="3"/>
<rect x="1316.26" y="577.10" width="149.86" height="215.20" fill="none" stroke="#000" stroke-width="3.4"/>
<circle cx="829.00" cy="657.20" r="6.00" fill="#ecd432"/>
<path d="M813.50 703.70L819.50 715.70L807.50 715.70Z" fill="#0f7a38"/>
<rect x="823.00" y="707.70" width="12.00" height="12.00" fill="#d22f51"/>
<circle cx="812.40" cy="730.60" r="6.00" fill="#c42a1c"/>
<path d="M829.00 726.10L835.00 738.10L823.00 738.10Z" fill="#12899a"/>
<rect x="772.90" y="777.90" width="12.00" height="12.00" fill="#873574"/>
<rect x="789.40" y="777.90" width="12.00" height="12.00" fill="#2163a8"/>
<path d="M812.40 777.90L818.40 789.90L806.40 789.90Z" fill="#a8b41e"/>
<path d="M829.20 774.61L837.69 783.10L829.20 791.59L820.71 783.10Z" fill="#4a8a1c"/>
<path d="M845.70 774.61L854.19 783.10L845.70 791.59L837.21 783.10Z" fill="#f5821f"/>
<path d="M862.60 774.61L871.09 783.10L862.60 791.59L854.11 783.10Z" fill="#5a3a9e"/>
<circle cx="879.20" cy="781.60" r="6.00" fill="#41a98a"/>
<path d="M967.50 576.51L975.99 585.00L967.50 593.49L959.01 585.00Z" fill="#4a8a1c"/>
<path d="M984.00 581.30L990.00 593.30L978.00 593.30Z" fill="#a8b41e"/>
<path d="M999.70 582.61L1008.19 591.10L999.70 599.59L991.21 591.10Z" fill="#f5821f"/>
<circle cx="1016.30" cy="592.60" r="6.00" fill="#41a98a"/>
<circle cx="1032.40" cy="589.60" r="6.00" fill="#ecd432"/>
<circle cx="1048.90" cy="586.50" r="6.00" fill="#c42a1c"/>
<rect x="1059.30" y="579.30" width="12.00" height="12.00" fill="#2163a8"/>
<path d="M1016.30 615.80L1022.30 627.80L1010.30 627.80Z" fill="#12899a"/>
<path d="M1016.30 660.10L1022.30 672.10L1010.30 672.10Z" fill="#0f7a38"/>
<path d="M999.70 770.31L1008.19 778.80L999.70 787.29L991.21 778.80Z" fill="#5a3a9e"/>
<rect x="1010.30" y="774.80" width="12.00" height="12.00" fill="#873574"/>
<rect x="1026.40" y="771.00" width="12.00" height="12.00" fill="#d22f51"/>
<path d="M1171.30 579.70L1177.30 591.70L1165.30 591.70Z" fill="#a8b41e"/>
<path d="M1187.70 582.30L1193.70 594.30L1181.70 594.30Z" fill="#0f7a38"/>
<circle cx="1203.80" cy="591.90" r="6.00" fill="#ecd432"/>
<rect x="1212.90" y="581.30" width="12.00" height="12.00" fill="#873574"/>
<circle cx="1235.80" cy="586.20" r="6.00" fill="#41a98a"/>
<circle cx="1252.20" cy="585.30" r="6.00" fill="#c42a1c"/>
<path d="M1194.60 598.60L1200.60 610.60L1188.60 610.60Z" fill="#12899a"/>
<path d="M1203.80 606.01L1212.29 614.50L1203.80 622.99L1195.31 614.50Z" fill="#5a3a9e"/>
<rect x="1197.50" y="655.00" width="12.00" height="12.00" fill="#d22f51"/>
<path d="M1203.80 717.81L1212.29 726.30L1203.80 734.79L1195.31 726.30Z" fill="#f5821f"/>
<rect x="1181.00" y="777.90" width="12.00" height="12.00" fill="#2163a8"/>
<path d="M1203.80 774.61L1212.29 783.10L1203.80 791.59L1195.31 783.10Z" fill="#4a8a1c"/>
<rect x="1343.40" y="579.30" width="12.00" height="12.00" fill="#873574"/>
<path d="M1366.00 576.81L1374.49 585.30L1366.00 593.79L1357.51 585.30Z" fill="#f5821f"/>
<path d="M1390.80 580.50L1396.80 592.50L1384.80 592.50Z" fill="#a8b41e"/>
<path d="M1407.70 577.71L1416.19 586.20L1407.70 594.69L1399.21 586.20Z" fill="#5a3a9e"/>
<rect x="1418.30" y="579.30" width="12.00" height="12.00" fill="#2163a8"/>
<path d="M1376.70 589.00L1382.70 601.00L1370.70 601.00Z" fill="#12899a"/>
<path d="M1390.80 593.11L1399.29 601.60L1390.80 610.09L1382.31 601.60Z" fill="#4a8a1c"/>
<path d="M1561.50 582.61L1569.99 591.10L1561.50 599.59L1553.01 591.10Z" fill="#5a3a9e"/>
<rect x="1572.10" y="587.00" width="12.00" height="12.00" fill="#873574"/>
<path d="M1591.60 579.70L1597.60 591.70L1585.60 591.70Z" fill="#12899a"/>
<rect x="1602.00" y="579.30" width="12.00" height="12.00" fill="#2163a8"/>
<path d="M1578.40 602.80L1584.40 614.80L1572.40 614.80Z" fill="#a8b41e"/>
<path d="M1578.40 718.61L1586.89 727.10L1578.40 735.59L1569.91 727.10Z" fill="#f5821f"/>
<path d="M1578.40 768.21L1586.89 776.70L1578.40 785.19L1569.91 776.70Z" fill="#4a8a1c"/>
<rect x="1759.50" y="612.50" width="12.00" height="12.00" fill="#d22f51"/>
<circle cx="1765.50" cy="697.90" r="6.00" fill="#41a98a"/>
<path d="M1748.60 774.31L1757.09 782.80L1748.60 791.29L1740.11 782.80Z" fill="#5a3a9e"/>
<path d="M1765.50 777.90L1771.50 789.90L1759.50 789.90Z" fill="#12899a"/>
<path d="M1952.50 657.11L1960.99 665.60L1952.50 674.09L1944.01 665.60Z" fill="#5a3a9e"/>
<rect x="1946.80" y="686.80" width="12.00" height="12.00" fill="#d22f51"/>
<circle cx="1946.70" cy="767.00" r="6.00" fill="#41a98a"/>
<path d="M1952.50 773.30L1958.50 785.30L1946.50 785.30Z" fill="#12899a"/>
<text x="707.37" y="594.70" font-size="25.82" textLength="13.75" lengthAdjust="spacingAndGlyphs" fill="#000">1</text>
<text x="706.52" y="694.50" font-size="25.82" textLength="14.40" lengthAdjust="spacingAndGlyphs" fill="#000">0</text>
<text x="687.10" y="793.60" font-size="25.82" textLength="34.28" lengthAdjust="spacingAndGlyphs" fill="#000">−1</text>
<text transform="translate(660.00,751.35) rotate(-90)" x="-2.60" y="0" font-size="30.40" textLength="105.83" lengthAdjust="spacingAndGlyphs" fill="#000">Kendall</text>
<text transform="translate(660.00,633.65) rotate(-90)" x="-1.33" y="0" font-size="30.30" textLength="13.40" lengthAdjust="spacingAndGlyphs" font-style="italic" fill="#000">τ</text>
<text x="808.64" y="827.85" font-size="26.47" textLength="31.32" lengthAdjust="spacingAndGlyphs" fill="#000">Na</text>
<text x="767.87" y="855.75" font-size="26.47" textLength="123.34" lengthAdjust="spacingAndGlyphs" fill="#000">activation</text>
<text x="995.97" y="827.85" font-size="26.47" textLength="31.32" lengthAdjust="spacingAndGlyphs" fill="#000">Na</text>
<text x="943.51" y="855.75" font-size="26.47" textLength="145.98" lengthAdjust="spacingAndGlyphs" fill="#000">inactivation</text>
<text x="1190.67" y="827.85" font-size="26.47" textLength="16.82" lengthAdjust="spacingAndGlyphs" fill="#000">K</text>
<text x="1142.53" y="855.75" font-size="26.47" textLength="123.34" lengthAdjust="spacingAndGlyphs" fill="#000">activation</text>
<text x="1355.92" y="827.85" font-size="26.47" textLength="16.82" lengthAdjust="spacingAndGlyphs" fill="#000">K</text>
<text x="1372.51" y="831.75" font-size="18.62" textLength="11.07" lengthAdjust="spacingAndGlyphs" fill="#000">V</text>
<text x="1385.80" y="827.85" font-size="26.47" textLength="38.24" lengthAdjust="spacingAndGlyphs" fill="#000">1.1</text>
<text x="1329.86" y="857.65" font-size="26.47" textLength="123.34" lengthAdjust="spacingAndGlyphs" fill="#000">activation</text>
<text x="1543.25" y="827.85" font-size="26.47" textLength="16.82" lengthAdjust="spacingAndGlyphs" fill="#000">K</text>
<text x="1559.84" y="831.75" font-size="18.62" textLength="11.07" lengthAdjust="spacingAndGlyphs" fill="#000">V</text>
<text x="1573.13" y="827.85" font-size="26.47" textLength="38.24" lengthAdjust="spacingAndGlyphs" fill="#000">1.1</text>
<text x="1505.50" y="857.65" font-size="26.47" textLength="145.98" lengthAdjust="spacingAndGlyphs" fill="#000">inactivation</text>
<text x="1753.55" y="827.85" font-size="26.47" textLength="16.80" lengthAdjust="spacingAndGlyphs" fill="#000">A</text>
<text x="1704.52" y="855.75" font-size="26.47" textLength="123.34" lengthAdjust="spacingAndGlyphs" fill="#000">activation</text>
<text x="1940.88" y="827.85" font-size="26.47" textLength="16.80" lengthAdjust="spacingAndGlyphs" fill="#000">A</text>
<text x="1880.16" y="855.75" font-size="26.47" textLength="145.98" lengthAdjust="spacingAndGlyphs" fill="#000">inactivation</text>
<line x1="736.20" y1="1022.10" x2="2046.90" y2="1022.10" stroke="#000" stroke-width="2.25" stroke-dasharray="2.25 3.26"/>
<line x1="736.20" y1="1220.20" x2="2046.90" y2="1220.20" stroke="#000" stroke-width="2.25" stroke-dasharray="2.25 3.26"/>
<line x1="736.40" y1="1020.70" x2="736.40" y2="1221.60" stroke="#000" stroke-width="2.9"/>
<line x1="736.40" y1="1022.10" x2="751.00" y2="1022.10" stroke="#000" stroke-width="2.8"/>
<line x1="736.40" y1="1121.00" x2="751.00" y2="1121.00" stroke="#000" stroke-width="2.8"/>
<line x1="736.40" y1="1220.20" x2="751.00" y2="1220.20" stroke="#000" stroke-width="2.8"/>
<line x1="736.20" y1="1121.00" x2="2046.90" y2="1121.00" stroke="#9a0000" stroke-width="2.0" stroke-dasharray="2.0 3.49"/>
<line x1="866.60" y1="1215.45" x2="866.60" y2="1229.95" stroke="#000" stroke-width="3"/>
<line x1="1128.80" y1="1215.45" x2="1128.80" y2="1229.95" stroke="#000" stroke-width="3"/>
<line x1="1391.00" y1="1215.45" x2="1391.00" y2="1229.95" stroke="#000" stroke-width="3"/>
<line x1="1653.20" y1="1215.45" x2="1653.20" y2="1229.95" stroke="#000" stroke-width="3"/>
<line x1="1915.40" y1="1215.45" x2="1915.40" y2="1229.95" stroke="#000" stroke-width="3"/>
<rect x="1023.92" y="1013.20" width="209.76" height="215.70" fill="none" stroke="#000" stroke-width="3.4"/>
<path d="M866.60 1054.60L872.60 1066.60L860.60 1066.60Z" fill="#12899a"/>
<circle cx="866.60" cy="1090.60" r="6.00" fill="#ecd432"/>
<rect x="860.60" y="1138.00" width="12.00" height="12.00" fill="#873574"/>
<path d="M866.60 1153.11L875.09 1161.60L866.60 1170.09L858.11 1161.60Z" fill="#5a3a9e"/>
<path d="M800.00 1211.70L806.00 1223.70L794.00 1223.70Z" fill="#a8b41e"/>
<path d="M816.40 1215.20L822.40 1227.20L810.40 1227.20Z" fill="#0f7a38"/>
<rect x="826.90" y="1214.40" width="12.00" height="12.00" fill="#2163a8"/>
<path d="M849.60 1211.51L858.09 1220.00L849.60 1228.49L841.11 1220.00Z" fill="#f5821f"/>
<path d="M866.60 1211.51L875.09 1220.00L866.60 1228.49L858.11 1220.00Z" fill="#4a8a1c"/>
<circle cx="883.20" cy="1220.00" r="6.00" fill="#41a98a"/>
<rect x="894.10" y="1214.40" width="12.00" height="12.00" fill="#d22f51"/>
<circle cx="916.90" cy="1220.40" r="6.00" fill="#c42a1c"/>
<rect x="1099.00" y="1015.60" width="12.00" height="12.00" fill="#2163a8"/>
<path d="M1121.50 1013.91L1129.99 1022.40L1121.50 1030.89L1113.01 1022.40Z" fill="#4a8a1c"/>
<path d="M1138.70 1013.11L1147.19 1021.60L1138.70 1030.09L1130.21 1021.60Z" fill="#f5821f"/>
<path d="M1155.20 1016.40L1161.20 1028.40L1149.20 1028.40Z" fill="#0f7a38"/>
<circle cx="1129.00" cy="1034.00" r="6.00" fill="#c42a1c"/>
<path d="M1129.00 1094.61L1137.49 1103.10L1129.00 1111.59L1120.51 1103.10Z" fill="#5a3a9e"/>
<rect x="1105.90" y="1165.90" width="12.00" height="12.00" fill="#873574"/>
<path d="M1129.00 1166.80L1135.00 1178.80L1123.00 1178.80Z" fill="#a8b41e"/>
<path d="M1095.90 1210.80L1101.90 1222.80L1089.90 1222.80Z" fill="#12899a"/>
<rect x="1105.90" y="1214.40" width="12.00" height="12.00" fill="#d22f51"/>
<circle cx="1129.00" cy="1220.00" r="6.00" fill="#41a98a"/>
<circle cx="1145.60" cy="1220.00" r="6.00" fill="#ecd432"/>
<path d="M1390.90 1013.11L1399.39 1021.60L1390.90 1030.09L1382.41 1021.60Z" fill="#4a8a1c"/>
<path d="M1390.90 1089.01L1399.39 1097.50L1390.90 1105.99L1382.41 1097.50Z" fill="#f5821f"/>
<rect x="1384.90" y="1145.50" width="12.00" height="12.00" fill="#2163a8"/>
<path d="M1390.90 1196.30L1396.90 1208.30L1384.90 1208.30Z" fill="#a8b41e"/>
<rect x="1367.90" y="1214.40" width="12.00" height="12.00" fill="#873574"/>
<path d="M1390.90 1211.51L1399.39 1220.00L1390.90 1228.49L1382.41 1220.00Z" fill="#5a3a9e"/>
<path d="M1407.30 1212.80L1413.30 1224.80L1401.30 1224.80Z" fill="#12899a"/>
<path d="M1653.20 1178.81L1661.69 1187.30L1653.20 1195.79L1644.71 1187.30Z" fill="#5a3a9e"/>
<path d="M1636.40 1214.90L1642.40 1226.90L1630.40 1226.90Z" fill="#12899a"/>
<circle cx="1653.20" cy="1220.00" r="6.00" fill="#41a98a"/>
<rect x="1664.10" y="1214.40" width="12.00" height="12.00" fill="#d22f51"/>
<path d="M1849.20 1016.20L1855.20 1028.20L1843.20 1028.20Z" fill="#0f7a38"/>
<rect x="1860.10" y="1015.90" width="12.00" height="12.00" fill="#2163a8"/>
<path d="M1882.40 1014.11L1890.89 1022.60L1882.40 1031.09L1873.91 1022.60Z" fill="#f5821f"/>
<path d="M1898.90 1016.21L1907.39 1024.70L1898.90 1033.19L1890.41 1024.70Z" fill="#4a8a1c"/>
<path d="M1915.30 1022.20L1921.30 1034.20L1909.30 1034.20Z" fill="#a8b41e"/>
<path d="M1931.50 1016.21L1939.99 1024.70L1931.50 1033.19L1923.01 1024.70Z" fill="#5a3a9e"/>
<circle cx="1948.10" cy="1021.90" r="6.00" fill="#41a98a"/>
<path d="M1964.60 1015.90L1970.60 1027.90L1958.60 1027.90Z" fill="#12899a"/>
<rect x="1975.50" y="1015.90" width="12.00" height="12.00" fill="#873574"/>
<circle cx="1997.80" cy="1021.90" r="6.00" fill="#c42a1c"/>
<circle cx="1899.70" cy="1207.90" r="6.00" fill="#ecd432"/>
<rect x="1909.40" y="1206.70" width="12.00" height="12.00" fill="#d22f51"/>
<text x="707.37" y="1031.60" font-size="25.82" textLength="13.75" lengthAdjust="spacingAndGlyphs" fill="#000">1</text>
<text x="706.52" y="1130.50" font-size="25.82" textLength="14.40" lengthAdjust="spacingAndGlyphs" fill="#000">0</text>
<text x="687.10" y="1229.70" font-size="25.82" textLength="34.28" lengthAdjust="spacingAndGlyphs" fill="#000">−1</text>
<text transform="translate(660.00,1188.30) rotate(-90)" x="-2.60" y="0" font-size="30.40" textLength="105.83" lengthAdjust="spacingAndGlyphs" fill="#000">Kendall</text>
<text transform="translate(660.00,1070.60) rotate(-90)" x="-1.33" y="0" font-size="30.30" textLength="13.40" lengthAdjust="spacingAndGlyphs" font-style="italic" fill="#000">τ</text>
<text x="850.44" y="1263.50" font-size="26.47" textLength="31.32" lengthAdjust="spacingAndGlyphs" fill="#000">Na</text>
<text x="1120.01" y="1263.50" font-size="26.47" textLength="16.82" lengthAdjust="spacingAndGlyphs" fill="#000">K</text>
<text x="1355.73" y="1263.50" font-size="26.47" textLength="16.82" lengthAdjust="spacingAndGlyphs" fill="#000">K</text>
<text x="1372.32" y="1267.40" font-size="18.62" textLength="11.07" lengthAdjust="spacingAndGlyphs" fill="#000">V</text>
<text x="1385.61" y="1263.50" font-size="26.47" textLength="38.24" lengthAdjust="spacingAndGlyphs" fill="#000">1.1</text>
<text x="1645.30" y="1263.50" font-size="26.47" textLength="16.80" lengthAdjust="spacingAndGlyphs" fill="#000">A</text>
<text x="1885.62" y="1263.50" font-size="26.47" textLength="58.34" lengthAdjust="spacingAndGlyphs" fill="#000">Leak</text>
<text x="1306.13" y="103.10" font-size="30.40" textLength="125.82" lengthAdjust="spacingAndGlyphs" fill="#000">Shift (ΔV</text>
<text x="1433.19" y="106.60" font-size="18.91" textLength="31.23" lengthAdjust="spacingAndGlyphs" fill="#000">1/2</text>
<text x="1467.94" y="103.10" font-size="30.40" textLength="8.67" lengthAdjust="spacingAndGlyphs" fill="#000">)</text>
<text x="1326.11" y="539.80" font-size="30.40" textLength="129.41" lengthAdjust="spacingAndGlyphs" fill="#000">Slope (k)</text>
<text x="1269.63" y="977.00" font-size="30.40" textLength="242.21" lengthAdjust="spacingAndGlyphs" fill="#000">Conductance (g)</text>
<circle cx="423.50" cy="1407.20" r="6.25" fill="#41a98a"/>
<text x="467.43" y="1415.80" font-size="26.47" textLength="99.98" lengthAdjust="spacingAndGlyphs" fill="#000">Model A</text>
<circle cx="423.50" cy="1443.20" r="6.25" fill="#ecd432"/>
<text x="467.47" y="1452.00" font-size="26.47" textLength="99.80" lengthAdjust="spacingAndGlyphs" fill="#000">Model B</text>
<circle cx="644.40" cy="1407.20" r="6.25" fill="#c42a1c"/>
<text x="688.40" y="1415.80" font-size="26.47" textLength="100.09" lengthAdjust="spacingAndGlyphs" fill="#000">Model C</text>
<path d="M644.40 1434.85L651.35 1448.75L637.45 1448.75Z" fill="#0f7a38"/>
<text x="688.35" y="1452.00" font-size="26.47" textLength="102.10" lengthAdjust="spacingAndGlyphs" fill="#000">Model D</text>
<path d="M866.00 1398.85L872.95 1412.75L859.05 1412.75Z" fill="#a8b41e"/>
<text x="910.00" y="1415.80" font-size="26.47" textLength="98.30" lengthAdjust="spacingAndGlyphs" fill="#000">Model E</text>
<path d="M866.00 1434.85L872.95 1448.75L859.05 1448.75Z" fill="#12899a"/>
<text x="910.00" y="1452.00" font-size="26.47" textLength="96.94" lengthAdjust="spacingAndGlyphs" fill="#000">Model F</text>
<path d="M1085.30 1398.36L1094.14 1407.20L1085.30 1416.04L1076.46 1407.20Z" fill="#f5821f"/>
<text x="1129.28" y="1415.80" font-size="26.47" textLength="102.33" lengthAdjust="spacingAndGlyphs" fill="#000">Model G</text>
<path d="M1085.30 1434.36L1094.14 1443.20L1085.30 1452.04L1076.46 1443.20Z" fill="#4a8a1c"/>
<text x="1129.26" y="1452.00" font-size="26.47" textLength="101.56" lengthAdjust="spacingAndGlyphs" fill="#000">Model H</text>
<path d="M1308.20 1398.36L1317.04 1407.20L1308.20 1416.04L1299.36 1407.20Z" fill="#5a3a9e"/>
<text x="1352.14" y="1415.80" font-size="26.47" textLength="90.45" lengthAdjust="spacingAndGlyphs" fill="#000">Model I</text>
<rect x="1302.25" y="1437.25" width="11.90" height="11.90" fill="#2163a8"/>
<text x="1352.30" y="1452.00" font-size="26.47" textLength="89.65" lengthAdjust="spacingAndGlyphs" fill="#000">Model J</text>
<rect x="1511.85" y="1401.25" width="11.90" height="11.90" fill="#873574"/>
<text x="1561.76" y="1415.80" font-size="26.47" textLength="100.23" lengthAdjust="spacingAndGlyphs" fill="#000">Model K</text>
<rect x="1511.85" y="1437.25" width="11.90" height="11.90" fill="#d22f51"/>
<text x="1561.75" y="1452.00" font-size="26.47" textLength="97.71" lengthAdjust="spacingAndGlyphs" fill="#000">Model L</text>
</svg>
</body></html>
